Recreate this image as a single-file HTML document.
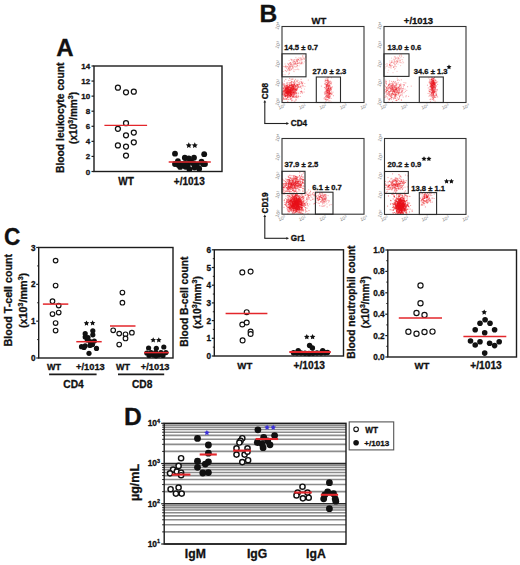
<!DOCTYPE html>
<html><head><meta charset="utf-8"><style>
html,body{margin:0;padding:0;background:#fff;}
svg{display:block;font-family:"Liberation Sans", sans-serif;}
</style></head><body>
<svg width="520" height="565" viewBox="0 0 520 565">
<defs><filter id="bl" x="-5%" y="-5%" width="110%" height="110%"><feGaussianBlur stdDeviation="0.3"/></filter></defs>
<rect width="520" height="565" fill="#fff"/>
<text x="56.30" y="56.40" font-size="24" font-weight="bold" text-anchor="start" fill="#111" stroke="#111" stroke-width="0.3">A</text>
<rect x="94.00" y="66.00" width="128.00" height="105.50" stroke="#1c1c1c" stroke-width="1.4" fill="none"/>
<line x1="91.50" y1="171.50" x2="94.00" y2="171.50" stroke="#1c1c1c" stroke-width="1.2"/>
<text x="90.20" y="174.50" font-size="8" font-weight="bold" text-anchor="end" fill="#111" stroke="#111" stroke-width="0.3">0</text>
<line x1="91.50" y1="156.43" x2="94.00" y2="156.43" stroke="#1c1c1c" stroke-width="1.2"/>
<text x="90.20" y="159.43" font-size="8" font-weight="bold" text-anchor="end" fill="#111" stroke="#111" stroke-width="0.3">2</text>
<line x1="91.50" y1="141.36" x2="94.00" y2="141.36" stroke="#1c1c1c" stroke-width="1.2"/>
<text x="90.20" y="144.36" font-size="8" font-weight="bold" text-anchor="end" fill="#111" stroke="#111" stroke-width="0.3">4</text>
<line x1="91.50" y1="126.29" x2="94.00" y2="126.29" stroke="#1c1c1c" stroke-width="1.2"/>
<text x="90.20" y="129.29" font-size="8" font-weight="bold" text-anchor="end" fill="#111" stroke="#111" stroke-width="0.3">6</text>
<line x1="91.50" y1="111.21" x2="94.00" y2="111.21" stroke="#1c1c1c" stroke-width="1.2"/>
<text x="90.20" y="114.21" font-size="8" font-weight="bold" text-anchor="end" fill="#111" stroke="#111" stroke-width="0.3">8</text>
<line x1="91.50" y1="96.14" x2="94.00" y2="96.14" stroke="#1c1c1c" stroke-width="1.2"/>
<text x="90.20" y="99.14" font-size="8" font-weight="bold" text-anchor="end" fill="#111" stroke="#111" stroke-width="0.3">10</text>
<line x1="91.50" y1="81.07" x2="94.00" y2="81.07" stroke="#1c1c1c" stroke-width="1.2"/>
<text x="90.20" y="84.07" font-size="8" font-weight="bold" text-anchor="end" fill="#111" stroke="#111" stroke-width="0.3">12</text>
<line x1="91.50" y1="66.00" x2="94.00" y2="66.00" stroke="#1c1c1c" stroke-width="1.2"/>
<text x="90.20" y="69.00" font-size="8" font-weight="bold" text-anchor="end" fill="#111" stroke="#111" stroke-width="0.3">14</text>
<text x="63.90" y="117.80" font-size="10.3" font-weight="bold" text-anchor="middle" fill="#111" stroke="#111" stroke-width="0.3" transform="rotate(-90 63.9 117.8)">Blood leukocyte count</text>
<text x="76.60" y="117.90" font-size="10.05" font-weight="bold" text-anchor="middle" fill="#111" stroke="#111" stroke-width="0.3" transform="rotate(-90 76.6 117.9)">(x10<tspan font-size="7.0" dy="-3.8">3</tspan><tspan dy="3.8">/mm</tspan><tspan font-size="7.0" dy="-3.8">3</tspan><tspan dy="3.8">)</tspan></text>
<text x="126.00" y="185.00" font-size="10" font-weight="bold" text-anchor="middle" fill="#111" stroke="#111" stroke-width="0.3">WT</text>
<text x="189.30" y="185.00" font-size="10" font-weight="bold" text-anchor="middle" fill="#111" stroke="#111" stroke-width="0.3">+/1013</text>
<circle cx="117.90" cy="87.70" r="2.5" fill="#fff" stroke="#111" stroke-width="1.25"/>
<circle cx="126.00" cy="92.30" r="2.5" fill="#fff" stroke="#111" stroke-width="1.25"/>
<circle cx="133.80" cy="91.70" r="2.5" fill="#fff" stroke="#111" stroke-width="1.25"/>
<circle cx="126.00" cy="123.20" r="2.5" fill="#fff" stroke="#111" stroke-width="1.25"/>
<circle cx="117.90" cy="128.80" r="2.5" fill="#fff" stroke="#111" stroke-width="1.25"/>
<circle cx="126.00" cy="135.30" r="2.5" fill="#fff" stroke="#111" stroke-width="1.25"/>
<circle cx="133.80" cy="132.50" r="2.5" fill="#fff" stroke="#111" stroke-width="1.25"/>
<circle cx="133.80" cy="142.30" r="2.5" fill="#fff" stroke="#111" stroke-width="1.25"/>
<circle cx="117.90" cy="145.40" r="2.5" fill="#fff" stroke="#111" stroke-width="1.25"/>
<circle cx="126.00" cy="146.50" r="2.5" fill="#fff" stroke="#111" stroke-width="1.25"/>
<circle cx="126.00" cy="155.50" r="2.5" fill="#fff" stroke="#111" stroke-width="1.25"/>
<circle cx="175.00" cy="153.70" r="2.9" fill="#111"/>
<circle cx="182.00" cy="164.00" r="2.9" fill="#111"/>
<circle cx="188.00" cy="164.50" r="2.9" fill="#111"/>
<circle cx="197.00" cy="164.50" r="2.9" fill="#111"/>
<circle cx="203.00" cy="164.00" r="2.9" fill="#111"/>
<circle cx="185.50" cy="166.80" r="2.9" fill="#111"/>
<circle cx="194.50" cy="167.50" r="2.9" fill="#111"/>
<circle cx="178.50" cy="165.00" r="2.9" fill="#111"/>
<circle cx="191.00" cy="161.50" r="2.9" fill="#111"/>
<circle cx="204.20" cy="154.20" r="2.9" fill="#111"/>
<circle cx="184.80" cy="157.70" r="2.9" fill="#111"/>
<circle cx="188.80" cy="158.30" r="2.9" fill="#111"/>
<circle cx="194.00" cy="157.70" r="2.9" fill="#111"/>
<circle cx="177.90" cy="161.20" r="2.9" fill="#111"/>
<circle cx="201.50" cy="161.70" r="2.9" fill="#111"/>
<circle cx="175.00" cy="164.00" r="2.9" fill="#111"/>
<circle cx="205.00" cy="164.00" r="2.9" fill="#111"/>
<circle cx="180.20" cy="166.90" r="2.9" fill="#111"/>
<circle cx="189.40" cy="169.20" r="2.9" fill="#111"/>
<circle cx="199.20" cy="168.70" r="2.9" fill="#111"/>
<circle cx="185.40" cy="162.90" r="2.9" fill="#111"/>
<circle cx="193.50" cy="163.50" r="2.9" fill="#111"/>
<polygon points="188.80,142.31 189.71,144.16 191.75,144.45 190.27,145.89 190.62,147.92 188.80,146.96 186.98,147.92 187.33,145.89 185.85,144.45 187.89,144.16" fill="#111"/>
<polygon points="194.80,142.31 195.71,144.16 197.75,144.45 196.27,145.89 196.62,147.92 194.80,146.96 192.98,147.92 193.33,145.89 191.85,144.45 193.89,144.16" fill="#111"/>
<text x="259.60" y="21.50" font-size="24.6" font-weight="bold" text-anchor="start" fill="#111" stroke="#111" stroke-width="0.3">B</text>
<text x="319.00" y="24.00" font-size="9.5" font-weight="bold" text-anchor="middle" fill="#111" stroke="#111" stroke-width="0.3">WT</text>
<text x="418.50" y="24.00" font-size="9.5" font-weight="bold" text-anchor="middle" fill="#111" stroke="#111" stroke-width="0.3">+/1013</text>
<g fill="#e8141c" fill-opacity="0.4" filter="url(#bl)"><circle cx="290.3" cy="92.6" r="0.6"/><circle cx="286.1" cy="89.1" r="0.6"/><circle cx="285.1" cy="89.3" r="0.6"/><circle cx="293.1" cy="96.2" r="0.6"/><circle cx="285.8" cy="90.7" r="0.6"/><circle cx="292.5" cy="91.3" r="0.6"/><circle cx="287.6" cy="87.8" r="0.6"/><circle cx="291.1" cy="94.1" r="0.6"/><circle cx="282.6" cy="93.9" r="0.6"/><circle cx="284.8" cy="96.3" r="0.6"/><circle cx="289.7" cy="90.4" r="0.6"/><circle cx="289.6" cy="92.1" r="0.6"/><circle cx="283.3" cy="91.5" r="0.6"/><circle cx="292.0" cy="85.4" r="0.6"/><circle cx="291.6" cy="94.8" r="0.6"/><circle cx="286.7" cy="92.8" r="0.6"/><circle cx="290.1" cy="91.4" r="0.6"/><circle cx="284.5" cy="95.4" r="0.6"/><circle cx="291.4" cy="81.9" r="0.6"/><circle cx="293.5" cy="89.4" r="0.6"/><circle cx="291.8" cy="100.6" r="0.6"/><circle cx="289.7" cy="84.9" r="0.6"/><circle cx="291.3" cy="93.4" r="0.6"/><circle cx="290.4" cy="94.5" r="0.6"/><circle cx="290.9" cy="94.1" r="0.6"/><circle cx="293.9" cy="84.8" r="0.6"/><circle cx="289.2" cy="89.2" r="0.6"/><circle cx="287.0" cy="86.8" r="0.6"/><circle cx="286.5" cy="92.5" r="0.6"/><circle cx="296.2" cy="92.9" r="0.6"/><circle cx="287.2" cy="82.4" r="0.6"/><circle cx="287.3" cy="92.5" r="0.6"/><circle cx="296.6" cy="90.2" r="0.6"/><circle cx="287.2" cy="91.1" r="0.6"/><circle cx="292.3" cy="97.7" r="0.6"/><circle cx="286.9" cy="91.7" r="0.6"/><circle cx="290.7" cy="90.0" r="0.6"/><circle cx="285.8" cy="88.1" r="0.6"/><circle cx="288.3" cy="89.9" r="0.6"/><circle cx="296.1" cy="90.4" r="0.6"/><circle cx="291.1" cy="94.0" r="0.6"/><circle cx="290.7" cy="96.3" r="0.6"/><circle cx="290.9" cy="93.6" r="0.6"/><circle cx="284.9" cy="96.6" r="0.6"/><circle cx="285.9" cy="89.2" r="0.6"/><circle cx="295.9" cy="99.1" r="0.6"/><circle cx="284.4" cy="91.7" r="0.6"/><circle cx="291.6" cy="92.7" r="0.6"/><circle cx="288.2" cy="91.3" r="0.6"/><circle cx="293.8" cy="91.3" r="0.6"/><circle cx="284.9" cy="94.3" r="0.6"/><circle cx="287.0" cy="87.6" r="0.6"/><circle cx="288.4" cy="87.6" r="0.6"/><circle cx="294.1" cy="89.3" r="0.6"/><circle cx="288.4" cy="89.1" r="0.6"/><circle cx="284.0" cy="84.7" r="0.6"/><circle cx="285.6" cy="96.2" r="0.6"/><circle cx="282.6" cy="100.9" r="0.6"/><circle cx="284.0" cy="99.4" r="0.6"/><circle cx="287.9" cy="96.8" r="0.6"/><circle cx="286.2" cy="85.6" r="0.6"/><circle cx="298.5" cy="93.0" r="0.6"/><circle cx="288.5" cy="90.7" r="0.6"/><circle cx="286.4" cy="88.5" r="0.6"/><circle cx="292.8" cy="86.3" r="0.6"/><circle cx="287.3" cy="88.8" r="0.6"/><circle cx="283.6" cy="88.8" r="0.6"/><circle cx="294.5" cy="87.2" r="0.6"/><circle cx="293.6" cy="88.7" r="0.6"/><circle cx="285.7" cy="92.4" r="0.6"/><circle cx="287.1" cy="93.2" r="0.6"/><circle cx="287.1" cy="91.5" r="0.6"/><circle cx="294.9" cy="84.1" r="0.6"/><circle cx="285.9" cy="95.9" r="0.6"/><circle cx="291.8" cy="82.1" r="0.6"/><circle cx="287.0" cy="89.8" r="0.6"/><circle cx="283.9" cy="99.4" r="0.6"/><circle cx="289.6" cy="91.8" r="0.6"/><circle cx="287.4" cy="95.4" r="0.6"/><circle cx="286.8" cy="92.6" r="0.6"/><circle cx="293.9" cy="85.7" r="0.6"/><circle cx="290.7" cy="90.5" r="0.6"/><circle cx="286.3" cy="91.0" r="0.6"/><circle cx="291.4" cy="88.5" r="0.6"/><circle cx="288.9" cy="92.0" r="0.6"/><circle cx="296.2" cy="90.4" r="0.6"/><circle cx="289.7" cy="88.3" r="0.6"/><circle cx="286.0" cy="99.0" r="0.6"/><circle cx="293.3" cy="88.1" r="0.6"/><circle cx="293.8" cy="92.7" r="0.6"/><circle cx="295.4" cy="92.3" r="0.6"/><circle cx="291.4" cy="98.3" r="0.6"/><circle cx="286.4" cy="98.3" r="0.6"/><circle cx="293.8" cy="93.2" r="0.6"/><circle cx="301.3" cy="91.2" r="0.6"/><circle cx="290.4" cy="85.4" r="0.6"/><circle cx="291.6" cy="94.6" r="0.6"/><circle cx="290.7" cy="90.9" r="0.6"/><circle cx="288.6" cy="92.4" r="0.6"/><circle cx="286.3" cy="88.5" r="0.6"/><circle cx="283.8" cy="98.2" r="0.6"/><circle cx="290.3" cy="93.1" r="0.6"/><circle cx="283.6" cy="92.1" r="0.6"/><circle cx="283.0" cy="91.3" r="0.6"/><circle cx="288.4" cy="88.1" r="0.6"/><circle cx="291.9" cy="91.7" r="0.6"/><circle cx="294.6" cy="80.4" r="0.6"/><circle cx="293.1" cy="88.5" r="0.6"/><circle cx="285.8" cy="86.3" r="0.6"/><circle cx="289.4" cy="95.6" r="0.6"/><circle cx="289.4" cy="92.0" r="0.6"/><circle cx="291.2" cy="96.5" r="0.6"/><circle cx="283.9" cy="83.6" r="0.6"/><circle cx="295.3" cy="87.7" r="0.6"/><circle cx="294.7" cy="88.7" r="0.6"/><circle cx="289.6" cy="91.2" r="0.6"/><circle cx="291.7" cy="94.3" r="0.6"/><circle cx="292.4" cy="90.6" r="0.6"/><circle cx="286.3" cy="96.5" r="0.6"/><circle cx="289.3" cy="97.5" r="0.6"/><circle cx="283.7" cy="94.8" r="0.6"/><circle cx="286.1" cy="86.7" r="0.6"/><circle cx="300.5" cy="91.6" r="0.6"/><circle cx="289.5" cy="95.7" r="0.6"/><circle cx="284.5" cy="81.0" r="0.6"/><circle cx="290.4" cy="90.5" r="0.6"/><circle cx="287.1" cy="87.4" r="0.6"/><circle cx="287.9" cy="91.7" r="0.6"/><circle cx="295.4" cy="89.2" r="0.6"/><circle cx="293.3" cy="97.0" r="0.6"/><circle cx="286.2" cy="91.8" r="0.6"/><circle cx="295.9" cy="91.9" r="0.6"/><circle cx="292.6" cy="89.9" r="0.6"/><circle cx="289.8" cy="89.9" r="0.6"/><circle cx="288.8" cy="92.3" r="0.6"/><circle cx="297.3" cy="89.0" r="0.6"/><circle cx="287.8" cy="89.6" r="0.6"/><circle cx="290.8" cy="99.2" r="0.6"/><circle cx="291.8" cy="90.2" r="0.6"/><circle cx="285.2" cy="88.5" r="0.6"/><circle cx="291.4" cy="94.8" r="0.6"/><circle cx="287.3" cy="91.9" r="0.6"/><circle cx="288.8" cy="92.6" r="0.6"/><circle cx="288.1" cy="97.2" r="0.6"/><circle cx="287.7" cy="95.9" r="0.6"/><circle cx="295.2" cy="85.8" r="0.6"/><circle cx="287.4" cy="94.0" r="0.6"/><circle cx="287.0" cy="87.9" r="0.6"/><circle cx="296.5" cy="97.4" r="0.6"/><circle cx="287.9" cy="91.5" r="0.6"/><circle cx="285.9" cy="95.8" r="0.6"/><circle cx="292.7" cy="84.4" r="0.6"/><circle cx="298.0" cy="93.8" r="0.6"/><circle cx="292.0" cy="92.7" r="0.6"/><circle cx="297.3" cy="85.0" r="0.6"/><circle cx="283.6" cy="88.4" r="0.6"/><circle cx="293.4" cy="96.7" r="0.6"/><circle cx="291.2" cy="85.2" r="0.6"/><circle cx="284.6" cy="92.2" r="0.6"/><circle cx="290.2" cy="89.9" r="0.6"/><circle cx="291.2" cy="91.9" r="0.6"/><circle cx="288.1" cy="92.2" r="0.6"/><circle cx="290.2" cy="90.6" r="0.6"/><circle cx="296.4" cy="96.7" r="0.6"/><circle cx="292.2" cy="89.9" r="0.6"/><circle cx="283.3" cy="97.9" r="0.6"/><circle cx="294.9" cy="91.5" r="0.6"/><circle cx="284.5" cy="85.8" r="0.6"/><circle cx="286.2" cy="90.2" r="0.6"/><circle cx="297.9" cy="97.7" r="0.6"/><circle cx="288.5" cy="88.0" r="0.6"/><circle cx="284.4" cy="94.8" r="0.6"/><circle cx="285.8" cy="87.9" r="0.6"/><circle cx="287.1" cy="87.0" r="0.6"/><circle cx="296.9" cy="92.0" r="0.6"/><circle cx="292.9" cy="86.6" r="0.6"/><circle cx="291.4" cy="89.5" r="0.6"/><circle cx="287.0" cy="91.4" r="0.6"/><circle cx="292.4" cy="88.4" r="0.6"/><circle cx="292.9" cy="94.5" r="0.6"/><circle cx="291.2" cy="92.4" r="0.6"/><circle cx="290.5" cy="96.3" r="0.6"/><circle cx="287.3" cy="86.5" r="0.6"/><circle cx="287.6" cy="97.2" r="0.6"/><circle cx="286.7" cy="83.3" r="0.6"/><circle cx="296.7" cy="89.6" r="0.6"/><circle cx="294.3" cy="86.1" r="0.6"/><circle cx="285.4" cy="88.3" r="0.6"/><circle cx="299.9" cy="83.3" r="0.6"/><circle cx="294.6" cy="84.4" r="0.6"/><circle cx="286.0" cy="85.0" r="0.6"/><circle cx="290.4" cy="96.2" r="0.6"/><circle cx="286.9" cy="99.1" r="0.6"/><circle cx="288.3" cy="86.7" r="0.6"/><circle cx="286.2" cy="91.3" r="0.6"/><circle cx="287.9" cy="89.7" r="0.6"/><circle cx="285.2" cy="92.9" r="0.6"/><circle cx="291.5" cy="94.8" r="0.6"/><circle cx="283.0" cy="96.1" r="0.6"/><circle cx="284.3" cy="89.9" r="0.6"/><circle cx="291.8" cy="87.1" r="0.6"/><circle cx="293.9" cy="84.2" r="0.6"/><circle cx="290.6" cy="89.5" r="0.6"/><circle cx="287.8" cy="95.9" r="0.6"/><circle cx="290.4" cy="94.1" r="0.6"/><circle cx="286.6" cy="87.7" r="0.6"/><circle cx="289.2" cy="92.0" r="0.6"/><circle cx="291.3" cy="85.4" r="0.6"/><circle cx="285.0" cy="85.4" r="0.6"/><circle cx="289.5" cy="85.7" r="0.6"/><circle cx="290.4" cy="82.7" r="0.6"/><circle cx="283.0" cy="92.1" r="0.6"/><circle cx="285.6" cy="96.2" r="0.6"/><circle cx="284.2" cy="91.3" r="0.6"/><circle cx="290.1" cy="87.0" r="0.6"/><circle cx="288.9" cy="86.7" r="0.6"/><circle cx="296.6" cy="84.8" r="0.6"/><circle cx="290.5" cy="90.7" r="0.6"/><circle cx="290.3" cy="91.2" r="0.6"/><circle cx="295.0" cy="82.1" r="0.6"/><circle cx="285.7" cy="98.2" r="0.6"/><circle cx="290.6" cy="85.6" r="0.6"/><circle cx="282.7" cy="94.4" r="0.6"/><circle cx="289.0" cy="86.1" r="0.6"/><circle cx="291.2" cy="84.5" r="0.6"/><circle cx="284.5" cy="86.9" r="0.6"/><circle cx="288.8" cy="99.4" r="0.6"/><circle cx="292.0" cy="87.6" r="0.6"/><circle cx="287.7" cy="92.6" r="0.6"/><circle cx="288.9" cy="91.4" r="0.6"/><circle cx="284.6" cy="94.6" r="0.6"/><circle cx="292.6" cy="96.3" r="0.6"/><circle cx="297.1" cy="85.4" r="0.6"/><circle cx="286.1" cy="93.6" r="0.6"/><circle cx="285.0" cy="90.6" r="0.6"/><circle cx="286.6" cy="87.9" r="0.6"/><circle cx="291.8" cy="89.3" r="0.6"/><circle cx="290.1" cy="90.1" r="0.6"/><circle cx="284.0" cy="90.3" r="0.6"/><circle cx="287.1" cy="90.2" r="0.6"/><circle cx="290.5" cy="90.8" r="0.6"/><circle cx="283.9" cy="95.8" r="0.6"/><circle cx="283.0" cy="84.9" r="0.6"/><circle cx="290.3" cy="91.8" r="0.6"/><circle cx="287.8" cy="90.4" r="0.6"/><circle cx="285.4" cy="89.1" r="0.6"/><circle cx="287.0" cy="90.3" r="0.6"/><circle cx="286.9" cy="86.9" r="0.6"/><circle cx="290.9" cy="91.3" r="0.6"/><circle cx="287.8" cy="90.3" r="0.6"/><circle cx="287.7" cy="83.9" r="0.6"/><circle cx="292.1" cy="91.0" r="0.6"/><circle cx="291.7" cy="92.0" r="0.6"/><circle cx="286.1" cy="92.5" r="0.6"/><circle cx="293.3" cy="91.2" r="0.6"/><circle cx="286.6" cy="85.4" r="0.6"/><circle cx="294.7" cy="94.1" r="0.6"/><circle cx="294.4" cy="89.3" r="0.6"/><circle cx="285.2" cy="99.5" r="0.6"/><circle cx="282.5" cy="82.8" r="0.6"/><circle cx="287.3" cy="85.0" r="0.6"/><circle cx="282.4" cy="93.1" r="0.6"/><circle cx="294.0" cy="86.4" r="0.6"/><circle cx="295.1" cy="97.0" r="0.6"/><circle cx="296.0" cy="86.4" r="0.6"/><circle cx="285.3" cy="87.7" r="0.6"/><circle cx="287.6" cy="95.1" r="0.6"/><circle cx="291.5" cy="90.7" r="0.6"/><circle cx="291.8" cy="85.7" r="0.6"/><circle cx="291.1" cy="94.3" r="0.6"/><circle cx="294.7" cy="93.6" r="0.6"/><circle cx="290.4" cy="89.2" r="0.6"/><circle cx="288.5" cy="86.8" r="0.6"/><circle cx="284.0" cy="98.5" r="0.6"/><circle cx="290.0" cy="92.8" r="0.6"/><circle cx="284.8" cy="90.2" r="0.6"/><circle cx="294.3" cy="90.2" r="0.6"/><circle cx="286.9" cy="93.2" r="0.6"/><circle cx="285.8" cy="79.3" r="0.6"/><circle cx="290.3" cy="93.8" r="0.6"/><circle cx="296.7" cy="95.6" r="0.6"/><circle cx="295.1" cy="89.2" r="0.6"/><circle cx="292.8" cy="93.4" r="0.6"/><circle cx="287.1" cy="93.0" r="0.6"/><circle cx="298.3" cy="95.9" r="0.6"/><circle cx="288.7" cy="91.8" r="0.6"/><circle cx="293.7" cy="95.7" r="0.6"/><circle cx="293.1" cy="96.9" r="0.6"/><circle cx="284.9" cy="93.7" r="0.6"/><circle cx="290.6" cy="94.9" r="0.6"/><circle cx="290.1" cy="82.9" r="0.6"/><circle cx="286.5" cy="95.4" r="0.6"/><circle cx="282.9" cy="88.0" r="0.6"/><circle cx="295.2" cy="90.2" r="0.6"/><circle cx="290.4" cy="88.3" r="0.6"/><circle cx="293.3" cy="87.6" r="0.6"/><circle cx="291.9" cy="84.9" r="0.6"/><circle cx="286.4" cy="94.8" r="0.6"/><circle cx="288.2" cy="96.0" r="0.6"/><circle cx="288.3" cy="87.4" r="0.6"/><circle cx="288.9" cy="90.0" r="0.6"/><circle cx="291.8" cy="86.5" r="0.6"/><circle cx="290.7" cy="97.2" r="0.6"/><circle cx="304.1" cy="92.0" r="0.6"/><circle cx="290.3" cy="92.1" r="0.6"/><circle cx="295.7" cy="86.5" r="0.6"/><circle cx="285.6" cy="94.8" r="0.6"/><circle cx="289.3" cy="87.2" r="0.6"/><circle cx="290.4" cy="86.8" r="0.6"/><circle cx="289.4" cy="92.7" r="0.6"/><circle cx="291.3" cy="88.4" r="0.6"/><circle cx="289.4" cy="86.8" r="0.6"/><circle cx="285.4" cy="88.9" r="0.6"/><circle cx="294.3" cy="88.0" r="0.6"/><circle cx="285.5" cy="92.4" r="0.6"/><circle cx="290.3" cy="94.7" r="0.6"/><circle cx="294.3" cy="101.8" r="0.6"/><circle cx="293.3" cy="88.2" r="0.6"/><circle cx="297.7" cy="96.8" r="0.6"/><circle cx="287.6" cy="90.9" r="0.6"/><circle cx="295.9" cy="89.7" r="0.6"/><circle cx="291.1" cy="87.7" r="0.6"/><circle cx="302.0" cy="91.9" r="0.6"/><circle cx="293.6" cy="92.3" r="0.6"/><circle cx="282.5" cy="99.8" r="0.6"/><circle cx="289.8" cy="93.6" r="0.6"/><circle cx="291.5" cy="88.2" r="0.6"/><circle cx="283.2" cy="97.9" r="0.6"/><circle cx="285.5" cy="92.5" r="0.6"/><circle cx="286.1" cy="92.1" r="0.6"/><circle cx="293.4" cy="94.8" r="0.6"/><circle cx="298.0" cy="85.7" r="0.6"/><circle cx="283.1" cy="93.3" r="0.6"/><circle cx="284.8" cy="84.0" r="0.6"/><circle cx="287.1" cy="85.0" r="0.6"/><circle cx="290.5" cy="90.2" r="0.6"/><circle cx="288.0" cy="92.2" r="0.6"/><circle cx="285.7" cy="90.9" r="0.6"/><circle cx="302.4" cy="93.1" r="0.6"/><circle cx="296.9" cy="90.1" r="0.6"/><circle cx="290.3" cy="98.7" r="0.6"/><circle cx="289.1" cy="91.4" r="0.6"/><circle cx="288.5" cy="92.7" r="0.6"/><circle cx="287.4" cy="92.5" r="0.6"/><circle cx="283.9" cy="93.4" r="0.6"/><circle cx="299.0" cy="84.4" r="0.6"/><circle cx="289.8" cy="94.1" r="0.6"/><circle cx="289.7" cy="85.4" r="0.6"/><circle cx="290.9" cy="95.4" r="0.6"/><circle cx="291.0" cy="91.1" r="0.6"/><circle cx="294.4" cy="84.4" r="0.6"/><circle cx="288.5" cy="89.4" r="0.6"/><circle cx="290.9" cy="80.0" r="0.6"/><circle cx="285.3" cy="91.6" r="0.6"/><circle cx="293.9" cy="91.7" r="0.6"/><circle cx="291.5" cy="81.7" r="0.6"/><circle cx="292.0" cy="88.2" r="0.6"/><circle cx="288.0" cy="95.4" r="0.6"/><circle cx="284.1" cy="87.2" r="0.6"/><circle cx="287.7" cy="94.8" r="0.6"/><circle cx="294.8" cy="96.3" r="0.6"/><circle cx="284.8" cy="86.6" r="0.6"/><circle cx="284.0" cy="90.4" r="0.6"/><circle cx="285.4" cy="96.7" r="0.6"/><circle cx="292.2" cy="89.0" r="0.6"/><circle cx="291.3" cy="90.8" r="0.6"/><circle cx="292.3" cy="89.8" r="0.6"/><circle cx="295.8" cy="89.3" r="0.6"/><circle cx="292.2" cy="91.8" r="0.6"/><circle cx="282.9" cy="95.3" r="0.6"/><circle cx="288.9" cy="93.0" r="0.6"/><circle cx="287.8" cy="101.4" r="0.6"/><circle cx="286.9" cy="86.8" r="0.6"/><circle cx="287.3" cy="89.2" r="0.6"/><circle cx="288.3" cy="88.9" r="0.6"/><circle cx="290.0" cy="87.2" r="0.6"/><circle cx="291.8" cy="95.1" r="0.6"/><circle cx="297.9" cy="80.2" r="0.6"/><circle cx="285.4" cy="89.9" r="0.6"/><circle cx="289.9" cy="85.0" r="0.6"/><circle cx="287.4" cy="92.8" r="0.6"/><circle cx="282.9" cy="91.0" r="0.6"/><circle cx="282.3" cy="94.3" r="0.6"/><circle cx="289.7" cy="90.4" r="0.6"/><circle cx="294.3" cy="91.1" r="0.6"/><circle cx="286.9" cy="88.5" r="0.6"/><circle cx="290.7" cy="87.5" r="0.6"/><circle cx="282.5" cy="92.1" r="0.6"/><circle cx="296.2" cy="88.0" r="0.6"/><circle cx="293.2" cy="86.3" r="0.6"/><circle cx="292.0" cy="86.5" r="0.6"/><circle cx="295.1" cy="100.9" r="0.6"/><circle cx="291.5" cy="87.4" r="0.6"/><circle cx="290.0" cy="92.9" r="0.6"/><circle cx="293.4" cy="86.1" r="0.6"/><circle cx="289.8" cy="91.8" r="0.6"/><circle cx="295.9" cy="88.7" r="0.6"/><circle cx="290.2" cy="85.1" r="0.6"/><circle cx="298.5" cy="96.5" r="0.6"/><circle cx="293.4" cy="90.1" r="0.6"/><circle cx="294.7" cy="97.5" r="0.6"/><circle cx="285.3" cy="93.9" r="0.6"/><circle cx="293.3" cy="92.8" r="0.6"/><circle cx="288.4" cy="93.9" r="0.6"/><circle cx="288.6" cy="92.8" r="0.6"/><circle cx="286.1" cy="87.8" r="0.6"/><circle cx="291.6" cy="94.7" r="0.6"/><circle cx="284.8" cy="93.5" r="0.6"/><circle cx="289.6" cy="85.7" r="0.6"/><circle cx="287.6" cy="87.1" r="0.6"/><circle cx="300.2" cy="96.5" r="0.6"/><circle cx="297.6" cy="84.7" r="0.6"/><circle cx="293.0" cy="89.7" r="0.6"/><circle cx="293.8" cy="96.8" r="0.6"/><circle cx="286.5" cy="99.2" r="0.6"/><circle cx="292.8" cy="96.7" r="0.6"/><circle cx="288.6" cy="88.5" r="0.6"/><circle cx="292.5" cy="93.3" r="0.6"/><circle cx="290.9" cy="93.2" r="0.6"/><circle cx="295.1" cy="91.3" r="0.6"/><circle cx="290.3" cy="91.3" r="0.6"/><circle cx="292.8" cy="86.8" r="0.6"/><circle cx="286.0" cy="92.9" r="0.6"/><circle cx="291.1" cy="83.0" r="0.6"/><circle cx="293.0" cy="85.6" r="0.6"/><circle cx="288.0" cy="99.3" r="0.6"/><circle cx="285.8" cy="87.1" r="0.6"/><circle cx="290.3" cy="95.9" r="0.6"/><circle cx="293.5" cy="86.4" r="0.6"/><circle cx="293.0" cy="92.9" r="0.6"/><circle cx="287.7" cy="94.7" r="0.6"/><circle cx="288.0" cy="89.7" r="0.6"/><circle cx="287.6" cy="93.2" r="0.6"/><circle cx="288.2" cy="89.4" r="0.6"/><circle cx="290.5" cy="96.8" r="0.6"/><circle cx="292.6" cy="94.1" r="0.6"/><circle cx="296.1" cy="90.0" r="0.6"/><circle cx="297.1" cy="81.8" r="0.6"/><circle cx="292.1" cy="87.9" r="0.6"/><circle cx="301.7" cy="92.1" r="0.6"/><circle cx="294.3" cy="92.4" r="0.6"/><circle cx="292.5" cy="89.0" r="0.6"/><circle cx="293.1" cy="92.5" r="0.6"/><circle cx="291.8" cy="95.4" r="0.6"/><circle cx="287.5" cy="98.0" r="0.6"/><circle cx="286.3" cy="89.0" r="0.6"/><circle cx="288.8" cy="87.1" r="0.6"/><circle cx="290.6" cy="93.4" r="0.6"/><circle cx="293.5" cy="87.9" r="0.6"/><circle cx="294.0" cy="88.4" r="0.6"/><circle cx="290.6" cy="93.8" r="0.6"/><circle cx="293.1" cy="87.1" r="0.6"/><circle cx="288.1" cy="91.6" r="0.6"/><circle cx="287.6" cy="88.0" r="0.6"/><circle cx="292.9" cy="87.0" r="0.6"/><circle cx="289.4" cy="87.1" r="0.6"/><circle cx="292.0" cy="91.8" r="0.6"/><circle cx="292.8" cy="100.0" r="0.6"/><circle cx="295.6" cy="96.8" r="0.6"/><circle cx="291.9" cy="86.3" r="0.6"/><circle cx="289.0" cy="94.2" r="0.6"/><circle cx="289.9" cy="91.5" r="0.6"/><circle cx="283.7" cy="85.8" r="0.6"/><circle cx="282.9" cy="84.2" r="0.6"/><circle cx="289.3" cy="87.8" r="0.6"/><circle cx="285.9" cy="92.8" r="0.6"/><circle cx="287.0" cy="85.5" r="0.6"/><circle cx="293.6" cy="82.9" r="0.6"/><circle cx="288.8" cy="84.6" r="0.6"/><circle cx="290.0" cy="89.5" r="0.6"/><circle cx="290.7" cy="93.7" r="0.6"/><circle cx="297.5" cy="87.0" r="0.6"/><circle cx="287.6" cy="87.6" r="0.6"/><circle cx="291.4" cy="88.9" r="0.6"/><circle cx="292.9" cy="88.9" r="0.6"/><circle cx="291.9" cy="79.2" r="0.6"/><circle cx="290.5" cy="95.6" r="0.6"/><circle cx="286.0" cy="89.7" r="0.6"/><circle cx="284.9" cy="87.3" r="0.6"/><circle cx="296.2" cy="99.9" r="0.6"/><circle cx="291.6" cy="84.1" r="0.6"/><circle cx="284.8" cy="92.6" r="0.6"/><circle cx="291.7" cy="85.5" r="0.6"/><circle cx="288.8" cy="96.7" r="0.6"/><circle cx="292.2" cy="87.6" r="0.6"/><circle cx="291.1" cy="87.0" r="0.6"/><circle cx="296.3" cy="96.8" r="0.6"/><circle cx="291.6" cy="83.9" r="0.6"/><circle cx="296.1" cy="93.1" r="0.6"/><circle cx="283.9" cy="90.3" r="0.6"/><circle cx="285.0" cy="86.1" r="0.6"/><circle cx="289.7" cy="78.4" r="0.6"/><circle cx="284.1" cy="93.8" r="0.6"/><circle cx="289.0" cy="92.8" r="0.6"/><circle cx="290.1" cy="89.9" r="0.6"/><circle cx="288.9" cy="80.4" r="0.6"/><circle cx="287.7" cy="88.9" r="0.6"/><circle cx="290.6" cy="91.9" r="0.6"/><circle cx="284.0" cy="91.9" r="0.6"/><circle cx="293.8" cy="90.4" r="0.6"/><circle cx="291.8" cy="100.9" r="0.6"/><circle cx="295.6" cy="79.3" r="0.6"/></g>
<g fill="#e8141c" fill-opacity="0.3" filter="url(#bl)"><circle cx="301.6" cy="91.3" r="0.6"/><circle cx="299.6" cy="84.3" r="0.6"/><circle cx="294.2" cy="85.3" r="0.6"/><circle cx="294.2" cy="85.3" r="0.6"/><circle cx="298.4" cy="82.9" r="0.6"/><circle cx="292.1" cy="84.3" r="0.6"/><circle cx="294.3" cy="83.9" r="0.6"/><circle cx="297.1" cy="89.1" r="0.6"/><circle cx="298.4" cy="86.2" r="0.6"/><circle cx="297.6" cy="85.1" r="0.6"/><circle cx="294.9" cy="85.6" r="0.6"/><circle cx="297.2" cy="81.2" r="0.6"/><circle cx="301.5" cy="82.2" r="0.6"/><circle cx="292.1" cy="86.9" r="0.6"/><circle cx="293.5" cy="88.3" r="0.6"/><circle cx="295.0" cy="90.9" r="0.6"/><circle cx="288.9" cy="82.7" r="0.6"/><circle cx="289.5" cy="83.2" r="0.6"/><circle cx="297.7" cy="88.7" r="0.6"/><circle cx="296.4" cy="80.9" r="0.6"/><circle cx="295.9" cy="92.6" r="0.6"/><circle cx="297.3" cy="85.1" r="0.6"/><circle cx="304.5" cy="89.0" r="0.6"/><circle cx="301.6" cy="82.6" r="0.6"/><circle cx="298.5" cy="86.5" r="0.6"/><circle cx="291.7" cy="85.2" r="0.6"/><circle cx="294.6" cy="83.5" r="0.6"/><circle cx="295.9" cy="86.4" r="0.6"/><circle cx="295.2" cy="85.9" r="0.6"/><circle cx="299.6" cy="87.3" r="0.6"/><circle cx="292.6" cy="85.4" r="0.6"/><circle cx="287.7" cy="88.4" r="0.6"/><circle cx="298.3" cy="84.6" r="0.6"/><circle cx="291.2" cy="88.0" r="0.6"/><circle cx="297.0" cy="87.1" r="0.6"/><circle cx="293.1" cy="87.1" r="0.6"/><circle cx="286.6" cy="88.4" r="0.6"/><circle cx="295.0" cy="87.5" r="0.6"/><circle cx="293.1" cy="85.1" r="0.6"/><circle cx="295.7" cy="86.2" r="0.6"/><circle cx="292.4" cy="81.6" r="0.6"/><circle cx="293.9" cy="84.3" r="0.6"/><circle cx="294.1" cy="88.1" r="0.6"/><circle cx="300.2" cy="86.4" r="0.6"/><circle cx="295.6" cy="89.7" r="0.6"/><circle cx="302.8" cy="85.4" r="0.6"/><circle cx="301.4" cy="81.7" r="0.6"/><circle cx="296.7" cy="88.5" r="0.6"/><circle cx="290.8" cy="90.4" r="0.6"/><circle cx="293.2" cy="86.6" r="0.6"/><circle cx="287.3" cy="88.8" r="0.6"/><circle cx="297.4" cy="88.2" r="0.6"/><circle cx="299.9" cy="83.0" r="0.6"/><circle cx="293.8" cy="84.5" r="0.6"/><circle cx="297.2" cy="84.2" r="0.6"/><circle cx="301.5" cy="88.6" r="0.6"/><circle cx="293.3" cy="82.4" r="0.6"/><circle cx="290.0" cy="84.9" r="0.6"/><circle cx="293.3" cy="92.6" r="0.6"/><circle cx="294.3" cy="81.6" r="0.6"/><circle cx="300.8" cy="87.2" r="0.6"/><circle cx="293.4" cy="85.4" r="0.6"/><circle cx="295.1" cy="87.7" r="0.6"/><circle cx="300.7" cy="87.1" r="0.6"/><circle cx="303.0" cy="85.4" r="0.6"/><circle cx="302.7" cy="83.7" r="0.6"/><circle cx="289.5" cy="90.1" r="0.6"/><circle cx="296.6" cy="84.2" r="0.6"/><circle cx="299.1" cy="82.5" r="0.6"/><circle cx="294.7" cy="92.2" r="0.6"/><circle cx="299.1" cy="84.6" r="0.6"/><circle cx="301.6" cy="86.0" r="0.6"/><circle cx="293.2" cy="79.0" r="0.6"/><circle cx="292.4" cy="86.8" r="0.6"/><circle cx="292.3" cy="89.3" r="0.6"/><circle cx="300.0" cy="81.4" r="0.6"/><circle cx="294.8" cy="94.2" r="0.6"/><circle cx="292.0" cy="84.3" r="0.6"/><circle cx="297.7" cy="86.4" r="0.6"/><circle cx="294.5" cy="90.0" r="0.6"/><circle cx="292.4" cy="85.1" r="0.6"/><circle cx="298.1" cy="87.4" r="0.6"/><circle cx="294.0" cy="88.6" r="0.6"/><circle cx="300.5" cy="93.2" r="0.6"/><circle cx="295.5" cy="91.4" r="0.6"/><circle cx="295.6" cy="85.8" r="0.6"/><circle cx="300.5" cy="86.1" r="0.6"/><circle cx="301.8" cy="83.2" r="0.6"/><circle cx="292.6" cy="86.4" r="0.6"/><circle cx="299.1" cy="86.0" r="0.6"/><circle cx="302.4" cy="83.0" r="0.6"/><circle cx="303.0" cy="86.7" r="0.6"/><circle cx="294.1" cy="81.9" r="0.6"/><circle cx="288.7" cy="85.8" r="0.6"/><circle cx="301.1" cy="79.4" r="0.6"/><circle cx="302.1" cy="83.9" r="0.6"/><circle cx="304.8" cy="83.5" r="0.6"/><circle cx="295.2" cy="85.8" r="0.6"/><circle cx="296.7" cy="86.2" r="0.6"/><circle cx="293.8" cy="87.4" r="0.6"/><circle cx="295.5" cy="83.0" r="0.6"/><circle cx="298.2" cy="87.5" r="0.6"/><circle cx="297.1" cy="88.1" r="0.6"/><circle cx="291.4" cy="93.3" r="0.6"/><circle cx="294.6" cy="89.3" r="0.6"/><circle cx="292.3" cy="79.1" r="0.6"/><circle cx="293.3" cy="88.7" r="0.6"/><circle cx="302.9" cy="82.2" r="0.6"/><circle cx="294.6" cy="81.8" r="0.6"/><circle cx="305.0" cy="86.3" r="0.6"/><circle cx="295.7" cy="85.4" r="0.6"/><circle cx="290.9" cy="92.8" r="0.6"/><circle cx="308.3" cy="80.0" r="0.6"/><circle cx="302.1" cy="83.7" r="0.6"/><circle cx="294.3" cy="92.1" r="0.6"/><circle cx="290.6" cy="89.0" r="0.6"/><circle cx="298.7" cy="87.4" r="0.6"/></g>
<g fill="#e8141c" fill-opacity="0.45" filter="url(#bl)"><circle cx="290.1" cy="92.9" r="0.6"/><circle cx="287.0" cy="88.9" r="0.6"/><circle cx="289.2" cy="90.3" r="0.6"/><circle cx="285.6" cy="89.0" r="0.6"/><circle cx="287.7" cy="87.6" r="0.6"/><circle cx="285.5" cy="88.1" r="0.6"/><circle cx="289.5" cy="93.0" r="0.6"/><circle cx="294.2" cy="88.4" r="0.6"/><circle cx="287.2" cy="94.2" r="0.6"/><circle cx="288.4" cy="91.2" r="0.6"/><circle cx="293.4" cy="91.2" r="0.6"/><circle cx="286.0" cy="88.8" r="0.6"/><circle cx="289.9" cy="92.7" r="0.6"/><circle cx="285.4" cy="89.6" r="0.6"/><circle cx="290.4" cy="93.4" r="0.6"/><circle cx="287.3" cy="93.5" r="0.6"/><circle cx="290.5" cy="87.7" r="0.6"/><circle cx="288.2" cy="93.0" r="0.6"/><circle cx="287.5" cy="86.9" r="0.6"/><circle cx="288.3" cy="93.8" r="0.6"/><circle cx="293.1" cy="86.7" r="0.6"/><circle cx="295.8" cy="89.3" r="0.6"/><circle cx="291.5" cy="95.0" r="0.6"/><circle cx="291.6" cy="92.4" r="0.6"/><circle cx="286.0" cy="93.5" r="0.6"/><circle cx="287.1" cy="85.9" r="0.6"/><circle cx="296.4" cy="93.7" r="0.6"/><circle cx="293.7" cy="89.8" r="0.6"/><circle cx="292.8" cy="95.8" r="0.6"/><circle cx="293.0" cy="91.9" r="0.6"/><circle cx="285.9" cy="91.6" r="0.6"/><circle cx="283.3" cy="87.9" r="0.6"/><circle cx="289.2" cy="89.6" r="0.6"/><circle cx="288.6" cy="91.7" r="0.6"/><circle cx="294.0" cy="95.1" r="0.6"/><circle cx="288.9" cy="94.9" r="0.6"/><circle cx="287.0" cy="91.2" r="0.6"/><circle cx="291.4" cy="89.0" r="0.6"/><circle cx="288.3" cy="88.8" r="0.6"/><circle cx="289.3" cy="95.9" r="0.6"/><circle cx="287.0" cy="92.5" r="0.6"/><circle cx="286.7" cy="89.2" r="0.6"/><circle cx="285.8" cy="95.5" r="0.6"/><circle cx="295.1" cy="93.2" r="0.6"/><circle cx="287.1" cy="93.7" r="0.6"/><circle cx="288.1" cy="93.9" r="0.6"/><circle cx="289.8" cy="92.7" r="0.6"/><circle cx="290.6" cy="90.6" r="0.6"/><circle cx="287.9" cy="87.9" r="0.6"/><circle cx="287.9" cy="88.6" r="0.6"/><circle cx="288.6" cy="89.7" r="0.6"/><circle cx="289.3" cy="93.1" r="0.6"/><circle cx="285.3" cy="90.0" r="0.6"/><circle cx="286.5" cy="93.8" r="0.6"/><circle cx="293.4" cy="94.0" r="0.6"/><circle cx="288.1" cy="95.5" r="0.6"/><circle cx="285.1" cy="95.6" r="0.6"/><circle cx="287.3" cy="85.3" r="0.6"/><circle cx="295.9" cy="95.8" r="0.6"/><circle cx="286.3" cy="92.4" r="0.6"/><circle cx="288.4" cy="92.2" r="0.6"/><circle cx="285.1" cy="90.4" r="0.6"/><circle cx="290.2" cy="92.5" r="0.6"/><circle cx="292.1" cy="92.2" r="0.6"/><circle cx="295.1" cy="90.3" r="0.6"/><circle cx="289.7" cy="87.4" r="0.6"/><circle cx="285.7" cy="95.2" r="0.6"/><circle cx="286.5" cy="93.3" r="0.6"/><circle cx="288.8" cy="89.5" r="0.6"/><circle cx="288.1" cy="90.8" r="0.6"/><circle cx="287.7" cy="93.8" r="0.6"/><circle cx="290.7" cy="90.6" r="0.6"/><circle cx="286.6" cy="92.7" r="0.6"/><circle cx="288.7" cy="94.5" r="0.6"/><circle cx="295.9" cy="94.0" r="0.6"/><circle cx="288.9" cy="91.6" r="0.6"/><circle cx="286.8" cy="89.8" r="0.6"/><circle cx="286.4" cy="91.1" r="0.6"/><circle cx="287.9" cy="93.8" r="0.6"/><circle cx="288.0" cy="91.5" r="0.6"/><circle cx="285.8" cy="95.9" r="0.6"/><circle cx="290.3" cy="96.3" r="0.6"/><circle cx="291.1" cy="95.6" r="0.6"/><circle cx="288.4" cy="93.7" r="0.6"/><circle cx="296.0" cy="89.1" r="0.6"/><circle cx="292.1" cy="96.1" r="0.6"/><circle cx="290.1" cy="93.8" r="0.6"/><circle cx="292.3" cy="90.4" r="0.6"/><circle cx="290.1" cy="89.9" r="0.6"/><circle cx="287.2" cy="90.5" r="0.6"/><circle cx="288.6" cy="92.4" r="0.6"/><circle cx="290.2" cy="88.5" r="0.6"/><circle cx="294.3" cy="94.8" r="0.6"/><circle cx="290.9" cy="91.1" r="0.6"/><circle cx="288.8" cy="93.3" r="0.6"/><circle cx="290.1" cy="87.9" r="0.6"/><circle cx="291.0" cy="99.2" r="0.6"/><circle cx="284.1" cy="94.4" r="0.6"/><circle cx="290.0" cy="91.7" r="0.6"/><circle cx="292.7" cy="89.1" r="0.6"/><circle cx="289.4" cy="95.6" r="0.6"/><circle cx="288.5" cy="91.0" r="0.6"/><circle cx="289.3" cy="90.9" r="0.6"/><circle cx="293.1" cy="89.8" r="0.6"/><circle cx="291.3" cy="88.9" r="0.6"/><circle cx="290.8" cy="91.7" r="0.6"/><circle cx="286.1" cy="90.9" r="0.6"/><circle cx="293.1" cy="89.2" r="0.6"/><circle cx="286.2" cy="95.6" r="0.6"/><circle cx="289.3" cy="95.8" r="0.6"/><circle cx="289.9" cy="89.8" r="0.6"/><circle cx="288.8" cy="95.0" r="0.6"/><circle cx="291.5" cy="92.0" r="0.6"/><circle cx="289.1" cy="91.7" r="0.6"/><circle cx="287.5" cy="96.8" r="0.6"/><circle cx="289.0" cy="89.2" r="0.6"/><circle cx="287.7" cy="93.8" r="0.6"/><circle cx="290.7" cy="91.7" r="0.6"/><circle cx="287.2" cy="92.1" r="0.6"/><circle cx="284.5" cy="88.8" r="0.6"/><circle cx="291.1" cy="90.8" r="0.6"/><circle cx="290.0" cy="95.0" r="0.6"/><circle cx="290.7" cy="92.1" r="0.6"/><circle cx="294.7" cy="93.6" r="0.6"/><circle cx="288.1" cy="93.8" r="0.6"/><circle cx="290.1" cy="89.9" r="0.6"/><circle cx="289.2" cy="91.6" r="0.6"/><circle cx="283.7" cy="91.6" r="0.6"/><circle cx="288.2" cy="90.9" r="0.6"/><circle cx="284.6" cy="91.1" r="0.6"/><circle cx="288.9" cy="92.3" r="0.6"/><circle cx="286.0" cy="93.6" r="0.6"/><circle cx="285.8" cy="91.4" r="0.6"/><circle cx="292.5" cy="90.3" r="0.6"/><circle cx="287.6" cy="94.6" r="0.6"/><circle cx="288.0" cy="91.3" r="0.6"/><circle cx="289.6" cy="94.6" r="0.6"/><circle cx="283.1" cy="90.0" r="0.6"/><circle cx="286.3" cy="89.3" r="0.6"/><circle cx="286.7" cy="89.9" r="0.6"/><circle cx="289.8" cy="89.8" r="0.6"/><circle cx="289.3" cy="93.0" r="0.6"/><circle cx="287.1" cy="92.3" r="0.6"/><circle cx="293.4" cy="92.8" r="0.6"/><circle cx="287.3" cy="91.8" r="0.6"/><circle cx="286.6" cy="92.7" r="0.6"/><circle cx="291.3" cy="90.0" r="0.6"/><circle cx="288.4" cy="94.7" r="0.6"/><circle cx="287.7" cy="92.5" r="0.6"/><circle cx="286.3" cy="90.0" r="0.6"/><circle cx="287.6" cy="97.2" r="0.6"/><circle cx="287.9" cy="90.7" r="0.6"/><circle cx="287.5" cy="91.6" r="0.6"/><circle cx="290.7" cy="92.5" r="0.6"/><circle cx="294.4" cy="92.5" r="0.6"/><circle cx="292.8" cy="92.7" r="0.6"/><circle cx="290.6" cy="88.5" r="0.6"/><circle cx="288.7" cy="91.8" r="0.6"/><circle cx="288.4" cy="86.8" r="0.6"/><circle cx="291.3" cy="91.1" r="0.6"/><circle cx="287.9" cy="91.4" r="0.6"/><circle cx="288.4" cy="93.0" r="0.6"/><circle cx="285.7" cy="89.8" r="0.6"/><circle cx="289.8" cy="92.3" r="0.6"/><circle cx="288.0" cy="90.6" r="0.6"/><circle cx="286.8" cy="91.9" r="0.6"/><circle cx="292.1" cy="89.5" r="0.6"/><circle cx="293.0" cy="94.0" r="0.6"/><circle cx="287.8" cy="93.9" r="0.6"/></g>
<g fill="#e8141c" fill-opacity="0.25" filter="url(#bl)"><circle cx="283.6" cy="66.3" r="0.6"/><circle cx="286.5" cy="68.4" r="0.6"/><circle cx="291.5" cy="64.6" r="0.6"/><circle cx="291.3" cy="59.6" r="0.6"/><circle cx="294.5" cy="59.6" r="0.6"/><circle cx="289.9" cy="66.1" r="0.6"/><circle cx="285.8" cy="65.9" r="0.6"/><circle cx="288.6" cy="68.2" r="0.6"/><circle cx="298.0" cy="63.5" r="0.6"/><circle cx="287.5" cy="66.5" r="0.6"/><circle cx="289.8" cy="68.9" r="0.6"/><circle cx="285.0" cy="74.7" r="0.6"/><circle cx="290.3" cy="64.6" r="0.6"/><circle cx="297.3" cy="65.4" r="0.6"/><circle cx="297.4" cy="65.5" r="0.6"/><circle cx="296.5" cy="66.6" r="0.6"/><circle cx="300.5" cy="59.6" r="0.6"/><circle cx="301.9" cy="59.5" r="0.6"/><circle cx="293.1" cy="62.2" r="0.6"/><circle cx="293.6" cy="67.2" r="0.6"/><circle cx="288.0" cy="70.8" r="0.6"/><circle cx="296.3" cy="63.8" r="0.6"/><circle cx="296.3" cy="60.5" r="0.6"/><circle cx="290.9" cy="59.1" r="0.6"/><circle cx="296.6" cy="60.6" r="0.6"/><circle cx="295.9" cy="57.3" r="0.6"/><circle cx="297.3" cy="61.4" r="0.6"/><circle cx="296.9" cy="59.5" r="0.6"/><circle cx="294.1" cy="71.6" r="0.6"/><circle cx="288.5" cy="66.1" r="0.6"/><circle cx="291.0" cy="63.4" r="0.6"/><circle cx="302.9" cy="63.7" r="0.6"/><circle cx="287.7" cy="63.4" r="0.6"/><circle cx="301.9" cy="62.5" r="0.6"/><circle cx="300.1" cy="63.9" r="0.6"/><circle cx="289.1" cy="67.4" r="0.6"/><circle cx="284.5" cy="66.6" r="0.6"/><circle cx="298.2" cy="59.4" r="0.6"/><circle cx="291.8" cy="68.6" r="0.6"/><circle cx="304.3" cy="58.8" r="0.6"/><circle cx="288.1" cy="69.8" r="0.6"/><circle cx="300.6" cy="58.3" r="0.6"/><circle cx="291.4" cy="69.5" r="0.6"/><circle cx="293.1" cy="61.6" r="0.6"/><circle cx="290.9" cy="64.3" r="0.6"/><circle cx="295.7" cy="63.6" r="0.6"/><circle cx="301.2" cy="61.7" r="0.6"/><circle cx="286.3" cy="71.2" r="0.6"/><circle cx="299.5" cy="62.1" r="0.6"/><circle cx="298.7" cy="59.5" r="0.6"/><circle cx="290.3" cy="70.0" r="0.6"/><circle cx="285.1" cy="63.9" r="0.6"/><circle cx="298.4" cy="59.1" r="0.6"/><circle cx="290.3" cy="62.7" r="0.6"/><circle cx="285.2" cy="67.0" r="0.6"/><circle cx="292.6" cy="66.6" r="0.6"/><circle cx="282.9" cy="74.7" r="0.6"/><circle cx="286.1" cy="66.6" r="0.6"/><circle cx="297.5" cy="61.8" r="0.6"/><circle cx="288.6" cy="74.2" r="0.6"/><circle cx="289.8" cy="68.2" r="0.6"/><circle cx="297.2" cy="66.8" r="0.6"/><circle cx="293.1" cy="68.3" r="0.6"/><circle cx="291.7" cy="69.7" r="0.6"/><circle cx="289.4" cy="66.6" r="0.6"/><circle cx="304.6" cy="58.1" r="0.6"/><circle cx="297.9" cy="68.9" r="0.6"/><circle cx="294.7" cy="61.4" r="0.6"/><circle cx="296.1" cy="59.2" r="0.6"/><circle cx="301.8" cy="62.9" r="0.6"/><circle cx="290.0" cy="65.3" r="0.6"/><circle cx="295.0" cy="63.9" r="0.6"/><circle cx="289.6" cy="69.4" r="0.6"/><circle cx="282.5" cy="71.2" r="0.6"/><circle cx="291.4" cy="65.4" r="0.6"/><circle cx="293.8" cy="60.7" r="0.6"/><circle cx="296.9" cy="61.9" r="0.6"/><circle cx="288.5" cy="64.0" r="0.6"/><circle cx="288.2" cy="69.7" r="0.6"/><circle cx="289.0" cy="68.2" r="0.6"/><circle cx="301.2" cy="62.7" r="0.6"/><circle cx="301.9" cy="58.1" r="0.6"/><circle cx="289.7" cy="70.7" r="0.6"/><circle cx="297.3" cy="65.7" r="0.6"/><circle cx="295.8" cy="67.0" r="0.6"/><circle cx="299.6" cy="62.9" r="0.6"/><circle cx="297.3" cy="63.5" r="0.6"/><circle cx="295.6" cy="64.1" r="0.6"/><circle cx="298.5" cy="59.7" r="0.6"/><circle cx="303.1" cy="57.8" r="0.6"/><circle cx="299.1" cy="60.6" r="0.6"/><circle cx="295.7" cy="69.7" r="0.6"/><circle cx="290.4" cy="62.9" r="0.6"/><circle cx="289.7" cy="66.5" r="0.6"/><circle cx="305.8" cy="56.9" r="0.6"/><circle cx="297.5" cy="58.9" r="0.6"/><circle cx="296.9" cy="64.6" r="0.6"/><circle cx="302.6" cy="56.3" r="0.6"/><circle cx="297.7" cy="62.9" r="0.6"/><circle cx="288.5" cy="68.3" r="0.6"/><circle cx="289.1" cy="60.5" r="0.6"/><circle cx="298.0" cy="63.4" r="0.6"/><circle cx="289.7" cy="63.3" r="0.6"/><circle cx="302.3" cy="59.5" r="0.6"/><circle cx="301.5" cy="63.7" r="0.6"/><circle cx="292.4" cy="68.2" r="0.6"/><circle cx="292.6" cy="65.3" r="0.6"/><circle cx="293.5" cy="64.8" r="0.6"/><circle cx="300.1" cy="60.6" r="0.6"/><circle cx="292.8" cy="64.5" r="0.6"/><circle cx="294.5" cy="61.3" r="0.6"/><circle cx="291.2" cy="66.3" r="0.6"/><circle cx="290.8" cy="66.4" r="0.6"/><circle cx="293.7" cy="71.0" r="0.6"/><circle cx="301.7" cy="60.5" r="0.6"/><circle cx="297.0" cy="69.4" r="0.6"/><circle cx="295.6" cy="63.1" r="0.6"/><circle cx="296.1" cy="64.0" r="0.6"/><circle cx="301.5" cy="59.2" r="0.6"/><circle cx="303.9" cy="54.8" r="0.6"/><circle cx="296.2" cy="59.8" r="0.6"/><circle cx="303.2" cy="57.0" r="0.6"/><circle cx="295.1" cy="66.7" r="0.6"/><circle cx="299.0" cy="57.5" r="0.6"/><circle cx="290.1" cy="62.8" r="0.6"/><circle cx="294.6" cy="63.8" r="0.6"/><circle cx="291.1" cy="64.3" r="0.6"/><circle cx="290.8" cy="64.3" r="0.6"/><circle cx="299.1" cy="65.8" r="0.6"/><circle cx="283.5" cy="71.5" r="0.6"/><circle cx="292.5" cy="67.1" r="0.6"/><circle cx="288.7" cy="67.7" r="0.6"/><circle cx="289.5" cy="69.9" r="0.6"/><circle cx="294.3" cy="63.8" r="0.6"/><circle cx="295.6" cy="62.6" r="0.6"/><circle cx="286.6" cy="71.6" r="0.6"/><circle cx="295.3" cy="63.1" r="0.6"/><circle cx="301.1" cy="63.4" r="0.6"/><circle cx="287.0" cy="66.9" r="0.6"/><circle cx="304.4" cy="61.8" r="0.6"/><circle cx="288.3" cy="64.7" r="0.6"/><circle cx="289.9" cy="65.8" r="0.6"/><circle cx="285.6" cy="70.5" r="0.6"/><circle cx="285.4" cy="66.7" r="0.6"/><circle cx="297.9" cy="59.6" r="0.6"/><circle cx="294.6" cy="66.1" r="0.6"/><circle cx="297.8" cy="60.8" r="0.6"/><circle cx="293.0" cy="62.6" r="0.6"/><circle cx="304.3" cy="59.4" r="0.6"/><circle cx="288.1" cy="68.6" r="0.6"/><circle cx="298.5" cy="62.9" r="0.6"/><circle cx="305.8" cy="60.6" r="0.6"/><circle cx="291.0" cy="66.3" r="0.6"/><circle cx="287.5" cy="69.8" r="0.6"/><circle cx="298.8" cy="69.7" r="0.6"/><circle cx="291.4" cy="59.7" r="0.6"/><circle cx="290.6" cy="67.2" r="0.6"/><circle cx="286.0" cy="67.3" r="0.6"/><circle cx="292.6" cy="66.6" r="0.6"/><circle cx="291.8" cy="63.2" r="0.6"/><circle cx="297.4" cy="60.4" r="0.6"/><circle cx="289.3" cy="63.4" r="0.6"/><circle cx="290.8" cy="68.8" r="0.6"/><circle cx="285.3" cy="70.4" r="0.6"/><circle cx="297.3" cy="61.0" r="0.6"/><circle cx="293.6" cy="61.2" r="0.6"/><circle cx="302.6" cy="62.0" r="0.6"/><circle cx="292.6" cy="59.9" r="0.6"/><circle cx="289.9" cy="70.5" r="0.6"/><circle cx="303.6" cy="58.7" r="0.6"/><circle cx="299.7" cy="58.6" r="0.6"/><circle cx="293.0" cy="65.2" r="0.6"/><circle cx="294.0" cy="59.7" r="0.6"/><circle cx="301.0" cy="63.8" r="0.6"/><circle cx="285.9" cy="65.9" r="0.6"/><circle cx="294.9" cy="61.8" r="0.6"/><circle cx="282.6" cy="75.1" r="0.6"/><circle cx="294.1" cy="62.9" r="0.6"/><circle cx="305.5" cy="56.9" r="0.6"/><circle cx="290.1" cy="67.5" r="0.6"/><circle cx="287.3" cy="66.8" r="0.6"/><circle cx="295.2" cy="61.9" r="0.6"/><circle cx="294.1" cy="69.7" r="0.6"/><circle cx="299.8" cy="63.0" r="0.6"/><circle cx="297.5" cy="63.6" r="0.6"/><circle cx="301.7" cy="59.0" r="0.6"/><circle cx="302.5" cy="55.6" r="0.6"/><circle cx="290.6" cy="62.5" r="0.6"/><circle cx="292.9" cy="66.9" r="0.6"/><circle cx="300.7" cy="57.7" r="0.6"/><circle cx="293.5" cy="63.7" r="0.6"/><circle cx="288.3" cy="64.7" r="0.6"/><circle cx="291.7" cy="60.6" r="0.6"/><circle cx="294.6" cy="64.1" r="0.6"/><circle cx="289.0" cy="64.8" r="0.6"/><circle cx="289.4" cy="73.6" r="0.6"/><circle cx="289.2" cy="72.8" r="0.6"/><circle cx="296.7" cy="61.5" r="0.6"/></g>
<g fill="#e8141c" fill-opacity="0.35" filter="url(#bl)"><circle cx="325.8" cy="96.8" r="0.6"/><circle cx="331.3" cy="83.9" r="0.6"/><circle cx="327.4" cy="96.8" r="0.6"/><circle cx="326.9" cy="93.5" r="0.6"/><circle cx="327.8" cy="89.1" r="0.6"/><circle cx="331.6" cy="87.8" r="0.6"/><circle cx="328.0" cy="93.9" r="0.6"/><circle cx="331.0" cy="89.6" r="0.6"/><circle cx="330.0" cy="93.4" r="0.6"/><circle cx="327.4" cy="90.5" r="0.6"/><circle cx="328.1" cy="84.0" r="0.6"/><circle cx="330.3" cy="81.0" r="0.6"/><circle cx="330.2" cy="96.2" r="0.6"/><circle cx="327.8" cy="85.0" r="0.6"/><circle cx="327.6" cy="93.1" r="0.6"/><circle cx="329.4" cy="91.9" r="0.6"/><circle cx="329.9" cy="86.4" r="0.6"/><circle cx="328.4" cy="79.8" r="0.6"/><circle cx="329.5" cy="91.0" r="0.6"/><circle cx="327.2" cy="97.6" r="0.6"/><circle cx="328.1" cy="80.5" r="0.6"/><circle cx="327.0" cy="90.5" r="0.6"/><circle cx="327.5" cy="92.3" r="0.6"/><circle cx="329.2" cy="98.4" r="0.6"/><circle cx="326.1" cy="100.2" r="0.6"/><circle cx="326.2" cy="91.8" r="0.6"/><circle cx="330.2" cy="94.6" r="0.6"/><circle cx="326.2" cy="85.4" r="0.6"/><circle cx="327.1" cy="89.7" r="0.6"/><circle cx="330.2" cy="81.6" r="0.6"/><circle cx="328.9" cy="94.0" r="0.6"/><circle cx="329.1" cy="93.0" r="0.6"/><circle cx="330.9" cy="93.2" r="0.6"/><circle cx="329.6" cy="93.7" r="0.6"/><circle cx="331.4" cy="77.7" r="0.6"/><circle cx="330.4" cy="88.3" r="0.6"/><circle cx="327.5" cy="83.7" r="0.6"/><circle cx="324.4" cy="87.5" r="0.6"/><circle cx="326.7" cy="93.2" r="0.6"/><circle cx="325.2" cy="99.3" r="0.6"/><circle cx="328.5" cy="88.4" r="0.6"/><circle cx="326.7" cy="84.9" r="0.6"/><circle cx="325.9" cy="86.5" r="0.6"/><circle cx="328.0" cy="88.8" r="0.6"/><circle cx="325.3" cy="88.3" r="0.6"/><circle cx="326.3" cy="91.0" r="0.6"/><circle cx="331.5" cy="94.1" r="0.6"/><circle cx="327.4" cy="79.4" r="0.6"/><circle cx="325.3" cy="79.0" r="0.6"/><circle cx="329.4" cy="85.0" r="0.6"/><circle cx="328.1" cy="86.0" r="0.6"/><circle cx="328.2" cy="99.1" r="0.6"/><circle cx="326.7" cy="87.8" r="0.6"/><circle cx="326.5" cy="95.7" r="0.6"/><circle cx="326.1" cy="82.6" r="0.6"/><circle cx="325.4" cy="80.8" r="0.6"/><circle cx="326.1" cy="96.2" r="0.6"/><circle cx="328.5" cy="82.8" r="0.6"/><circle cx="327.5" cy="88.5" r="0.6"/><circle cx="324.4" cy="92.5" r="0.6"/><circle cx="328.6" cy="86.2" r="0.6"/><circle cx="328.3" cy="95.7" r="0.6"/><circle cx="328.3" cy="92.7" r="0.6"/><circle cx="329.9" cy="96.6" r="0.6"/><circle cx="325.3" cy="89.2" r="0.6"/><circle cx="326.5" cy="86.2" r="0.6"/><circle cx="329.8" cy="84.8" r="0.6"/><circle cx="327.8" cy="77.6" r="0.6"/><circle cx="327.7" cy="90.6" r="0.6"/><circle cx="326.7" cy="85.3" r="0.6"/><circle cx="331.6" cy="82.1" r="0.6"/><circle cx="326.0" cy="84.7" r="0.6"/><circle cx="328.6" cy="85.3" r="0.6"/><circle cx="327.2" cy="96.9" r="0.6"/><circle cx="326.3" cy="99.4" r="0.6"/><circle cx="330.7" cy="90.5" r="0.6"/><circle cx="329.2" cy="94.9" r="0.6"/><circle cx="331.0" cy="83.2" r="0.6"/><circle cx="330.2" cy="87.6" r="0.6"/><circle cx="326.5" cy="90.7" r="0.6"/><circle cx="327.6" cy="83.6" r="0.6"/><circle cx="325.0" cy="83.9" r="0.6"/><circle cx="329.2" cy="97.7" r="0.6"/><circle cx="327.0" cy="89.5" r="0.6"/><circle cx="328.5" cy="83.0" r="0.6"/><circle cx="326.1" cy="90.6" r="0.6"/><circle cx="327.4" cy="83.1" r="0.6"/><circle cx="328.7" cy="88.3" r="0.6"/><circle cx="329.9" cy="90.0" r="0.6"/><circle cx="327.4" cy="90.8" r="0.6"/><circle cx="327.7" cy="85.7" r="0.6"/><circle cx="327.2" cy="94.9" r="0.6"/><circle cx="329.2" cy="98.4" r="0.6"/><circle cx="324.8" cy="87.4" r="0.6"/><circle cx="327.2" cy="91.1" r="0.6"/><circle cx="327.1" cy="86.7" r="0.6"/><circle cx="329.5" cy="91.2" r="0.6"/><circle cx="325.8" cy="98.7" r="0.6"/><circle cx="329.9" cy="86.3" r="0.6"/><circle cx="329.6" cy="85.2" r="0.6"/><circle cx="330.1" cy="88.6" r="0.6"/><circle cx="326.5" cy="87.6" r="0.6"/><circle cx="326.5" cy="91.2" r="0.6"/><circle cx="328.3" cy="90.2" r="0.6"/><circle cx="328.2" cy="77.7" r="0.6"/><circle cx="328.5" cy="97.4" r="0.6"/><circle cx="328.5" cy="87.5" r="0.6"/><circle cx="327.7" cy="89.1" r="0.6"/><circle cx="327.0" cy="86.2" r="0.6"/><circle cx="326.2" cy="97.7" r="0.6"/><circle cx="328.0" cy="96.2" r="0.6"/><circle cx="327.5" cy="90.5" r="0.6"/><circle cx="327.7" cy="93.0" r="0.6"/><circle cx="329.6" cy="91.6" r="0.6"/><circle cx="326.7" cy="84.9" r="0.6"/><circle cx="331.2" cy="88.2" r="0.6"/><circle cx="327.4" cy="99.5" r="0.6"/><circle cx="330.1" cy="93.5" r="0.6"/><circle cx="328.7" cy="93.6" r="0.6"/><circle cx="327.7" cy="80.8" r="0.6"/><circle cx="325.5" cy="92.6" r="0.6"/><circle cx="328.7" cy="88.4" r="0.6"/><circle cx="325.8" cy="80.6" r="0.6"/><circle cx="327.4" cy="80.5" r="0.6"/><circle cx="329.7" cy="97.5" r="0.6"/><circle cx="333.4" cy="95.7" r="0.6"/><circle cx="326.9" cy="84.3" r="0.6"/><circle cx="321.4" cy="86.1" r="0.6"/><circle cx="327.7" cy="96.3" r="0.6"/><circle cx="329.2" cy="93.8" r="0.6"/><circle cx="328.4" cy="94.3" r="0.6"/><circle cx="330.8" cy="83.1" r="0.6"/><circle cx="327.1" cy="81.0" r="0.6"/><circle cx="331.1" cy="98.4" r="0.6"/><circle cx="329.4" cy="82.2" r="0.6"/><circle cx="328.3" cy="88.5" r="0.6"/><circle cx="328.2" cy="88.8" r="0.6"/><circle cx="329.0" cy="87.4" r="0.6"/><circle cx="329.6" cy="91.6" r="0.6"/><circle cx="327.4" cy="89.3" r="0.6"/><circle cx="327.2" cy="95.3" r="0.6"/><circle cx="327.5" cy="91.9" r="0.6"/><circle cx="327.3" cy="80.3" r="0.6"/><circle cx="329.7" cy="83.1" r="0.6"/><circle cx="329.3" cy="92.7" r="0.6"/><circle cx="324.9" cy="83.9" r="0.6"/><circle cx="327.0" cy="84.7" r="0.6"/><circle cx="325.8" cy="94.8" r="0.6"/><circle cx="327.5" cy="92.5" r="0.6"/><circle cx="327.2" cy="92.0" r="0.6"/><circle cx="326.6" cy="89.8" r="0.6"/><circle cx="329.1" cy="90.3" r="0.6"/><circle cx="327.1" cy="82.9" r="0.6"/><circle cx="328.3" cy="92.2" r="0.6"/><circle cx="327.5" cy="85.0" r="0.6"/><circle cx="327.4" cy="92.2" r="0.6"/><circle cx="328.2" cy="85.4" r="0.6"/><circle cx="330.6" cy="88.3" r="0.6"/><circle cx="326.5" cy="88.6" r="0.6"/><circle cx="328.3" cy="86.4" r="0.6"/><circle cx="327.9" cy="81.2" r="0.6"/><circle cx="327.6" cy="95.0" r="0.6"/><circle cx="331.7" cy="94.6" r="0.6"/><circle cx="328.5" cy="97.7" r="0.6"/><circle cx="329.9" cy="100.8" r="0.6"/><circle cx="330.1" cy="89.2" r="0.6"/><circle cx="328.5" cy="91.2" r="0.6"/><circle cx="328.6" cy="91.3" r="0.6"/><circle cx="328.1" cy="90.0" r="0.6"/><circle cx="324.8" cy="94.5" r="0.6"/><circle cx="329.6" cy="90.6" r="0.6"/><circle cx="331.2" cy="102.2" r="0.6"/><circle cx="325.7" cy="96.7" r="0.6"/><circle cx="328.8" cy="92.7" r="0.6"/><circle cx="329.8" cy="85.3" r="0.6"/><circle cx="326.9" cy="84.6" r="0.6"/><circle cx="326.6" cy="89.4" r="0.6"/><circle cx="325.2" cy="83.2" r="0.6"/><circle cx="329.1" cy="89.5" r="0.6"/><circle cx="328.7" cy="77.7" r="0.6"/><circle cx="326.5" cy="86.4" r="0.6"/><circle cx="328.1" cy="86.2" r="0.6"/><circle cx="329.8" cy="89.6" r="0.6"/><circle cx="328.0" cy="90.1" r="0.6"/><circle cx="329.3" cy="86.9" r="0.6"/><circle cx="330.1" cy="93.0" r="0.6"/><circle cx="328.3" cy="90.3" r="0.6"/><circle cx="329.0" cy="96.6" r="0.6"/><circle cx="329.8" cy="92.4" r="0.6"/><circle cx="329.7" cy="90.8" r="0.6"/><circle cx="330.4" cy="89.8" r="0.6"/><circle cx="324.1" cy="98.7" r="0.6"/><circle cx="328.2" cy="82.4" r="0.6"/><circle cx="327.6" cy="84.3" r="0.6"/><circle cx="332.0" cy="93.2" r="0.6"/><circle cx="325.0" cy="93.6" r="0.6"/><circle cx="328.1" cy="87.7" r="0.6"/><circle cx="328.8" cy="100.9" r="0.6"/><circle cx="324.4" cy="97.6" r="0.6"/><circle cx="328.8" cy="88.8" r="0.6"/><circle cx="330.1" cy="93.4" r="0.6"/><circle cx="326.9" cy="94.6" r="0.6"/><circle cx="327.0" cy="78.4" r="0.6"/><circle cx="331.9" cy="87.7" r="0.6"/><circle cx="326.8" cy="92.2" r="0.6"/><circle cx="325.0" cy="81.2" r="0.6"/><circle cx="327.1" cy="86.6" r="0.6"/><circle cx="328.1" cy="97.3" r="0.6"/><circle cx="327.1" cy="93.2" r="0.6"/><circle cx="329.1" cy="83.0" r="0.6"/><circle cx="328.4" cy="83.9" r="0.6"/><circle cx="330.0" cy="93.0" r="0.6"/><circle cx="328.0" cy="81.3" r="0.6"/><circle cx="328.2" cy="85.0" r="0.6"/><circle cx="329.3" cy="89.2" r="0.6"/><circle cx="326.5" cy="96.0" r="0.6"/><circle cx="329.4" cy="86.1" r="0.6"/><circle cx="330.2" cy="88.1" r="0.6"/><circle cx="327.4" cy="90.8" r="0.6"/><circle cx="326.6" cy="87.1" r="0.6"/><circle cx="327.7" cy="99.9" r="0.6"/><circle cx="330.8" cy="88.3" r="0.6"/><circle cx="331.1" cy="89.7" r="0.6"/><circle cx="328.7" cy="95.7" r="0.6"/><circle cx="328.5" cy="82.2" r="0.6"/><circle cx="330.5" cy="87.3" r="0.6"/><circle cx="329.9" cy="95.3" r="0.6"/><circle cx="329.5" cy="96.4" r="0.6"/><circle cx="331.2" cy="89.7" r="0.6"/><circle cx="329.8" cy="85.2" r="0.6"/><circle cx="327.3" cy="96.9" r="0.6"/><circle cx="328.7" cy="81.3" r="0.6"/><circle cx="328.7" cy="88.8" r="0.6"/><circle cx="326.4" cy="92.8" r="0.6"/><circle cx="327.2" cy="79.8" r="0.6"/><circle cx="325.9" cy="101.5" r="0.6"/><circle cx="325.1" cy="91.4" r="0.6"/><circle cx="329.2" cy="94.2" r="0.6"/><circle cx="325.7" cy="87.9" r="0.6"/><circle cx="328.3" cy="95.2" r="0.6"/><circle cx="326.8" cy="82.4" r="0.6"/><circle cx="329.9" cy="97.2" r="0.6"/><circle cx="328.7" cy="86.0" r="0.6"/><circle cx="328.8" cy="90.7" r="0.6"/><circle cx="329.6" cy="81.9" r="0.6"/><circle cx="328.2" cy="89.0" r="0.6"/><circle cx="325.9" cy="91.4" r="0.6"/><circle cx="328.1" cy="87.3" r="0.6"/><circle cx="328.8" cy="80.8" r="0.6"/><circle cx="327.9" cy="92.8" r="0.6"/><circle cx="328.5" cy="97.0" r="0.6"/><circle cx="325.7" cy="80.2" r="0.6"/><circle cx="328.5" cy="93.0" r="0.6"/><circle cx="332.0" cy="94.0" r="0.6"/><circle cx="326.3" cy="95.2" r="0.6"/><circle cx="326.4" cy="80.3" r="0.6"/><circle cx="333.0" cy="92.1" r="0.6"/><circle cx="329.4" cy="93.7" r="0.6"/><circle cx="331.4" cy="91.8" r="0.6"/><circle cx="330.3" cy="83.3" r="0.6"/><circle cx="325.4" cy="99.3" r="0.6"/><circle cx="330.8" cy="93.3" r="0.6"/><circle cx="328.4" cy="91.1" r="0.6"/><circle cx="326.7" cy="100.0" r="0.6"/><circle cx="329.3" cy="93.3" r="0.6"/><circle cx="328.7" cy="96.8" r="0.6"/><circle cx="329.0" cy="94.8" r="0.6"/><circle cx="325.8" cy="93.3" r="0.6"/><circle cx="332.2" cy="86.6" r="0.6"/><circle cx="327.8" cy="95.8" r="0.6"/><circle cx="329.8" cy="94.1" r="0.6"/><circle cx="324.9" cy="93.3" r="0.6"/><circle cx="325.8" cy="84.6" r="0.6"/><circle cx="329.0" cy="88.1" r="0.6"/><circle cx="329.5" cy="94.7" r="0.6"/><circle cx="326.3" cy="85.8" r="0.6"/></g>
<g fill="#e8141c" fill-opacity="0.22" filter="url(#bl)"><circle cx="389.7" cy="64.7" r="0.6"/><circle cx="389.4" cy="64.5" r="0.6"/><circle cx="392.4" cy="61.1" r="0.6"/><circle cx="386.8" cy="63.7" r="0.6"/><circle cx="397.0" cy="61.8" r="0.6"/><circle cx="401.0" cy="62.6" r="0.6"/><circle cx="394.8" cy="65.6" r="0.6"/><circle cx="393.0" cy="72.7" r="0.6"/><circle cx="399.5" cy="59.0" r="0.6"/><circle cx="390.9" cy="67.3" r="0.6"/><circle cx="386.0" cy="66.4" r="0.6"/><circle cx="398.2" cy="61.0" r="0.6"/><circle cx="394.6" cy="66.7" r="0.6"/><circle cx="391.2" cy="66.7" r="0.6"/><circle cx="391.5" cy="62.3" r="0.6"/><circle cx="395.2" cy="59.2" r="0.6"/><circle cx="401.8" cy="56.1" r="0.6"/><circle cx="401.3" cy="54.6" r="0.6"/><circle cx="395.4" cy="58.3" r="0.6"/><circle cx="389.8" cy="67.2" r="0.6"/><circle cx="395.6" cy="57.9" r="0.6"/><circle cx="398.5" cy="57.6" r="0.6"/><circle cx="396.2" cy="63.6" r="0.6"/><circle cx="394.3" cy="56.9" r="0.6"/><circle cx="402.6" cy="59.7" r="0.6"/><circle cx="391.5" cy="61.7" r="0.6"/><circle cx="385.7" cy="64.5" r="0.6"/><circle cx="396.6" cy="60.6" r="0.6"/><circle cx="389.5" cy="65.0" r="0.6"/><circle cx="400.8" cy="57.7" r="0.6"/><circle cx="394.9" cy="68.0" r="0.6"/><circle cx="397.0" cy="61.8" r="0.6"/><circle cx="389.8" cy="60.9" r="0.6"/><circle cx="389.4" cy="65.2" r="0.6"/><circle cx="394.7" cy="64.5" r="0.6"/><circle cx="397.6" cy="62.0" r="0.6"/><circle cx="394.2" cy="59.9" r="0.6"/><circle cx="385.3" cy="67.9" r="0.6"/><circle cx="390.0" cy="64.1" r="0.6"/><circle cx="391.7" cy="60.7" r="0.6"/><circle cx="390.3" cy="65.9" r="0.6"/><circle cx="394.3" cy="61.1" r="0.6"/><circle cx="396.7" cy="61.0" r="0.6"/><circle cx="390.9" cy="66.0" r="0.6"/><circle cx="401.5" cy="55.9" r="0.6"/><circle cx="402.1" cy="63.0" r="0.6"/><circle cx="399.7" cy="56.7" r="0.6"/><circle cx="403.5" cy="57.5" r="0.6"/><circle cx="393.6" cy="63.2" r="0.6"/><circle cx="397.6" cy="61.4" r="0.6"/><circle cx="396.5" cy="66.7" r="0.6"/><circle cx="390.2" cy="62.5" r="0.6"/><circle cx="399.5" cy="62.5" r="0.6"/><circle cx="397.6" cy="57.2" r="0.6"/><circle cx="400.3" cy="61.1" r="0.6"/><circle cx="400.1" cy="54.9" r="0.6"/><circle cx="395.4" cy="61.7" r="0.6"/><circle cx="387.3" cy="65.8" r="0.6"/><circle cx="398.8" cy="58.6" r="0.6"/><circle cx="393.5" cy="67.2" r="0.6"/><circle cx="400.7" cy="62.6" r="0.6"/><circle cx="391.7" cy="65.1" r="0.6"/><circle cx="398.1" cy="58.4" r="0.6"/><circle cx="393.4" cy="67.2" r="0.6"/><circle cx="399.4" cy="55.7" r="0.6"/><circle cx="390.6" cy="65.6" r="0.6"/><circle cx="397.3" cy="60.9" r="0.6"/><circle cx="392.4" cy="65.4" r="0.6"/><circle cx="391.0" cy="65.6" r="0.6"/><circle cx="397.0" cy="71.4" r="0.6"/><circle cx="396.9" cy="58.6" r="0.6"/><circle cx="390.2" cy="64.8" r="0.6"/><circle cx="387.0" cy="65.9" r="0.6"/><circle cx="393.5" cy="67.3" r="0.6"/><circle cx="391.9" cy="62.3" r="0.6"/><circle cx="387.5" cy="64.0" r="0.6"/><circle cx="394.4" cy="62.7" r="0.6"/><circle cx="398.6" cy="58.2" r="0.6"/><circle cx="399.8" cy="60.6" r="0.6"/><circle cx="391.5" cy="58.1" r="0.6"/><circle cx="391.0" cy="68.5" r="0.6"/><circle cx="401.1" cy="59.5" r="0.6"/><circle cx="397.4" cy="59.8" r="0.6"/><circle cx="392.3" cy="62.4" r="0.6"/><circle cx="399.6" cy="61.0" r="0.6"/><circle cx="393.5" cy="62.9" r="0.6"/><circle cx="397.8" cy="62.2" r="0.6"/><circle cx="394.5" cy="69.6" r="0.6"/><circle cx="396.1" cy="62.3" r="0.6"/><circle cx="402.8" cy="61.3" r="0.6"/><circle cx="395.6" cy="64.6" r="0.6"/><circle cx="389.5" cy="64.5" r="0.6"/><circle cx="387.8" cy="72.5" r="0.6"/><circle cx="388.4" cy="70.1" r="0.6"/><circle cx="389.9" cy="63.0" r="0.6"/><circle cx="394.7" cy="64.2" r="0.6"/><circle cx="400.6" cy="65.6" r="0.6"/><circle cx="398.0" cy="64.1" r="0.6"/><circle cx="393.8" cy="66.5" r="0.6"/><circle cx="394.8" cy="61.4" r="0.6"/><circle cx="394.5" cy="63.1" r="0.6"/><circle cx="396.5" cy="63.4" r="0.6"/><circle cx="391.6" cy="62.6" r="0.6"/><circle cx="395.1" cy="56.7" r="0.6"/><circle cx="395.1" cy="68.6" r="0.6"/><circle cx="395.0" cy="57.0" r="0.6"/><circle cx="403.6" cy="62.7" r="0.6"/><circle cx="398.4" cy="59.8" r="0.6"/><circle cx="394.9" cy="59.8" r="0.6"/><circle cx="396.4" cy="57.9" r="0.6"/><circle cx="395.6" cy="66.2" r="0.6"/><circle cx="389.8" cy="65.3" r="0.6"/><circle cx="393.4" cy="59.2" r="0.6"/><circle cx="400.4" cy="60.5" r="0.6"/><circle cx="388.7" cy="67.2" r="0.6"/><circle cx="390.7" cy="63.6" r="0.6"/><circle cx="394.1" cy="61.0" r="0.6"/></g>
<g fill="#e8141c" fill-opacity="0.34" filter="url(#bl)"><circle cx="396.3" cy="84.8" r="0.6"/><circle cx="398.1" cy="87.6" r="0.6"/><circle cx="396.2" cy="85.8" r="0.6"/><circle cx="388.2" cy="86.9" r="0.6"/><circle cx="398.6" cy="93.0" r="0.6"/><circle cx="406.8" cy="90.3" r="0.6"/><circle cx="394.2" cy="88.9" r="0.6"/><circle cx="395.3" cy="89.3" r="0.6"/><circle cx="402.8" cy="90.6" r="0.6"/><circle cx="387.8" cy="89.8" r="0.6"/><circle cx="400.8" cy="88.1" r="0.6"/><circle cx="395.4" cy="96.3" r="0.6"/><circle cx="391.0" cy="90.4" r="0.6"/><circle cx="386.4" cy="83.3" r="0.6"/><circle cx="394.6" cy="82.9" r="0.6"/><circle cx="388.9" cy="88.8" r="0.6"/><circle cx="396.8" cy="88.2" r="0.6"/><circle cx="389.4" cy="83.2" r="0.6"/><circle cx="389.4" cy="84.3" r="0.6"/><circle cx="395.9" cy="91.2" r="0.6"/><circle cx="398.5" cy="99.4" r="0.6"/><circle cx="397.5" cy="91.6" r="0.6"/><circle cx="393.7" cy="89.3" r="0.6"/><circle cx="400.9" cy="92.6" r="0.6"/><circle cx="389.9" cy="98.6" r="0.6"/><circle cx="398.3" cy="93.2" r="0.6"/><circle cx="392.6" cy="83.8" r="0.6"/><circle cx="392.5" cy="101.6" r="0.6"/><circle cx="391.2" cy="83.7" r="0.6"/><circle cx="394.3" cy="88.0" r="0.6"/><circle cx="386.5" cy="96.1" r="0.6"/><circle cx="392.6" cy="89.6" r="0.6"/><circle cx="396.4" cy="92.3" r="0.6"/><circle cx="386.5" cy="87.4" r="0.6"/><circle cx="390.6" cy="91.5" r="0.6"/><circle cx="388.6" cy="84.9" r="0.6"/><circle cx="396.2" cy="100.6" r="0.6"/><circle cx="396.3" cy="92.3" r="0.6"/><circle cx="392.9" cy="84.4" r="0.6"/><circle cx="396.3" cy="84.4" r="0.6"/><circle cx="386.6" cy="91.0" r="0.6"/><circle cx="394.8" cy="93.9" r="0.6"/><circle cx="396.4" cy="88.7" r="0.6"/><circle cx="398.1" cy="88.3" r="0.6"/><circle cx="394.3" cy="82.0" r="0.6"/><circle cx="387.9" cy="98.2" r="0.6"/><circle cx="386.1" cy="93.0" r="0.6"/><circle cx="391.8" cy="88.7" r="0.6"/><circle cx="394.8" cy="97.8" r="0.6"/><circle cx="404.5" cy="84.3" r="0.6"/><circle cx="395.2" cy="93.7" r="0.6"/><circle cx="399.2" cy="80.3" r="0.6"/><circle cx="393.5" cy="89.5" r="0.6"/><circle cx="396.6" cy="89.7" r="0.6"/><circle cx="395.6" cy="86.9" r="0.6"/><circle cx="392.1" cy="87.5" r="0.6"/><circle cx="390.0" cy="91.7" r="0.6"/><circle cx="389.9" cy="85.8" r="0.6"/><circle cx="400.6" cy="85.6" r="0.6"/><circle cx="389.7" cy="99.1" r="0.6"/><circle cx="391.2" cy="94.8" r="0.6"/><circle cx="394.0" cy="91.6" r="0.6"/><circle cx="392.9" cy="87.5" r="0.6"/><circle cx="398.8" cy="99.2" r="0.6"/><circle cx="392.9" cy="84.7" r="0.6"/><circle cx="396.9" cy="100.5" r="0.6"/><circle cx="396.2" cy="89.4" r="0.6"/><circle cx="397.4" cy="91.9" r="0.6"/><circle cx="400.2" cy="89.1" r="0.6"/><circle cx="394.6" cy="90.9" r="0.6"/><circle cx="402.0" cy="90.3" r="0.6"/><circle cx="387.1" cy="90.5" r="0.6"/><circle cx="393.5" cy="86.9" r="0.6"/><circle cx="389.3" cy="87.4" r="0.6"/><circle cx="393.3" cy="93.1" r="0.6"/><circle cx="398.3" cy="87.8" r="0.6"/><circle cx="403.2" cy="84.5" r="0.6"/><circle cx="411.2" cy="86.1" r="0.6"/><circle cx="394.6" cy="87.0" r="0.6"/><circle cx="399.2" cy="98.3" r="0.6"/><circle cx="394.1" cy="94.3" r="0.6"/><circle cx="393.6" cy="94.4" r="0.6"/><circle cx="391.1" cy="85.3" r="0.6"/><circle cx="399.7" cy="90.9" r="0.6"/><circle cx="398.9" cy="93.2" r="0.6"/><circle cx="398.7" cy="87.4" r="0.6"/><circle cx="401.7" cy="89.9" r="0.6"/><circle cx="392.9" cy="88.3" r="0.6"/><circle cx="393.7" cy="90.5" r="0.6"/><circle cx="390.1" cy="88.4" r="0.6"/><circle cx="404.4" cy="85.5" r="0.6"/><circle cx="387.4" cy="86.5" r="0.6"/><circle cx="391.8" cy="95.6" r="0.6"/><circle cx="396.6" cy="87.5" r="0.6"/><circle cx="393.0" cy="89.0" r="0.6"/><circle cx="391.5" cy="99.2" r="0.6"/><circle cx="401.5" cy="100.2" r="0.6"/><circle cx="389.6" cy="92.0" r="0.6"/><circle cx="397.1" cy="87.0" r="0.6"/><circle cx="384.5" cy="90.2" r="0.6"/><circle cx="394.8" cy="91.7" r="0.6"/><circle cx="395.6" cy="95.1" r="0.6"/><circle cx="399.0" cy="89.2" r="0.6"/><circle cx="393.0" cy="89.3" r="0.6"/><circle cx="398.4" cy="93.0" r="0.6"/><circle cx="394.9" cy="92.3" r="0.6"/><circle cx="388.4" cy="85.3" r="0.6"/><circle cx="390.6" cy="96.6" r="0.6"/><circle cx="399.6" cy="96.2" r="0.6"/><circle cx="395.9" cy="94.1" r="0.6"/><circle cx="402.3" cy="91.2" r="0.6"/><circle cx="390.1" cy="91.4" r="0.6"/><circle cx="391.7" cy="85.9" r="0.6"/><circle cx="398.3" cy="93.6" r="0.6"/><circle cx="396.1" cy="100.4" r="0.6"/><circle cx="391.6" cy="90.4" r="0.6"/><circle cx="390.6" cy="88.1" r="0.6"/><circle cx="395.5" cy="89.4" r="0.6"/><circle cx="402.9" cy="88.6" r="0.6"/><circle cx="395.5" cy="88.1" r="0.6"/><circle cx="386.5" cy="94.0" r="0.6"/><circle cx="391.8" cy="97.0" r="0.6"/><circle cx="397.5" cy="97.8" r="0.6"/><circle cx="399.1" cy="92.1" r="0.6"/><circle cx="395.1" cy="90.8" r="0.6"/><circle cx="398.9" cy="92.7" r="0.6"/><circle cx="391.3" cy="94.6" r="0.6"/><circle cx="405.8" cy="82.9" r="0.6"/><circle cx="390.6" cy="88.2" r="0.6"/><circle cx="389.6" cy="99.6" r="0.6"/><circle cx="394.5" cy="91.6" r="0.6"/><circle cx="408.6" cy="96.3" r="0.6"/><circle cx="391.9" cy="97.5" r="0.6"/><circle cx="397.5" cy="90.5" r="0.6"/><circle cx="395.7" cy="89.1" r="0.6"/><circle cx="402.6" cy="88.8" r="0.6"/><circle cx="398.3" cy="95.0" r="0.6"/><circle cx="398.9" cy="90.0" r="0.6"/><circle cx="399.5" cy="97.2" r="0.6"/><circle cx="395.7" cy="88.7" r="0.6"/><circle cx="388.6" cy="91.4" r="0.6"/><circle cx="388.8" cy="93.9" r="0.6"/><circle cx="389.6" cy="80.9" r="0.6"/><circle cx="395.2" cy="93.3" r="0.6"/><circle cx="391.9" cy="85.9" r="0.6"/><circle cx="397.8" cy="84.0" r="0.6"/><circle cx="385.0" cy="89.2" r="0.6"/><circle cx="395.9" cy="94.8" r="0.6"/><circle cx="399.6" cy="88.2" r="0.6"/><circle cx="386.2" cy="90.9" r="0.6"/><circle cx="388.8" cy="92.2" r="0.6"/><circle cx="385.3" cy="95.9" r="0.6"/><circle cx="396.2" cy="88.1" r="0.6"/><circle cx="393.4" cy="85.2" r="0.6"/><circle cx="385.0" cy="91.7" r="0.6"/><circle cx="401.6" cy="91.8" r="0.6"/><circle cx="394.3" cy="97.0" r="0.6"/><circle cx="395.7" cy="97.9" r="0.6"/><circle cx="394.7" cy="87.2" r="0.6"/><circle cx="395.4" cy="85.0" r="0.6"/><circle cx="385.4" cy="86.8" r="0.6"/><circle cx="394.6" cy="89.6" r="0.6"/><circle cx="392.1" cy="88.9" r="0.6"/><circle cx="399.3" cy="84.7" r="0.6"/><circle cx="393.2" cy="97.9" r="0.6"/><circle cx="401.1" cy="88.1" r="0.6"/><circle cx="396.5" cy="88.9" r="0.6"/><circle cx="397.5" cy="80.3" r="0.6"/><circle cx="395.2" cy="85.9" r="0.6"/><circle cx="399.6" cy="86.5" r="0.6"/><circle cx="396.8" cy="84.9" r="0.6"/><circle cx="388.0" cy="87.7" r="0.6"/><circle cx="402.6" cy="93.0" r="0.6"/><circle cx="392.2" cy="85.3" r="0.6"/><circle cx="391.2" cy="87.9" r="0.6"/><circle cx="401.2" cy="87.9" r="0.6"/><circle cx="394.8" cy="87.4" r="0.6"/><circle cx="389.1" cy="95.2" r="0.6"/><circle cx="392.0" cy="86.8" r="0.6"/><circle cx="395.6" cy="98.4" r="0.6"/><circle cx="386.6" cy="89.2" r="0.6"/><circle cx="390.7" cy="88.1" r="0.6"/><circle cx="392.8" cy="94.0" r="0.6"/><circle cx="397.3" cy="78.0" r="0.6"/><circle cx="393.5" cy="90.7" r="0.6"/><circle cx="392.6" cy="89.9" r="0.6"/><circle cx="394.4" cy="95.8" r="0.6"/><circle cx="391.0" cy="91.2" r="0.6"/><circle cx="393.8" cy="91.0" r="0.6"/><circle cx="395.2" cy="95.3" r="0.6"/><circle cx="393.9" cy="91.3" r="0.6"/><circle cx="390.7" cy="86.3" r="0.6"/><circle cx="386.9" cy="88.2" r="0.6"/><circle cx="392.6" cy="86.9" r="0.6"/><circle cx="389.0" cy="94.4" r="0.6"/><circle cx="391.6" cy="81.4" r="0.6"/><circle cx="401.6" cy="86.0" r="0.6"/><circle cx="395.7" cy="95.4" r="0.6"/><circle cx="392.3" cy="87.7" r="0.6"/><circle cx="401.3" cy="79.8" r="0.6"/><circle cx="395.2" cy="94.4" r="0.6"/><circle cx="388.2" cy="93.0" r="0.6"/><circle cx="401.3" cy="99.8" r="0.6"/><circle cx="389.1" cy="92.7" r="0.6"/><circle cx="396.8" cy="89.0" r="0.6"/><circle cx="388.8" cy="95.6" r="0.6"/><circle cx="395.1" cy="92.1" r="0.6"/><circle cx="401.4" cy="91.8" r="0.6"/><circle cx="396.2" cy="90.7" r="0.6"/><circle cx="387.9" cy="92.9" r="0.6"/><circle cx="393.5" cy="88.2" r="0.6"/><circle cx="391.9" cy="86.7" r="0.6"/><circle cx="406.2" cy="95.6" r="0.6"/><circle cx="392.6" cy="93.3" r="0.6"/><circle cx="395.5" cy="96.6" r="0.6"/><circle cx="395.8" cy="89.6" r="0.6"/><circle cx="392.7" cy="91.7" r="0.6"/><circle cx="390.4" cy="96.2" r="0.6"/><circle cx="391.4" cy="94.8" r="0.6"/><circle cx="396.9" cy="94.9" r="0.6"/><circle cx="396.0" cy="95.0" r="0.6"/><circle cx="390.6" cy="95.7" r="0.6"/><circle cx="392.9" cy="92.0" r="0.6"/><circle cx="396.2" cy="94.4" r="0.6"/><circle cx="384.7" cy="97.5" r="0.6"/><circle cx="389.4" cy="99.8" r="0.6"/><circle cx="387.6" cy="94.5" r="0.6"/><circle cx="386.4" cy="84.2" r="0.6"/><circle cx="393.6" cy="94.3" r="0.6"/><circle cx="395.0" cy="95.1" r="0.6"/><circle cx="391.8" cy="91.5" r="0.6"/><circle cx="392.5" cy="93.0" r="0.6"/><circle cx="403.5" cy="86.8" r="0.6"/><circle cx="392.9" cy="87.3" r="0.6"/><circle cx="393.6" cy="98.9" r="0.6"/><circle cx="385.9" cy="89.6" r="0.6"/><circle cx="392.0" cy="88.9" r="0.6"/><circle cx="397.0" cy="92.6" r="0.6"/><circle cx="386.6" cy="90.8" r="0.6"/><circle cx="399.6" cy="96.4" r="0.6"/><circle cx="385.2" cy="86.2" r="0.6"/><circle cx="401.9" cy="94.4" r="0.6"/><circle cx="386.4" cy="81.8" r="0.6"/><circle cx="399.9" cy="85.6" r="0.6"/><circle cx="398.7" cy="87.2" r="0.6"/><circle cx="390.6" cy="89.6" r="0.6"/><circle cx="404.1" cy="92.7" r="0.6"/><circle cx="401.0" cy="84.0" r="0.6"/><circle cx="387.0" cy="94.3" r="0.6"/><circle cx="392.7" cy="90.4" r="0.6"/><circle cx="390.4" cy="90.5" r="0.6"/><circle cx="392.2" cy="93.2" r="0.6"/><circle cx="388.9" cy="91.5" r="0.6"/><circle cx="396.1" cy="96.6" r="0.6"/><circle cx="395.0" cy="89.0" r="0.6"/><circle cx="397.1" cy="90.8" r="0.6"/><circle cx="399.9" cy="89.7" r="0.6"/><circle cx="405.4" cy="91.4" r="0.6"/><circle cx="392.3" cy="88.8" r="0.6"/><circle cx="399.0" cy="90.3" r="0.6"/><circle cx="389.4" cy="84.4" r="0.6"/><circle cx="385.6" cy="97.0" r="0.6"/><circle cx="399.2" cy="91.9" r="0.6"/><circle cx="390.0" cy="98.5" r="0.6"/><circle cx="391.9" cy="93.7" r="0.6"/><circle cx="393.5" cy="85.9" r="0.6"/><circle cx="385.5" cy="83.1" r="0.6"/><circle cx="384.6" cy="85.2" r="0.6"/><circle cx="395.7" cy="89.6" r="0.6"/><circle cx="398.7" cy="89.5" r="0.6"/><circle cx="391.3" cy="93.7" r="0.6"/><circle cx="393.2" cy="94.2" r="0.6"/><circle cx="392.5" cy="85.4" r="0.6"/><circle cx="393.6" cy="90.7" r="0.6"/><circle cx="394.3" cy="95.2" r="0.6"/><circle cx="400.7" cy="84.2" r="0.6"/><circle cx="386.2" cy="81.7" r="0.6"/><circle cx="391.8" cy="89.0" r="0.6"/><circle cx="394.5" cy="85.7" r="0.6"/><circle cx="389.3" cy="87.3" r="0.6"/><circle cx="393.3" cy="81.8" r="0.6"/><circle cx="396.9" cy="99.8" r="0.6"/><circle cx="394.9" cy="92.4" r="0.6"/><circle cx="389.9" cy="85.8" r="0.6"/><circle cx="394.4" cy="92.3" r="0.6"/><circle cx="389.5" cy="94.8" r="0.6"/><circle cx="402.1" cy="91.7" r="0.6"/><circle cx="388.5" cy="99.6" r="0.6"/><circle cx="398.2" cy="91.9" r="0.6"/><circle cx="386.4" cy="87.9" r="0.6"/><circle cx="394.1" cy="90.7" r="0.6"/><circle cx="389.8" cy="93.5" r="0.6"/><circle cx="397.1" cy="89.7" r="0.6"/><circle cx="392.7" cy="91.9" r="0.6"/><circle cx="391.2" cy="89.4" r="0.6"/><circle cx="392.0" cy="95.5" r="0.6"/><circle cx="393.6" cy="91.2" r="0.6"/><circle cx="387.3" cy="90.5" r="0.6"/><circle cx="391.8" cy="85.7" r="0.6"/><circle cx="386.7" cy="92.5" r="0.6"/><circle cx="399.7" cy="88.0" r="0.6"/><circle cx="400.1" cy="85.9" r="0.6"/><circle cx="388.5" cy="85.3" r="0.6"/><circle cx="394.3" cy="98.3" r="0.6"/><circle cx="396.9" cy="92.8" r="0.6"/><circle cx="396.8" cy="88.5" r="0.6"/><circle cx="392.8" cy="91.6" r="0.6"/><circle cx="397.8" cy="90.6" r="0.6"/><circle cx="396.2" cy="89.8" r="0.6"/><circle cx="389.2" cy="91.5" r="0.6"/><circle cx="391.5" cy="97.4" r="0.6"/><circle cx="404.0" cy="82.5" r="0.6"/><circle cx="388.0" cy="93.5" r="0.6"/><circle cx="399.2" cy="86.3" r="0.6"/><circle cx="396.7" cy="89.2" r="0.6"/><circle cx="392.5" cy="88.0" r="0.6"/><circle cx="392.1" cy="93.5" r="0.6"/><circle cx="397.4" cy="92.7" r="0.6"/><circle cx="390.6" cy="83.9" r="0.6"/><circle cx="395.3" cy="87.7" r="0.6"/><circle cx="388.4" cy="84.9" r="0.6"/><circle cx="389.0" cy="88.9" r="0.6"/><circle cx="389.7" cy="84.3" r="0.6"/><circle cx="394.1" cy="90.9" r="0.6"/><circle cx="386.6" cy="90.9" r="0.6"/><circle cx="391.7" cy="96.8" r="0.6"/><circle cx="384.5" cy="93.2" r="0.6"/><circle cx="396.0" cy="85.4" r="0.6"/><circle cx="392.0" cy="86.5" r="0.6"/><circle cx="405.0" cy="89.1" r="0.6"/><circle cx="395.5" cy="81.6" r="0.6"/><circle cx="391.0" cy="98.2" r="0.6"/><circle cx="391.9" cy="89.9" r="0.6"/><circle cx="392.0" cy="84.1" r="0.6"/><circle cx="397.2" cy="88.5" r="0.6"/><circle cx="394.1" cy="86.3" r="0.6"/><circle cx="394.2" cy="86.0" r="0.6"/><circle cx="400.9" cy="92.8" r="0.6"/><circle cx="399.1" cy="90.2" r="0.6"/><circle cx="396.8" cy="87.0" r="0.6"/><circle cx="393.2" cy="89.0" r="0.6"/><circle cx="385.5" cy="92.0" r="0.6"/><circle cx="400.2" cy="94.8" r="0.6"/><circle cx="388.3" cy="88.3" r="0.6"/><circle cx="398.2" cy="82.7" r="0.6"/><circle cx="403.5" cy="85.0" r="0.6"/><circle cx="391.8" cy="97.2" r="0.6"/><circle cx="398.0" cy="79.6" r="0.6"/><circle cx="400.2" cy="85.0" r="0.6"/><circle cx="399.6" cy="84.8" r="0.6"/><circle cx="387.2" cy="97.0" r="0.6"/><circle cx="403.2" cy="97.0" r="0.6"/><circle cx="403.4" cy="88.8" r="0.6"/><circle cx="391.1" cy="88.9" r="0.6"/><circle cx="390.0" cy="87.7" r="0.6"/><circle cx="385.8" cy="80.2" r="0.6"/><circle cx="394.3" cy="89.9" r="0.6"/><circle cx="407.6" cy="86.7" r="0.6"/><circle cx="392.6" cy="94.3" r="0.6"/><circle cx="386.2" cy="91.3" r="0.6"/><circle cx="388.2" cy="101.9" r="0.6"/><circle cx="393.4" cy="83.8" r="0.6"/><circle cx="395.6" cy="94.8" r="0.6"/><circle cx="396.8" cy="90.8" r="0.6"/><circle cx="387.8" cy="90.1" r="0.6"/><circle cx="396.3" cy="94.2" r="0.6"/><circle cx="386.7" cy="87.9" r="0.6"/><circle cx="396.6" cy="83.3" r="0.6"/><circle cx="399.2" cy="88.6" r="0.6"/><circle cx="402.1" cy="95.6" r="0.6"/><circle cx="398.7" cy="92.0" r="0.6"/><circle cx="387.4" cy="90.0" r="0.6"/><circle cx="400.4" cy="95.4" r="0.6"/><circle cx="405.9" cy="96.7" r="0.6"/><circle cx="395.5" cy="90.5" r="0.6"/><circle cx="398.3" cy="87.8" r="0.6"/><circle cx="390.6" cy="86.1" r="0.6"/><circle cx="395.5" cy="83.1" r="0.6"/><circle cx="392.4" cy="82.9" r="0.6"/><circle cx="396.1" cy="83.0" r="0.6"/><circle cx="393.5" cy="81.3" r="0.6"/><circle cx="394.4" cy="96.8" r="0.6"/><circle cx="389.8" cy="93.0" r="0.6"/><circle cx="385.4" cy="81.8" r="0.6"/><circle cx="396.0" cy="91.5" r="0.6"/><circle cx="389.7" cy="96.0" r="0.6"/><circle cx="387.2" cy="88.3" r="0.6"/><circle cx="391.8" cy="87.5" r="0.6"/><circle cx="399.5" cy="92.8" r="0.6"/><circle cx="395.0" cy="86.9" r="0.6"/><circle cx="398.2" cy="94.4" r="0.6"/><circle cx="389.1" cy="86.9" r="0.6"/><circle cx="389.9" cy="94.4" r="0.6"/></g>
<g fill="#e8141c" fill-opacity="0.35" filter="url(#bl)"><circle cx="433.5" cy="80.7" r="0.6"/><circle cx="436.4" cy="95.5" r="0.6"/><circle cx="434.7" cy="81.9" r="0.6"/><circle cx="432.2" cy="85.7" r="0.6"/><circle cx="432.2" cy="82.3" r="0.6"/><circle cx="433.9" cy="90.4" r="0.6"/><circle cx="433.7" cy="86.0" r="0.6"/><circle cx="435.6" cy="90.1" r="0.6"/><circle cx="427.5" cy="85.2" r="0.6"/><circle cx="432.9" cy="94.8" r="0.6"/><circle cx="432.4" cy="87.5" r="0.6"/><circle cx="431.7" cy="93.0" r="0.6"/><circle cx="432.1" cy="85.4" r="0.6"/><circle cx="431.5" cy="92.3" r="0.6"/><circle cx="431.9" cy="78.9" r="0.6"/><circle cx="434.2" cy="84.8" r="0.6"/><circle cx="433.7" cy="91.2" r="0.6"/><circle cx="435.4" cy="95.3" r="0.6"/><circle cx="431.8" cy="88.0" r="0.6"/><circle cx="430.4" cy="99.1" r="0.6"/><circle cx="433.9" cy="97.4" r="0.6"/><circle cx="436.1" cy="89.6" r="0.6"/><circle cx="433.3" cy="89.3" r="0.6"/><circle cx="434.3" cy="92.2" r="0.6"/><circle cx="429.8" cy="95.5" r="0.6"/><circle cx="431.9" cy="86.2" r="0.6"/><circle cx="436.5" cy="94.5" r="0.6"/><circle cx="432.3" cy="77.9" r="0.6"/><circle cx="433.3" cy="92.2" r="0.6"/><circle cx="432.8" cy="81.5" r="0.6"/><circle cx="431.4" cy="81.5" r="0.6"/><circle cx="433.4" cy="93.9" r="0.6"/><circle cx="435.1" cy="84.6" r="0.6"/><circle cx="433.5" cy="92.3" r="0.6"/><circle cx="432.0" cy="88.1" r="0.6"/><circle cx="437.2" cy="90.2" r="0.6"/><circle cx="434.8" cy="86.4" r="0.6"/><circle cx="433.1" cy="78.7" r="0.6"/><circle cx="432.9" cy="96.2" r="0.6"/><circle cx="437.2" cy="96.2" r="0.6"/><circle cx="434.4" cy="89.3" r="0.6"/><circle cx="431.8" cy="88.0" r="0.6"/><circle cx="434.2" cy="84.3" r="0.6"/><circle cx="434.9" cy="83.1" r="0.6"/><circle cx="429.4" cy="82.9" r="0.6"/><circle cx="429.7" cy="80.8" r="0.6"/><circle cx="435.3" cy="87.8" r="0.6"/><circle cx="433.4" cy="95.9" r="0.6"/><circle cx="435.5" cy="86.0" r="0.6"/><circle cx="435.7" cy="91.3" r="0.6"/><circle cx="433.0" cy="91.7" r="0.6"/><circle cx="430.1" cy="84.3" r="0.6"/><circle cx="432.8" cy="92.7" r="0.6"/><circle cx="432.3" cy="88.2" r="0.6"/><circle cx="434.9" cy="97.5" r="0.6"/><circle cx="434.5" cy="96.6" r="0.6"/><circle cx="432.2" cy="87.2" r="0.6"/><circle cx="433.6" cy="87.2" r="0.6"/><circle cx="432.0" cy="98.9" r="0.6"/><circle cx="432.6" cy="83.2" r="0.6"/><circle cx="434.0" cy="100.0" r="0.6"/><circle cx="433.2" cy="96.4" r="0.6"/><circle cx="432.1" cy="86.1" r="0.6"/><circle cx="431.6" cy="88.1" r="0.6"/><circle cx="436.7" cy="82.1" r="0.6"/><circle cx="436.3" cy="82.9" r="0.6"/><circle cx="432.5" cy="94.0" r="0.6"/><circle cx="434.3" cy="90.7" r="0.6"/><circle cx="429.7" cy="91.2" r="0.6"/><circle cx="432.6" cy="90.1" r="0.6"/><circle cx="430.7" cy="86.1" r="0.6"/><circle cx="430.4" cy="94.9" r="0.6"/><circle cx="432.5" cy="92.4" r="0.6"/><circle cx="431.6" cy="86.0" r="0.6"/><circle cx="435.6" cy="83.2" r="0.6"/><circle cx="429.4" cy="91.4" r="0.6"/><circle cx="430.7" cy="86.4" r="0.6"/><circle cx="434.8" cy="84.1" r="0.6"/><circle cx="434.8" cy="84.9" r="0.6"/><circle cx="436.0" cy="97.0" r="0.6"/><circle cx="432.1" cy="87.7" r="0.6"/><circle cx="431.3" cy="90.2" r="0.6"/><circle cx="435.3" cy="80.3" r="0.6"/><circle cx="434.8" cy="81.1" r="0.6"/><circle cx="431.3" cy="78.3" r="0.6"/><circle cx="437.2" cy="89.4" r="0.6"/><circle cx="433.5" cy="84.9" r="0.6"/><circle cx="432.2" cy="89.1" r="0.6"/><circle cx="434.3" cy="84.1" r="0.6"/><circle cx="433.0" cy="94.8" r="0.6"/><circle cx="433.4" cy="91.2" r="0.6"/><circle cx="432.3" cy="90.9" r="0.6"/><circle cx="433.1" cy="97.7" r="0.6"/><circle cx="434.4" cy="87.5" r="0.6"/><circle cx="428.1" cy="93.3" r="0.6"/><circle cx="434.5" cy="83.5" r="0.6"/><circle cx="429.0" cy="82.1" r="0.6"/><circle cx="434.9" cy="82.6" r="0.6"/><circle cx="432.1" cy="90.3" r="0.6"/><circle cx="435.4" cy="88.9" r="0.6"/><circle cx="432.8" cy="85.7" r="0.6"/><circle cx="436.3" cy="95.4" r="0.6"/><circle cx="432.8" cy="80.6" r="0.6"/><circle cx="431.4" cy="92.5" r="0.6"/><circle cx="431.6" cy="94.4" r="0.6"/><circle cx="433.7" cy="90.8" r="0.6"/><circle cx="434.3" cy="92.0" r="0.6"/><circle cx="431.3" cy="87.0" r="0.6"/><circle cx="437.7" cy="81.8" r="0.6"/><circle cx="432.1" cy="95.4" r="0.6"/><circle cx="432.7" cy="84.1" r="0.6"/><circle cx="430.4" cy="92.2" r="0.6"/><circle cx="435.0" cy="97.4" r="0.6"/><circle cx="433.1" cy="95.3" r="0.6"/><circle cx="430.9" cy="90.0" r="0.6"/><circle cx="431.6" cy="90.0" r="0.6"/><circle cx="434.5" cy="95.4" r="0.6"/><circle cx="431.0" cy="96.6" r="0.6"/><circle cx="432.1" cy="82.8" r="0.6"/><circle cx="432.7" cy="80.2" r="0.6"/><circle cx="433.0" cy="90.7" r="0.6"/><circle cx="432.6" cy="92.2" r="0.6"/><circle cx="432.4" cy="89.0" r="0.6"/><circle cx="430.1" cy="89.3" r="0.6"/><circle cx="431.3" cy="86.3" r="0.6"/><circle cx="432.8" cy="90.1" r="0.6"/><circle cx="429.7" cy="79.6" r="0.6"/><circle cx="432.4" cy="91.8" r="0.6"/><circle cx="433.7" cy="94.4" r="0.6"/><circle cx="435.6" cy="92.0" r="0.6"/><circle cx="433.0" cy="82.8" r="0.6"/><circle cx="431.1" cy="86.2" r="0.6"/><circle cx="433.5" cy="90.3" r="0.6"/><circle cx="433.0" cy="88.1" r="0.6"/><circle cx="434.3" cy="90.2" r="0.6"/><circle cx="433.6" cy="90.9" r="0.6"/><circle cx="431.9" cy="82.8" r="0.6"/><circle cx="434.0" cy="91.5" r="0.6"/><circle cx="432.6" cy="86.5" r="0.6"/><circle cx="437.6" cy="84.4" r="0.6"/><circle cx="432.6" cy="90.6" r="0.6"/><circle cx="430.7" cy="89.7" r="0.6"/><circle cx="436.6" cy="94.6" r="0.6"/><circle cx="434.3" cy="92.6" r="0.6"/><circle cx="433.2" cy="94.8" r="0.6"/><circle cx="432.7" cy="86.5" r="0.6"/><circle cx="433.2" cy="94.4" r="0.6"/><circle cx="433.7" cy="93.0" r="0.6"/><circle cx="429.0" cy="96.2" r="0.6"/><circle cx="437.7" cy="97.0" r="0.6"/><circle cx="432.4" cy="83.9" r="0.6"/><circle cx="433.6" cy="83.1" r="0.6"/><circle cx="434.5" cy="85.8" r="0.6"/><circle cx="434.9" cy="97.2" r="0.6"/><circle cx="428.9" cy="90.8" r="0.6"/><circle cx="431.6" cy="80.5" r="0.6"/><circle cx="431.8" cy="87.7" r="0.6"/><circle cx="435.1" cy="79.9" r="0.6"/><circle cx="435.1" cy="101.1" r="0.6"/><circle cx="434.2" cy="92.3" r="0.6"/><circle cx="433.0" cy="81.9" r="0.6"/><circle cx="434.1" cy="91.3" r="0.6"/><circle cx="434.5" cy="91.6" r="0.6"/><circle cx="436.1" cy="80.9" r="0.6"/><circle cx="430.7" cy="86.7" r="0.6"/><circle cx="431.7" cy="93.2" r="0.6"/><circle cx="432.4" cy="99.4" r="0.6"/><circle cx="436.0" cy="93.6" r="0.6"/><circle cx="432.2" cy="92.7" r="0.6"/><circle cx="434.6" cy="82.6" r="0.6"/><circle cx="433.7" cy="93.2" r="0.6"/><circle cx="433.4" cy="98.4" r="0.6"/><circle cx="435.4" cy="84.0" r="0.6"/><circle cx="433.2" cy="84.0" r="0.6"/><circle cx="434.2" cy="83.8" r="0.6"/><circle cx="434.8" cy="91.3" r="0.6"/><circle cx="434.9" cy="88.1" r="0.6"/><circle cx="430.1" cy="99.6" r="0.6"/><circle cx="432.7" cy="97.3" r="0.6"/><circle cx="433.9" cy="93.0" r="0.6"/><circle cx="436.7" cy="91.0" r="0.6"/><circle cx="435.8" cy="80.1" r="0.6"/><circle cx="434.7" cy="87.5" r="0.6"/><circle cx="432.7" cy="89.1" r="0.6"/><circle cx="433.7" cy="98.9" r="0.6"/><circle cx="429.3" cy="89.3" r="0.6"/><circle cx="431.6" cy="96.0" r="0.6"/><circle cx="432.2" cy="91.7" r="0.6"/><circle cx="432.2" cy="93.0" r="0.6"/><circle cx="435.0" cy="86.6" r="0.6"/><circle cx="433.1" cy="80.5" r="0.6"/><circle cx="433.6" cy="94.1" r="0.6"/><circle cx="431.9" cy="95.7" r="0.6"/><circle cx="428.9" cy="77.9" r="0.6"/><circle cx="430.2" cy="86.1" r="0.6"/><circle cx="433.0" cy="88.5" r="0.6"/><circle cx="432.9" cy="93.3" r="0.6"/><circle cx="432.1" cy="81.4" r="0.6"/><circle cx="430.5" cy="101.7" r="0.6"/><circle cx="428.3" cy="87.9" r="0.6"/><circle cx="435.9" cy="91.9" r="0.6"/><circle cx="431.3" cy="89.0" r="0.6"/><circle cx="434.7" cy="96.2" r="0.6"/><circle cx="431.2" cy="93.6" r="0.6"/><circle cx="433.5" cy="95.6" r="0.6"/><circle cx="435.8" cy="86.9" r="0.6"/><circle cx="430.1" cy="91.4" r="0.6"/><circle cx="436.6" cy="93.1" r="0.6"/><circle cx="430.9" cy="94.4" r="0.6"/><circle cx="431.9" cy="89.3" r="0.6"/><circle cx="433.2" cy="98.1" r="0.6"/><circle cx="431.1" cy="85.8" r="0.6"/><circle cx="429.8" cy="91.9" r="0.6"/><circle cx="432.1" cy="91.5" r="0.6"/><circle cx="430.9" cy="86.8" r="0.6"/><circle cx="435.1" cy="88.0" r="0.6"/><circle cx="434.3" cy="92.2" r="0.6"/><circle cx="432.3" cy="79.6" r="0.6"/><circle cx="435.0" cy="90.0" r="0.6"/><circle cx="431.2" cy="95.3" r="0.6"/><circle cx="434.1" cy="88.8" r="0.6"/><circle cx="433.3" cy="93.6" r="0.6"/><circle cx="432.4" cy="91.4" r="0.6"/><circle cx="432.2" cy="97.2" r="0.6"/><circle cx="432.2" cy="88.1" r="0.6"/><circle cx="431.8" cy="86.1" r="0.6"/><circle cx="435.2" cy="87.4" r="0.6"/><circle cx="431.9" cy="77.2" r="0.6"/><circle cx="429.4" cy="93.8" r="0.6"/><circle cx="434.4" cy="77.5" r="0.6"/><circle cx="434.7" cy="91.8" r="0.6"/><circle cx="431.4" cy="93.4" r="0.6"/><circle cx="429.7" cy="81.8" r="0.6"/><circle cx="430.1" cy="82.3" r="0.6"/><circle cx="434.8" cy="81.0" r="0.6"/><circle cx="430.7" cy="83.3" r="0.6"/><circle cx="433.4" cy="87.0" r="0.6"/><circle cx="434.7" cy="84.7" r="0.6"/><circle cx="430.4" cy="86.0" r="0.6"/><circle cx="433.1" cy="83.4" r="0.6"/><circle cx="433.5" cy="99.9" r="0.6"/><circle cx="431.8" cy="89.2" r="0.6"/><circle cx="435.7" cy="85.1" r="0.6"/><circle cx="431.3" cy="82.4" r="0.6"/><circle cx="433.8" cy="92.0" r="0.6"/><circle cx="432.7" cy="89.2" r="0.6"/><circle cx="435.5" cy="94.1" r="0.6"/><circle cx="430.2" cy="88.8" r="0.6"/><circle cx="433.2" cy="93.2" r="0.6"/><circle cx="432.5" cy="85.0" r="0.6"/></g>
<g fill="#e8141c" fill-opacity="0.45" filter="url(#bl)"><circle cx="432.3" cy="78.9" r="0.6"/><circle cx="432.9" cy="82.3" r="0.6"/><circle cx="433.7" cy="81.0" r="0.6"/><circle cx="432.3" cy="81.2" r="0.6"/><circle cx="431.4" cy="85.9" r="0.6"/><circle cx="432.3" cy="85.1" r="0.6"/><circle cx="431.3" cy="84.2" r="0.6"/><circle cx="430.4" cy="82.6" r="0.6"/><circle cx="432.2" cy="85.5" r="0.6"/><circle cx="433.2" cy="83.4" r="0.6"/><circle cx="434.2" cy="84.4" r="0.6"/><circle cx="433.7" cy="86.0" r="0.6"/><circle cx="432.8" cy="83.1" r="0.6"/><circle cx="433.4" cy="82.7" r="0.6"/><circle cx="433.5" cy="87.0" r="0.6"/><circle cx="434.2" cy="82.8" r="0.6"/><circle cx="431.0" cy="83.7" r="0.6"/><circle cx="432.7" cy="87.0" r="0.6"/><circle cx="432.4" cy="83.3" r="0.6"/><circle cx="434.0" cy="82.5" r="0.6"/><circle cx="432.7" cy="88.7" r="0.6"/><circle cx="435.2" cy="85.6" r="0.6"/><circle cx="433.3" cy="81.2" r="0.6"/><circle cx="433.8" cy="84.0" r="0.6"/><circle cx="433.3" cy="82.4" r="0.6"/><circle cx="432.9" cy="83.4" r="0.6"/><circle cx="433.4" cy="87.9" r="0.6"/><circle cx="433.5" cy="79.2" r="0.6"/><circle cx="431.5" cy="79.4" r="0.6"/><circle cx="431.7" cy="85.4" r="0.6"/><circle cx="433.5" cy="82.2" r="0.6"/><circle cx="433.3" cy="81.8" r="0.6"/><circle cx="430.8" cy="79.9" r="0.6"/><circle cx="431.6" cy="87.8" r="0.6"/><circle cx="430.9" cy="87.3" r="0.6"/><circle cx="434.9" cy="83.4" r="0.6"/><circle cx="432.9" cy="82.1" r="0.6"/><circle cx="432.9" cy="85.7" r="0.6"/><circle cx="432.9" cy="86.6" r="0.6"/><circle cx="434.7" cy="84.8" r="0.6"/><circle cx="433.4" cy="83.7" r="0.6"/><circle cx="433.4" cy="80.7" r="0.6"/><circle cx="433.5" cy="84.4" r="0.6"/><circle cx="431.6" cy="89.9" r="0.6"/><circle cx="431.5" cy="81.4" r="0.6"/><circle cx="433.3" cy="78.4" r="0.6"/><circle cx="431.7" cy="79.6" r="0.6"/><circle cx="431.5" cy="83.5" r="0.6"/><circle cx="433.4" cy="86.9" r="0.6"/><circle cx="434.1" cy="87.2" r="0.6"/><circle cx="433.8" cy="82.5" r="0.6"/><circle cx="434.6" cy="82.5" r="0.6"/><circle cx="432.0" cy="88.1" r="0.6"/><circle cx="434.1" cy="84.5" r="0.6"/><circle cx="434.0" cy="86.3" r="0.6"/><circle cx="430.9" cy="83.6" r="0.6"/><circle cx="431.2" cy="84.2" r="0.6"/><circle cx="431.9" cy="87.6" r="0.6"/><circle cx="433.7" cy="81.6" r="0.6"/><circle cx="432.9" cy="80.5" r="0.6"/><circle cx="433.0" cy="85.4" r="0.6"/><circle cx="433.3" cy="78.4" r="0.6"/><circle cx="432.4" cy="85.3" r="0.6"/><circle cx="433.4" cy="87.1" r="0.6"/><circle cx="431.0" cy="85.3" r="0.6"/><circle cx="431.9" cy="84.4" r="0.6"/><circle cx="433.5" cy="85.8" r="0.6"/><circle cx="432.0" cy="84.4" r="0.6"/><circle cx="431.2" cy="79.9" r="0.6"/><circle cx="433.7" cy="83.7" r="0.6"/><circle cx="430.5" cy="81.5" r="0.6"/><circle cx="432.9" cy="88.2" r="0.6"/><circle cx="434.5" cy="86.1" r="0.6"/><circle cx="430.2" cy="83.6" r="0.6"/><circle cx="433.6" cy="84.9" r="0.6"/><circle cx="433.5" cy="83.2" r="0.6"/><circle cx="435.5" cy="88.0" r="0.6"/><circle cx="432.8" cy="81.1" r="0.6"/><circle cx="436.0" cy="82.3" r="0.6"/><circle cx="434.7" cy="89.2" r="0.6"/><circle cx="431.5" cy="84.6" r="0.6"/><circle cx="432.4" cy="85.3" r="0.6"/><circle cx="433.4" cy="89.3" r="0.6"/><circle cx="433.8" cy="83.8" r="0.6"/><circle cx="434.6" cy="83.1" r="0.6"/><circle cx="432.4" cy="90.1" r="0.6"/><circle cx="431.7" cy="82.5" r="0.6"/><circle cx="433.0" cy="80.9" r="0.6"/><circle cx="429.7" cy="86.8" r="0.6"/><circle cx="431.7" cy="82.3" r="0.6"/><circle cx="432.4" cy="81.1" r="0.6"/><circle cx="431.3" cy="84.3" r="0.6"/><circle cx="436.5" cy="85.9" r="0.6"/><circle cx="434.0" cy="79.6" r="0.6"/><circle cx="432.9" cy="80.5" r="0.6"/><circle cx="434.1" cy="83.2" r="0.6"/><circle cx="433.0" cy="83.6" r="0.6"/><circle cx="432.0" cy="79.6" r="0.6"/><circle cx="433.8" cy="80.0" r="0.6"/><circle cx="431.1" cy="83.0" r="0.6"/><circle cx="431.9" cy="84.6" r="0.6"/><circle cx="434.4" cy="84.5" r="0.6"/><circle cx="433.2" cy="83.9" r="0.6"/><circle cx="434.2" cy="78.7" r="0.6"/><circle cx="433.5" cy="81.2" r="0.6"/><circle cx="431.1" cy="83.8" r="0.6"/><circle cx="432.3" cy="85.5" r="0.6"/><circle cx="434.6" cy="77.3" r="0.6"/><circle cx="432.8" cy="89.3" r="0.6"/><circle cx="434.2" cy="87.9" r="0.6"/></g>
<g fill="#e8141c" fill-opacity="0.42" filter="url(#bl)"><circle cx="292.2" cy="178.2" r="0.6"/><circle cx="287.3" cy="188.4" r="0.6"/><circle cx="297.9" cy="179.5" r="0.6"/><circle cx="291.8" cy="185.3" r="0.6"/><circle cx="282.6" cy="185.2" r="0.6"/><circle cx="304.7" cy="189.8" r="0.6"/><circle cx="294.4" cy="191.1" r="0.6"/><circle cx="289.2" cy="181.5" r="0.6"/><circle cx="295.2" cy="184.1" r="0.6"/><circle cx="284.2" cy="192.5" r="0.6"/><circle cx="290.8" cy="183.8" r="0.6"/><circle cx="298.2" cy="180.0" r="0.6"/><circle cx="294.1" cy="185.2" r="0.6"/><circle cx="298.8" cy="182.8" r="0.6"/><circle cx="302.8" cy="180.3" r="0.6"/><circle cx="289.1" cy="183.0" r="0.6"/><circle cx="299.2" cy="183.3" r="0.6"/><circle cx="288.7" cy="186.5" r="0.6"/><circle cx="296.9" cy="185.8" r="0.6"/><circle cx="289.6" cy="188.6" r="0.6"/><circle cx="303.5" cy="179.3" r="0.6"/><circle cx="295.8" cy="176.7" r="0.6"/><circle cx="282.4" cy="189.3" r="0.6"/><circle cx="293.6" cy="184.6" r="0.6"/><circle cx="289.5" cy="183.6" r="0.6"/><circle cx="299.6" cy="189.3" r="0.6"/><circle cx="290.2" cy="177.8" r="0.6"/><circle cx="301.2" cy="184.2" r="0.6"/><circle cx="297.3" cy="183.5" r="0.6"/><circle cx="294.2" cy="175.9" r="0.6"/><circle cx="289.1" cy="182.1" r="0.6"/><circle cx="293.3" cy="185.3" r="0.6"/><circle cx="290.6" cy="191.7" r="0.6"/><circle cx="286.5" cy="183.8" r="0.6"/><circle cx="293.2" cy="178.7" r="0.6"/><circle cx="297.1" cy="185.4" r="0.6"/><circle cx="293.4" cy="191.7" r="0.6"/><circle cx="293.9" cy="184.8" r="0.6"/><circle cx="285.8" cy="178.9" r="0.6"/><circle cx="289.2" cy="183.6" r="0.6"/><circle cx="291.3" cy="187.6" r="0.6"/><circle cx="283.9" cy="191.9" r="0.6"/><circle cx="289.3" cy="182.8" r="0.6"/><circle cx="287.7" cy="189.1" r="0.6"/><circle cx="291.0" cy="185.4" r="0.6"/><circle cx="282.6" cy="191.6" r="0.6"/><circle cx="296.0" cy="185.4" r="0.6"/><circle cx="300.1" cy="181.2" r="0.6"/><circle cx="292.9" cy="186.9" r="0.6"/><circle cx="295.4" cy="182.3" r="0.6"/><circle cx="292.9" cy="181.9" r="0.6"/><circle cx="298.3" cy="186.4" r="0.6"/><circle cx="295.1" cy="191.1" r="0.6"/><circle cx="284.0" cy="185.4" r="0.6"/><circle cx="302.7" cy="179.6" r="0.6"/><circle cx="285.3" cy="191.8" r="0.6"/><circle cx="295.1" cy="178.4" r="0.6"/><circle cx="296.6" cy="178.7" r="0.6"/><circle cx="285.2" cy="185.4" r="0.6"/><circle cx="289.2" cy="180.4" r="0.6"/><circle cx="290.0" cy="180.6" r="0.6"/><circle cx="293.5" cy="183.7" r="0.6"/><circle cx="297.0" cy="181.0" r="0.6"/><circle cx="284.1" cy="180.9" r="0.6"/><circle cx="293.3" cy="190.2" r="0.6"/><circle cx="297.4" cy="180.1" r="0.6"/><circle cx="297.4" cy="177.9" r="0.6"/><circle cx="298.7" cy="180.8" r="0.6"/><circle cx="298.3" cy="185.1" r="0.6"/><circle cx="291.9" cy="185.6" r="0.6"/><circle cx="286.9" cy="185.3" r="0.6"/><circle cx="297.4" cy="183.1" r="0.6"/><circle cx="288.4" cy="189.6" r="0.6"/><circle cx="282.7" cy="183.4" r="0.6"/><circle cx="294.0" cy="178.7" r="0.6"/><circle cx="303.3" cy="185.7" r="0.6"/><circle cx="289.3" cy="182.6" r="0.6"/><circle cx="284.1" cy="180.5" r="0.6"/><circle cx="296.4" cy="185.6" r="0.6"/><circle cx="295.5" cy="184.4" r="0.6"/><circle cx="290.3" cy="186.2" r="0.6"/><circle cx="284.6" cy="186.2" r="0.6"/><circle cx="303.1" cy="186.7" r="0.6"/><circle cx="290.1" cy="183.3" r="0.6"/><circle cx="303.1" cy="188.7" r="0.6"/><circle cx="284.0" cy="184.6" r="0.6"/><circle cx="295.8" cy="188.3" r="0.6"/><circle cx="289.0" cy="187.7" r="0.6"/><circle cx="295.5" cy="182.7" r="0.6"/><circle cx="292.3" cy="188.5" r="0.6"/><circle cx="296.0" cy="178.6" r="0.6"/><circle cx="293.1" cy="178.4" r="0.6"/><circle cx="287.4" cy="180.1" r="0.6"/><circle cx="284.8" cy="183.3" r="0.6"/><circle cx="288.0" cy="187.5" r="0.6"/><circle cx="297.6" cy="181.7" r="0.6"/><circle cx="287.5" cy="188.8" r="0.6"/><circle cx="298.1" cy="185.3" r="0.6"/><circle cx="298.6" cy="181.5" r="0.6"/><circle cx="285.3" cy="183.9" r="0.6"/><circle cx="295.7" cy="180.0" r="0.6"/><circle cx="287.7" cy="179.6" r="0.6"/><circle cx="287.3" cy="189.0" r="0.6"/><circle cx="294.6" cy="178.7" r="0.6"/><circle cx="286.3" cy="183.4" r="0.6"/><circle cx="295.2" cy="178.5" r="0.6"/><circle cx="290.0" cy="175.8" r="0.6"/><circle cx="286.3" cy="187.5" r="0.6"/><circle cx="297.2" cy="178.0" r="0.6"/><circle cx="289.5" cy="188.2" r="0.6"/><circle cx="290.4" cy="182.4" r="0.6"/><circle cx="296.4" cy="183.8" r="0.6"/><circle cx="300.5" cy="185.2" r="0.6"/><circle cx="289.7" cy="184.3" r="0.6"/><circle cx="291.4" cy="178.7" r="0.6"/><circle cx="288.5" cy="189.2" r="0.6"/><circle cx="285.0" cy="190.2" r="0.6"/><circle cx="294.7" cy="182.9" r="0.6"/><circle cx="296.8" cy="184.9" r="0.6"/><circle cx="299.8" cy="180.5" r="0.6"/><circle cx="291.6" cy="183.3" r="0.6"/><circle cx="287.5" cy="184.1" r="0.6"/><circle cx="289.1" cy="185.1" r="0.6"/><circle cx="296.8" cy="192.5" r="0.6"/><circle cx="283.7" cy="190.7" r="0.6"/><circle cx="295.0" cy="180.5" r="0.6"/><circle cx="291.8" cy="182.2" r="0.6"/><circle cx="294.6" cy="187.7" r="0.6"/><circle cx="285.8" cy="191.4" r="0.6"/><circle cx="292.6" cy="190.3" r="0.6"/><circle cx="296.9" cy="188.1" r="0.6"/><circle cx="297.7" cy="187.2" r="0.6"/><circle cx="292.7" cy="180.6" r="0.6"/><circle cx="297.9" cy="185.6" r="0.6"/><circle cx="303.4" cy="172.9" r="0.6"/><circle cx="293.2" cy="188.3" r="0.6"/><circle cx="285.7" cy="185.0" r="0.6"/><circle cx="289.6" cy="190.8" r="0.6"/><circle cx="301.0" cy="185.1" r="0.6"/><circle cx="295.7" cy="184.3" r="0.6"/><circle cx="287.7" cy="183.3" r="0.6"/><circle cx="297.7" cy="183.3" r="0.6"/><circle cx="303.7" cy="179.8" r="0.6"/><circle cx="295.3" cy="185.0" r="0.6"/><circle cx="292.8" cy="180.6" r="0.6"/><circle cx="301.3" cy="179.0" r="0.6"/><circle cx="297.1" cy="181.7" r="0.6"/><circle cx="287.8" cy="191.3" r="0.6"/><circle cx="295.5" cy="181.9" r="0.6"/><circle cx="297.6" cy="182.4" r="0.6"/><circle cx="292.9" cy="193.0" r="0.6"/><circle cx="291.9" cy="183.7" r="0.6"/><circle cx="286.3" cy="182.7" r="0.6"/><circle cx="297.7" cy="185.1" r="0.6"/><circle cx="292.6" cy="181.2" r="0.6"/><circle cx="295.6" cy="176.3" r="0.6"/><circle cx="291.1" cy="183.5" r="0.6"/><circle cx="288.6" cy="185.9" r="0.6"/><circle cx="288.7" cy="181.9" r="0.6"/><circle cx="304.6" cy="184.0" r="0.6"/><circle cx="300.4" cy="182.3" r="0.6"/><circle cx="299.8" cy="185.5" r="0.6"/><circle cx="302.9" cy="191.2" r="0.6"/><circle cx="292.4" cy="185.3" r="0.6"/><circle cx="285.4" cy="186.2" r="0.6"/><circle cx="296.5" cy="180.8" r="0.6"/><circle cx="301.4" cy="187.2" r="0.6"/><circle cx="292.5" cy="190.1" r="0.6"/><circle cx="304.1" cy="183.1" r="0.6"/><circle cx="289.3" cy="191.2" r="0.6"/><circle cx="292.1" cy="182.8" r="0.6"/><circle cx="293.6" cy="181.7" r="0.6"/><circle cx="300.5" cy="185.3" r="0.6"/><circle cx="301.2" cy="184.4" r="0.6"/><circle cx="288.7" cy="184.6" r="0.6"/><circle cx="298.2" cy="181.1" r="0.6"/><circle cx="291.3" cy="189.3" r="0.6"/><circle cx="297.8" cy="182.7" r="0.6"/><circle cx="292.6" cy="186.0" r="0.6"/><circle cx="299.1" cy="185.6" r="0.6"/><circle cx="292.2" cy="186.1" r="0.6"/><circle cx="299.2" cy="185.6" r="0.6"/><circle cx="288.8" cy="184.3" r="0.6"/><circle cx="295.5" cy="187.3" r="0.6"/><circle cx="296.9" cy="182.6" r="0.6"/><circle cx="295.5" cy="190.8" r="0.6"/><circle cx="290.3" cy="186.1" r="0.6"/><circle cx="302.9" cy="182.9" r="0.6"/><circle cx="291.1" cy="184.2" r="0.6"/><circle cx="300.1" cy="184.2" r="0.6"/><circle cx="292.9" cy="187.9" r="0.6"/><circle cx="296.1" cy="183.7" r="0.6"/><circle cx="295.5" cy="184.5" r="0.6"/><circle cx="291.1" cy="182.8" r="0.6"/><circle cx="292.7" cy="180.3" r="0.6"/><circle cx="287.6" cy="191.0" r="0.6"/><circle cx="292.1" cy="184.3" r="0.6"/><circle cx="292.7" cy="184.3" r="0.6"/><circle cx="293.7" cy="184.2" r="0.6"/><circle cx="289.8" cy="188.9" r="0.6"/><circle cx="290.6" cy="189.1" r="0.6"/><circle cx="299.1" cy="181.9" r="0.6"/><circle cx="290.0" cy="186.5" r="0.6"/><circle cx="287.5" cy="185.9" r="0.6"/><circle cx="290.3" cy="187.1" r="0.6"/><circle cx="297.7" cy="179.3" r="0.6"/><circle cx="302.2" cy="179.2" r="0.6"/><circle cx="302.3" cy="181.3" r="0.6"/><circle cx="289.0" cy="182.1" r="0.6"/><circle cx="288.6" cy="190.9" r="0.6"/><circle cx="294.9" cy="191.0" r="0.6"/><circle cx="289.9" cy="175.2" r="0.6"/><circle cx="298.0" cy="181.3" r="0.6"/><circle cx="293.7" cy="190.4" r="0.6"/><circle cx="293.2" cy="188.9" r="0.6"/><circle cx="292.7" cy="181.1" r="0.6"/><circle cx="295.8" cy="180.9" r="0.6"/><circle cx="301.6" cy="185.8" r="0.6"/><circle cx="294.5" cy="186.3" r="0.6"/><circle cx="296.5" cy="182.1" r="0.6"/><circle cx="298.5" cy="181.7" r="0.6"/><circle cx="296.1" cy="179.4" r="0.6"/><circle cx="294.5" cy="185.4" r="0.6"/><circle cx="288.5" cy="183.6" r="0.6"/><circle cx="291.2" cy="187.6" r="0.6"/><circle cx="289.8" cy="186.8" r="0.6"/><circle cx="302.7" cy="183.0" r="0.6"/><circle cx="284.3" cy="187.0" r="0.6"/><circle cx="299.3" cy="181.3" r="0.6"/><circle cx="300.6" cy="184.7" r="0.6"/><circle cx="295.7" cy="182.4" r="0.6"/><circle cx="290.3" cy="183.8" r="0.6"/><circle cx="294.5" cy="185.9" r="0.6"/><circle cx="295.7" cy="182.2" r="0.6"/><circle cx="294.3" cy="185.4" r="0.6"/><circle cx="283.4" cy="183.6" r="0.6"/><circle cx="288.7" cy="184.5" r="0.6"/><circle cx="291.7" cy="183.5" r="0.6"/><circle cx="289.2" cy="188.0" r="0.6"/><circle cx="293.5" cy="177.3" r="0.6"/><circle cx="292.5" cy="179.7" r="0.6"/><circle cx="303.0" cy="179.6" r="0.6"/><circle cx="291.4" cy="185.0" r="0.6"/><circle cx="292.4" cy="184.1" r="0.6"/><circle cx="302.8" cy="182.5" r="0.6"/><circle cx="299.6" cy="187.1" r="0.6"/><circle cx="289.7" cy="192.1" r="0.6"/><circle cx="298.6" cy="186.7" r="0.6"/><circle cx="289.5" cy="188.5" r="0.6"/><circle cx="295.5" cy="181.3" r="0.6"/><circle cx="292.4" cy="185.2" r="0.6"/><circle cx="300.1" cy="187.0" r="0.6"/><circle cx="298.3" cy="187.8" r="0.6"/><circle cx="300.9" cy="177.0" r="0.6"/><circle cx="289.8" cy="181.2" r="0.6"/><circle cx="295.7" cy="189.5" r="0.6"/><circle cx="296.3" cy="179.0" r="0.6"/><circle cx="293.0" cy="188.5" r="0.6"/><circle cx="290.5" cy="184.5" r="0.6"/><circle cx="293.5" cy="176.5" r="0.6"/><circle cx="298.5" cy="184.2" r="0.6"/><circle cx="295.9" cy="179.4" r="0.6"/><circle cx="288.6" cy="182.9" r="0.6"/><circle cx="295.2" cy="183.9" r="0.6"/><circle cx="296.2" cy="190.8" r="0.6"/><circle cx="300.5" cy="179.2" r="0.6"/><circle cx="291.6" cy="191.7" r="0.6"/><circle cx="293.2" cy="189.9" r="0.6"/><circle cx="302.3" cy="179.5" r="0.6"/><circle cx="292.2" cy="184.8" r="0.6"/><circle cx="287.6" cy="181.6" r="0.6"/><circle cx="292.2" cy="188.0" r="0.6"/><circle cx="290.8" cy="183.9" r="0.6"/><circle cx="289.5" cy="179.5" r="0.6"/><circle cx="299.8" cy="172.7" r="0.6"/><circle cx="290.4" cy="187.2" r="0.6"/><circle cx="286.2" cy="188.6" r="0.6"/><circle cx="300.0" cy="178.8" r="0.6"/><circle cx="293.7" cy="179.4" r="0.6"/><circle cx="296.7" cy="183.6" r="0.6"/><circle cx="296.3" cy="189.0" r="0.6"/><circle cx="297.8" cy="188.5" r="0.6"/><circle cx="296.1" cy="178.4" r="0.6"/><circle cx="295.7" cy="185.5" r="0.6"/><circle cx="286.6" cy="191.4" r="0.6"/><circle cx="294.4" cy="185.4" r="0.6"/><circle cx="288.5" cy="185.7" r="0.6"/><circle cx="295.0" cy="182.3" r="0.6"/><circle cx="291.9" cy="175.7" r="0.6"/><circle cx="300.4" cy="177.6" r="0.6"/><circle cx="289.4" cy="187.4" r="0.6"/><circle cx="288.6" cy="186.6" r="0.6"/><circle cx="298.8" cy="190.8" r="0.6"/><circle cx="288.4" cy="188.2" r="0.6"/><circle cx="288.7" cy="187.8" r="0.6"/><circle cx="295.9" cy="176.8" r="0.6"/><circle cx="285.8" cy="181.3" r="0.6"/><circle cx="284.1" cy="183.5" r="0.6"/><circle cx="286.5" cy="179.9" r="0.6"/><circle cx="294.7" cy="186.0" r="0.6"/><circle cx="285.4" cy="183.9" r="0.6"/><circle cx="293.4" cy="183.1" r="0.6"/><circle cx="290.4" cy="188.2" r="0.6"/><circle cx="299.2" cy="185.3" r="0.6"/><circle cx="294.4" cy="192.0" r="0.6"/><circle cx="303.3" cy="179.8" r="0.6"/><circle cx="294.1" cy="188.8" r="0.6"/><circle cx="289.4" cy="186.8" r="0.6"/><circle cx="293.1" cy="181.2" r="0.6"/><circle cx="290.6" cy="178.3" r="0.6"/><circle cx="288.4" cy="177.2" r="0.6"/><circle cx="301.0" cy="183.3" r="0.6"/><circle cx="300.7" cy="187.4" r="0.6"/><circle cx="300.4" cy="186.0" r="0.6"/><circle cx="288.7" cy="187.1" r="0.6"/><circle cx="289.2" cy="180.3" r="0.6"/><circle cx="287.4" cy="187.4" r="0.6"/><circle cx="298.2" cy="177.1" r="0.6"/><circle cx="290.8" cy="182.8" r="0.6"/><circle cx="294.1" cy="187.9" r="0.6"/><circle cx="290.2" cy="180.3" r="0.6"/><circle cx="293.4" cy="175.5" r="0.6"/><circle cx="295.5" cy="188.3" r="0.6"/><circle cx="296.1" cy="186.5" r="0.6"/><circle cx="297.1" cy="186.0" r="0.6"/><circle cx="293.5" cy="180.6" r="0.6"/><circle cx="292.1" cy="184.1" r="0.6"/><circle cx="302.5" cy="188.3" r="0.6"/><circle cx="295.2" cy="180.4" r="0.6"/><circle cx="289.1" cy="184.4" r="0.6"/><circle cx="301.9" cy="183.1" r="0.6"/><circle cx="292.4" cy="181.1" r="0.6"/><circle cx="298.9" cy="183.7" r="0.6"/><circle cx="293.3" cy="184.5" r="0.6"/><circle cx="303.1" cy="180.8" r="0.6"/><circle cx="304.6" cy="186.2" r="0.6"/><circle cx="294.7" cy="187.3" r="0.6"/><circle cx="291.9" cy="181.0" r="0.6"/><circle cx="291.0" cy="180.9" r="0.6"/><circle cx="296.5" cy="183.3" r="0.6"/><circle cx="297.6" cy="186.3" r="0.6"/><circle cx="283.2" cy="187.4" r="0.6"/><circle cx="288.5" cy="185.8" r="0.6"/><circle cx="299.6" cy="175.3" r="0.6"/><circle cx="294.5" cy="183.4" r="0.6"/><circle cx="283.2" cy="189.4" r="0.6"/><circle cx="293.2" cy="182.0" r="0.6"/><circle cx="289.4" cy="177.7" r="0.6"/><circle cx="287.7" cy="184.0" r="0.6"/><circle cx="291.2" cy="184.3" r="0.6"/><circle cx="288.0" cy="187.7" r="0.6"/><circle cx="289.3" cy="179.5" r="0.6"/><circle cx="288.4" cy="183.8" r="0.6"/><circle cx="298.9" cy="184.6" r="0.6"/><circle cx="291.6" cy="184.6" r="0.6"/><circle cx="296.9" cy="191.5" r="0.6"/><circle cx="290.4" cy="186.8" r="0.6"/><circle cx="296.7" cy="179.2" r="0.6"/><circle cx="294.8" cy="184.3" r="0.6"/><circle cx="291.4" cy="186.9" r="0.6"/><circle cx="300.6" cy="186.8" r="0.6"/><circle cx="292.6" cy="185.0" r="0.6"/><circle cx="295.7" cy="187.1" r="0.6"/><circle cx="295.0" cy="186.3" r="0.6"/><circle cx="295.3" cy="186.6" r="0.6"/><circle cx="300.7" cy="181.2" r="0.6"/><circle cx="294.6" cy="183.5" r="0.6"/><circle cx="291.1" cy="184.6" r="0.6"/><circle cx="287.7" cy="188.6" r="0.6"/><circle cx="299.9" cy="178.3" r="0.6"/><circle cx="301.6" cy="178.9" r="0.6"/><circle cx="295.1" cy="191.2" r="0.6"/><circle cx="288.2" cy="188.9" r="0.6"/><circle cx="295.0" cy="183.0" r="0.6"/><circle cx="288.9" cy="187.0" r="0.6"/><circle cx="291.9" cy="188.8" r="0.6"/><circle cx="299.2" cy="176.8" r="0.6"/><circle cx="290.2" cy="183.6" r="0.6"/><circle cx="285.5" cy="181.5" r="0.6"/><circle cx="293.8" cy="183.1" r="0.6"/><circle cx="283.4" cy="184.5" r="0.6"/><circle cx="295.3" cy="178.5" r="0.6"/><circle cx="289.8" cy="191.6" r="0.6"/><circle cx="299.5" cy="175.7" r="0.6"/><circle cx="286.1" cy="187.6" r="0.6"/><circle cx="286.3" cy="184.9" r="0.6"/><circle cx="291.5" cy="186.9" r="0.6"/><circle cx="287.4" cy="189.8" r="0.6"/><circle cx="290.8" cy="177.6" r="0.6"/><circle cx="297.1" cy="186.0" r="0.6"/><circle cx="291.7" cy="183.1" r="0.6"/><circle cx="297.3" cy="188.0" r="0.6"/><circle cx="294.9" cy="185.8" r="0.6"/><circle cx="292.8" cy="182.6" r="0.6"/><circle cx="288.5" cy="186.4" r="0.6"/><circle cx="291.5" cy="183.5" r="0.6"/><circle cx="299.4" cy="184.4" r="0.6"/><circle cx="296.9" cy="176.6" r="0.6"/><circle cx="296.1" cy="180.9" r="0.6"/><circle cx="287.9" cy="182.0" r="0.6"/><circle cx="301.4" cy="185.3" r="0.6"/><circle cx="288.2" cy="180.7" r="0.6"/><circle cx="293.1" cy="182.2" r="0.6"/><circle cx="301.6" cy="175.8" r="0.6"/><circle cx="282.6" cy="185.9" r="0.6"/><circle cx="293.7" cy="184.5" r="0.6"/><circle cx="300.0" cy="190.8" r="0.6"/><circle cx="291.0" cy="182.4" r="0.6"/><circle cx="283.6" cy="187.7" r="0.6"/><circle cx="298.2" cy="181.7" r="0.6"/><circle cx="300.4" cy="182.3" r="0.6"/><circle cx="302.6" cy="182.9" r="0.6"/><circle cx="286.7" cy="183.2" r="0.6"/><circle cx="282.8" cy="179.7" r="0.6"/><circle cx="295.9" cy="186.9" r="0.6"/><circle cx="304.8" cy="180.8" r="0.6"/><circle cx="291.0" cy="180.1" r="0.6"/><circle cx="299.6" cy="184.0" r="0.6"/><circle cx="290.8" cy="187.6" r="0.6"/><circle cx="294.8" cy="175.9" r="0.6"/><circle cx="297.9" cy="183.4" r="0.6"/><circle cx="290.8" cy="183.0" r="0.6"/><circle cx="302.9" cy="176.7" r="0.6"/><circle cx="290.6" cy="188.5" r="0.6"/><circle cx="285.8" cy="183.1" r="0.6"/><circle cx="300.1" cy="184.1" r="0.6"/><circle cx="294.3" cy="182.0" r="0.6"/><circle cx="291.8" cy="187.0" r="0.6"/><circle cx="290.6" cy="189.8" r="0.6"/><circle cx="289.7" cy="181.4" r="0.6"/><circle cx="300.9" cy="181.4" r="0.6"/><circle cx="296.3" cy="181.5" r="0.6"/><circle cx="286.8" cy="190.3" r="0.6"/><circle cx="282.6" cy="179.2" r="0.6"/><circle cx="295.7" cy="185.2" r="0.6"/><circle cx="292.9" cy="179.1" r="0.6"/><circle cx="297.1" cy="177.0" r="0.6"/><circle cx="290.0" cy="181.7" r="0.6"/><circle cx="292.2" cy="187.9" r="0.6"/><circle cx="290.4" cy="187.2" r="0.6"/><circle cx="295.8" cy="176.3" r="0.6"/><circle cx="286.3" cy="184.3" r="0.6"/><circle cx="290.4" cy="186.1" r="0.6"/><circle cx="283.1" cy="189.8" r="0.6"/><circle cx="297.6" cy="182.2" r="0.6"/><circle cx="285.5" cy="186.2" r="0.6"/><circle cx="291.0" cy="187.0" r="0.6"/><circle cx="293.8" cy="186.9" r="0.6"/><circle cx="292.5" cy="190.2" r="0.6"/><circle cx="294.8" cy="177.4" r="0.6"/><circle cx="296.5" cy="178.2" r="0.6"/><circle cx="293.1" cy="180.3" r="0.6"/><circle cx="291.1" cy="185.4" r="0.6"/><circle cx="292.5" cy="182.7" r="0.6"/><circle cx="288.8" cy="189.1" r="0.6"/><circle cx="299.5" cy="187.5" r="0.6"/><circle cx="302.9" cy="177.6" r="0.6"/><circle cx="300.8" cy="186.8" r="0.6"/><circle cx="293.8" cy="184.9" r="0.6"/><circle cx="302.0" cy="174.3" r="0.6"/><circle cx="290.7" cy="185.9" r="0.6"/><circle cx="298.5" cy="189.4" r="0.6"/><circle cx="283.3" cy="186.9" r="0.6"/><circle cx="297.1" cy="177.6" r="0.6"/><circle cx="295.2" cy="191.3" r="0.6"/><circle cx="301.7" cy="184.0" r="0.6"/><circle cx="295.4" cy="182.2" r="0.6"/><circle cx="291.3" cy="180.6" r="0.6"/><circle cx="294.6" cy="182.4" r="0.6"/><circle cx="291.6" cy="184.1" r="0.6"/><circle cx="298.2" cy="183.7" r="0.6"/><circle cx="286.4" cy="185.4" r="0.6"/><circle cx="295.8" cy="181.5" r="0.6"/><circle cx="301.0" cy="185.2" r="0.6"/><circle cx="288.1" cy="186.8" r="0.6"/><circle cx="294.1" cy="187.6" r="0.6"/><circle cx="288.1" cy="179.5" r="0.6"/><circle cx="297.0" cy="184.1" r="0.6"/><circle cx="296.5" cy="183.1" r="0.6"/><circle cx="294.9" cy="181.5" r="0.6"/><circle cx="297.1" cy="186.5" r="0.6"/><circle cx="294.0" cy="187.2" r="0.6"/><circle cx="282.4" cy="183.7" r="0.6"/><circle cx="303.7" cy="188.6" r="0.6"/><circle cx="294.8" cy="183.2" r="0.6"/><circle cx="286.5" cy="187.4" r="0.6"/><circle cx="296.5" cy="177.1" r="0.6"/><circle cx="297.2" cy="185.0" r="0.6"/><circle cx="294.9" cy="179.0" r="0.6"/><circle cx="295.1" cy="177.4" r="0.6"/><circle cx="302.3" cy="182.2" r="0.6"/><circle cx="288.1" cy="191.0" r="0.6"/><circle cx="299.5" cy="179.7" r="0.6"/><circle cx="296.5" cy="188.1" r="0.6"/><circle cx="293.1" cy="184.0" r="0.6"/><circle cx="287.6" cy="187.0" r="0.6"/><circle cx="286.1" cy="182.0" r="0.6"/><circle cx="289.6" cy="180.0" r="0.6"/><circle cx="301.2" cy="176.4" r="0.6"/><circle cx="288.8" cy="183.9" r="0.6"/><circle cx="294.3" cy="187.1" r="0.6"/><circle cx="297.9" cy="181.6" r="0.6"/><circle cx="291.3" cy="184.7" r="0.6"/><circle cx="299.0" cy="185.4" r="0.6"/><circle cx="288.4" cy="176.8" r="0.6"/><circle cx="295.4" cy="184.9" r="0.6"/><circle cx="289.4" cy="180.9" r="0.6"/><circle cx="291.3" cy="183.7" r="0.6"/><circle cx="288.4" cy="179.3" r="0.6"/><circle cx="292.3" cy="186.7" r="0.6"/><circle cx="290.7" cy="184.9" r="0.6"/><circle cx="291.5" cy="179.5" r="0.6"/><circle cx="283.9" cy="188.3" r="0.6"/><circle cx="289.3" cy="187.1" r="0.6"/><circle cx="291.7" cy="187.1" r="0.6"/><circle cx="290.0" cy="178.7" r="0.6"/><circle cx="292.7" cy="182.9" r="0.6"/><circle cx="296.8" cy="181.2" r="0.6"/><circle cx="292.1" cy="187.9" r="0.6"/><circle cx="301.0" cy="185.1" r="0.6"/><circle cx="300.0" cy="184.1" r="0.6"/><circle cx="298.9" cy="186.2" r="0.6"/><circle cx="295.9" cy="183.6" r="0.6"/><circle cx="296.8" cy="193.1" r="0.6"/><circle cx="293.3" cy="183.1" r="0.6"/><circle cx="291.4" cy="184.4" r="0.6"/><circle cx="293.7" cy="179.3" r="0.6"/><circle cx="282.3" cy="188.2" r="0.6"/><circle cx="284.5" cy="187.5" r="0.6"/><circle cx="295.5" cy="188.2" r="0.6"/><circle cx="303.6" cy="182.8" r="0.6"/><circle cx="289.1" cy="180.3" r="0.6"/><circle cx="289.0" cy="185.4" r="0.6"/><circle cx="294.1" cy="186.5" r="0.6"/><circle cx="291.7" cy="184.9" r="0.6"/><circle cx="288.8" cy="183.4" r="0.6"/><circle cx="283.4" cy="187.2" r="0.6"/><circle cx="302.6" cy="182.2" r="0.6"/><circle cx="294.6" cy="179.6" r="0.6"/><circle cx="301.0" cy="178.8" r="0.6"/><circle cx="298.3" cy="183.2" r="0.6"/><circle cx="289.0" cy="189.5" r="0.6"/><circle cx="293.8" cy="184.7" r="0.6"/><circle cx="296.1" cy="183.2" r="0.6"/><circle cx="291.8" cy="186.4" r="0.6"/><circle cx="291.2" cy="184.9" r="0.6"/><circle cx="288.1" cy="179.3" r="0.6"/><circle cx="289.1" cy="183.1" r="0.6"/><circle cx="294.8" cy="188.6" r="0.6"/><circle cx="283.8" cy="187.1" r="0.6"/><circle cx="288.2" cy="176.1" r="0.6"/><circle cx="282.9" cy="187.5" r="0.6"/><circle cx="293.8" cy="183.4" r="0.6"/></g>
<g fill="#e8141c" fill-opacity="0.45" filter="url(#bl)"><circle cx="294.8" cy="199.0" r="0.6"/><circle cx="304.6" cy="206.0" r="0.6"/><circle cx="294.7" cy="210.0" r="0.6"/><circle cx="297.1" cy="206.8" r="0.6"/><circle cx="296.7" cy="198.0" r="0.6"/><circle cx="300.9" cy="203.9" r="0.6"/><circle cx="290.6" cy="199.9" r="0.6"/><circle cx="300.6" cy="201.1" r="0.6"/><circle cx="296.5" cy="206.9" r="0.6"/><circle cx="295.9" cy="195.4" r="0.6"/><circle cx="299.6" cy="208.2" r="0.6"/><circle cx="301.1" cy="211.7" r="0.6"/><circle cx="298.2" cy="207.4" r="0.6"/><circle cx="303.8" cy="201.3" r="0.6"/><circle cx="305.5" cy="211.9" r="0.6"/><circle cx="300.8" cy="212.9" r="0.6"/><circle cx="299.8" cy="198.5" r="0.6"/><circle cx="301.8" cy="204.7" r="0.6"/><circle cx="298.1" cy="204.1" r="0.6"/><circle cx="303.0" cy="205.8" r="0.6"/><circle cx="292.8" cy="206.4" r="0.6"/><circle cx="299.3" cy="199.4" r="0.6"/><circle cx="293.7" cy="201.7" r="0.6"/><circle cx="293.1" cy="205.6" r="0.6"/><circle cx="301.9" cy="213.0" r="0.6"/><circle cx="302.4" cy="208.4" r="0.6"/><circle cx="302.3" cy="210.1" r="0.6"/><circle cx="294.4" cy="207.3" r="0.6"/><circle cx="297.5" cy="202.7" r="0.6"/><circle cx="293.5" cy="201.0" r="0.6"/><circle cx="294.1" cy="197.1" r="0.6"/><circle cx="298.6" cy="203.2" r="0.6"/><circle cx="296.7" cy="205.2" r="0.6"/><circle cx="299.3" cy="200.1" r="0.6"/><circle cx="294.7" cy="195.1" r="0.6"/><circle cx="284.0" cy="194.2" r="0.6"/><circle cx="299.0" cy="211.1" r="0.6"/><circle cx="294.5" cy="212.3" r="0.6"/><circle cx="305.6" cy="207.7" r="0.6"/><circle cx="308.1" cy="205.8" r="0.6"/><circle cx="292.6" cy="206.6" r="0.6"/><circle cx="293.2" cy="196.8" r="0.6"/><circle cx="293.3" cy="203.6" r="0.6"/><circle cx="292.8" cy="204.6" r="0.6"/><circle cx="294.7" cy="201.5" r="0.6"/><circle cx="289.4" cy="196.6" r="0.6"/><circle cx="292.5" cy="205.4" r="0.6"/><circle cx="306.9" cy="208.2" r="0.6"/><circle cx="305.4" cy="205.3" r="0.6"/><circle cx="295.0" cy="196.6" r="0.6"/><circle cx="295.3" cy="212.3" r="0.6"/><circle cx="298.3" cy="209.4" r="0.6"/><circle cx="293.6" cy="196.5" r="0.6"/><circle cx="293.5" cy="201.7" r="0.6"/><circle cx="303.0" cy="213.5" r="0.6"/><circle cx="292.3" cy="202.0" r="0.6"/><circle cx="295.2" cy="201.8" r="0.6"/><circle cx="290.0" cy="204.6" r="0.6"/><circle cx="298.1" cy="205.5" r="0.6"/><circle cx="290.1" cy="203.5" r="0.6"/><circle cx="287.9" cy="209.2" r="0.6"/><circle cx="290.9" cy="202.6" r="0.6"/><circle cx="293.6" cy="200.7" r="0.6"/><circle cx="290.1" cy="194.8" r="0.6"/><circle cx="304.9" cy="204.2" r="0.6"/><circle cx="295.9" cy="206.6" r="0.6"/><circle cx="296.8" cy="209.9" r="0.6"/><circle cx="298.8" cy="205.1" r="0.6"/><circle cx="295.0" cy="205.2" r="0.6"/><circle cx="295.3" cy="201.5" r="0.6"/><circle cx="299.4" cy="198.9" r="0.6"/><circle cx="294.8" cy="201.1" r="0.6"/><circle cx="287.7" cy="202.0" r="0.6"/><circle cx="286.6" cy="199.5" r="0.6"/><circle cx="294.6" cy="203.8" r="0.6"/><circle cx="296.4" cy="202.9" r="0.6"/><circle cx="307.0" cy="205.0" r="0.6"/><circle cx="289.8" cy="201.0" r="0.6"/><circle cx="292.8" cy="203.0" r="0.6"/><circle cx="292.8" cy="199.4" r="0.6"/><circle cx="304.4" cy="203.2" r="0.6"/><circle cx="294.4" cy="202.5" r="0.6"/><circle cx="295.7" cy="211.1" r="0.6"/><circle cx="299.1" cy="209.4" r="0.6"/><circle cx="302.4" cy="213.6" r="0.6"/><circle cx="295.5" cy="194.6" r="0.6"/><circle cx="298.8" cy="200.2" r="0.6"/><circle cx="287.0" cy="201.2" r="0.6"/><circle cx="302.0" cy="209.6" r="0.6"/><circle cx="299.3" cy="197.8" r="0.6"/><circle cx="308.2" cy="196.4" r="0.6"/><circle cx="295.1" cy="196.1" r="0.6"/><circle cx="303.0" cy="205.5" r="0.6"/><circle cx="300.7" cy="203.8" r="0.6"/><circle cx="295.9" cy="204.6" r="0.6"/><circle cx="287.3" cy="209.8" r="0.6"/><circle cx="300.6" cy="201.2" r="0.6"/><circle cx="296.3" cy="205.3" r="0.6"/><circle cx="304.2" cy="205.3" r="0.6"/><circle cx="296.2" cy="201.0" r="0.6"/><circle cx="288.5" cy="201.2" r="0.6"/><circle cx="296.5" cy="202.3" r="0.6"/><circle cx="297.0" cy="207.6" r="0.6"/><circle cx="298.5" cy="205.0" r="0.6"/><circle cx="299.6" cy="204.4" r="0.6"/><circle cx="296.3" cy="206.2" r="0.6"/><circle cx="288.2" cy="211.1" r="0.6"/><circle cx="290.2" cy="208.7" r="0.6"/><circle cx="296.8" cy="209.6" r="0.6"/><circle cx="296.0" cy="198.7" r="0.6"/><circle cx="301.7" cy="204.2" r="0.6"/><circle cx="296.9" cy="204.1" r="0.6"/><circle cx="301.6" cy="207.6" r="0.6"/><circle cx="296.7" cy="195.5" r="0.6"/><circle cx="294.3" cy="204.5" r="0.6"/><circle cx="305.4" cy="205.0" r="0.6"/><circle cx="296.4" cy="210.1" r="0.6"/><circle cx="295.7" cy="203.7" r="0.6"/><circle cx="296.4" cy="195.8" r="0.6"/><circle cx="301.3" cy="205.6" r="0.6"/><circle cx="294.4" cy="197.9" r="0.6"/><circle cx="298.0" cy="211.1" r="0.6"/><circle cx="292.6" cy="198.4" r="0.6"/><circle cx="297.7" cy="195.2" r="0.6"/><circle cx="285.0" cy="202.4" r="0.6"/><circle cx="292.7" cy="202.6" r="0.6"/><circle cx="293.7" cy="205.8" r="0.6"/><circle cx="294.9" cy="200.7" r="0.6"/><circle cx="294.3" cy="207.3" r="0.6"/><circle cx="301.5" cy="208.1" r="0.6"/><circle cx="291.2" cy="202.6" r="0.6"/><circle cx="296.6" cy="195.2" r="0.6"/><circle cx="303.5" cy="204.8" r="0.6"/><circle cx="293.3" cy="204.9" r="0.6"/><circle cx="294.2" cy="199.9" r="0.6"/><circle cx="298.6" cy="201.2" r="0.6"/><circle cx="289.0" cy="201.1" r="0.6"/><circle cx="295.3" cy="198.1" r="0.6"/><circle cx="302.1" cy="197.5" r="0.6"/><circle cx="305.5" cy="207.8" r="0.6"/><circle cx="291.7" cy="204.9" r="0.6"/><circle cx="302.1" cy="202.3" r="0.6"/><circle cx="290.5" cy="204.9" r="0.6"/><circle cx="305.6" cy="195.1" r="0.6"/><circle cx="299.1" cy="203.6" r="0.6"/><circle cx="295.6" cy="201.8" r="0.6"/><circle cx="295.2" cy="209.4" r="0.6"/><circle cx="298.9" cy="198.3" r="0.6"/><circle cx="303.5" cy="196.3" r="0.6"/><circle cx="299.8" cy="204.5" r="0.6"/><circle cx="302.5" cy="205.2" r="0.6"/><circle cx="301.6" cy="203.2" r="0.6"/><circle cx="301.4" cy="205.2" r="0.6"/><circle cx="306.8" cy="199.2" r="0.6"/><circle cx="302.6" cy="205.8" r="0.6"/><circle cx="297.0" cy="200.8" r="0.6"/><circle cx="297.9" cy="195.9" r="0.6"/><circle cx="289.9" cy="208.2" r="0.6"/><circle cx="289.3" cy="212.1" r="0.6"/><circle cx="295.1" cy="205.3" r="0.6"/><circle cx="297.0" cy="206.0" r="0.6"/><circle cx="294.8" cy="202.0" r="0.6"/><circle cx="296.3" cy="209.5" r="0.6"/><circle cx="302.6" cy="210.1" r="0.6"/><circle cx="298.1" cy="202.6" r="0.6"/><circle cx="288.3" cy="208.0" r="0.6"/><circle cx="300.4" cy="201.4" r="0.6"/><circle cx="301.0" cy="210.3" r="0.6"/><circle cx="297.4" cy="209.4" r="0.6"/><circle cx="297.1" cy="194.6" r="0.6"/><circle cx="293.9" cy="201.9" r="0.6"/><circle cx="298.7" cy="199.1" r="0.6"/><circle cx="293.8" cy="199.0" r="0.6"/><circle cx="296.3" cy="204.3" r="0.6"/><circle cx="301.6" cy="207.7" r="0.6"/><circle cx="297.3" cy="205.1" r="0.6"/><circle cx="297.0" cy="204.4" r="0.6"/><circle cx="295.7" cy="205.6" r="0.6"/><circle cx="301.5" cy="197.6" r="0.6"/><circle cx="298.5" cy="208.3" r="0.6"/><circle cx="293.3" cy="194.0" r="0.6"/><circle cx="294.1" cy="197.7" r="0.6"/><circle cx="299.3" cy="199.1" r="0.6"/><circle cx="305.4" cy="203.8" r="0.6"/><circle cx="292.2" cy="201.6" r="0.6"/><circle cx="291.2" cy="206.4" r="0.6"/><circle cx="303.7" cy="202.1" r="0.6"/><circle cx="300.6" cy="198.5" r="0.6"/><circle cx="290.0" cy="211.0" r="0.6"/><circle cx="288.8" cy="199.3" r="0.6"/><circle cx="301.0" cy="201.2" r="0.6"/><circle cx="295.9" cy="207.7" r="0.6"/><circle cx="297.1" cy="205.0" r="0.6"/><circle cx="295.3" cy="209.9" r="0.6"/><circle cx="293.3" cy="213.1" r="0.6"/><circle cx="294.4" cy="199.8" r="0.6"/><circle cx="299.8" cy="206.0" r="0.6"/><circle cx="286.6" cy="205.9" r="0.6"/><circle cx="289.3" cy="200.1" r="0.6"/><circle cx="299.9" cy="199.0" r="0.6"/><circle cx="298.0" cy="201.7" r="0.6"/><circle cx="306.0" cy="202.5" r="0.6"/><circle cx="290.0" cy="198.5" r="0.6"/><circle cx="291.9" cy="204.9" r="0.6"/><circle cx="296.8" cy="209.0" r="0.6"/><circle cx="297.3" cy="204.4" r="0.6"/><circle cx="297.9" cy="203.0" r="0.6"/><circle cx="298.2" cy="207.8" r="0.6"/><circle cx="300.0" cy="200.6" r="0.6"/><circle cx="287.2" cy="200.3" r="0.6"/><circle cx="294.2" cy="206.4" r="0.6"/><circle cx="293.0" cy="198.1" r="0.6"/><circle cx="305.7" cy="210.3" r="0.6"/><circle cx="295.7" cy="210.9" r="0.6"/><circle cx="302.3" cy="197.3" r="0.6"/><circle cx="309.2" cy="197.7" r="0.6"/><circle cx="294.5" cy="198.1" r="0.6"/><circle cx="296.1" cy="196.8" r="0.6"/><circle cx="296.8" cy="209.5" r="0.6"/><circle cx="297.2" cy="202.3" r="0.6"/><circle cx="303.6" cy="198.4" r="0.6"/><circle cx="301.0" cy="201.7" r="0.6"/><circle cx="297.4" cy="203.8" r="0.6"/><circle cx="296.9" cy="203.4" r="0.6"/><circle cx="292.1" cy="201.1" r="0.6"/><circle cx="298.4" cy="203.0" r="0.6"/><circle cx="290.1" cy="200.5" r="0.6"/><circle cx="292.8" cy="203.7" r="0.6"/><circle cx="297.2" cy="204.1" r="0.6"/><circle cx="293.0" cy="204.1" r="0.6"/><circle cx="295.2" cy="195.0" r="0.6"/><circle cx="290.9" cy="197.7" r="0.6"/><circle cx="298.8" cy="197.0" r="0.6"/><circle cx="297.3" cy="201.0" r="0.6"/><circle cx="289.3" cy="195.9" r="0.6"/><circle cx="298.6" cy="205.5" r="0.6"/><circle cx="300.9" cy="213.0" r="0.6"/><circle cx="297.6" cy="205.0" r="0.6"/><circle cx="295.6" cy="204.2" r="0.6"/><circle cx="294.0" cy="199.0" r="0.6"/><circle cx="297.6" cy="205.8" r="0.6"/><circle cx="296.4" cy="198.4" r="0.6"/><circle cx="294.9" cy="201.2" r="0.6"/><circle cx="290.7" cy="203.8" r="0.6"/><circle cx="293.8" cy="200.8" r="0.6"/><circle cx="299.0" cy="197.6" r="0.6"/><circle cx="297.9" cy="200.1" r="0.6"/><circle cx="298.2" cy="203.7" r="0.6"/><circle cx="296.8" cy="198.2" r="0.6"/><circle cx="291.7" cy="199.3" r="0.6"/><circle cx="297.2" cy="207.4" r="0.6"/><circle cx="301.1" cy="200.4" r="0.6"/><circle cx="295.7" cy="194.9" r="0.6"/><circle cx="284.5" cy="199.9" r="0.6"/><circle cx="291.9" cy="195.6" r="0.6"/><circle cx="287.4" cy="207.0" r="0.6"/><circle cx="291.2" cy="194.9" r="0.6"/><circle cx="307.6" cy="203.3" r="0.6"/><circle cx="294.7" cy="207.1" r="0.6"/><circle cx="292.9" cy="212.1" r="0.6"/><circle cx="287.7" cy="197.2" r="0.6"/><circle cx="294.9" cy="199.4" r="0.6"/><circle cx="302.2" cy="194.3" r="0.6"/><circle cx="292.4" cy="205.0" r="0.6"/><circle cx="299.1" cy="208.4" r="0.6"/><circle cx="293.6" cy="204.5" r="0.6"/><circle cx="299.9" cy="201.3" r="0.6"/><circle cx="294.2" cy="201.0" r="0.6"/><circle cx="292.1" cy="197.7" r="0.6"/><circle cx="292.3" cy="195.4" r="0.6"/><circle cx="297.0" cy="194.8" r="0.6"/><circle cx="306.8" cy="211.4" r="0.6"/><circle cx="301.2" cy="201.7" r="0.6"/><circle cx="293.4" cy="210.0" r="0.6"/><circle cx="296.9" cy="206.2" r="0.6"/><circle cx="292.7" cy="209.2" r="0.6"/><circle cx="291.8" cy="204.2" r="0.6"/><circle cx="286.9" cy="200.6" r="0.6"/><circle cx="298.0" cy="200.7" r="0.6"/><circle cx="293.9" cy="207.6" r="0.6"/><circle cx="295.9" cy="209.8" r="0.6"/><circle cx="284.0" cy="207.3" r="0.6"/><circle cx="297.5" cy="194.9" r="0.6"/><circle cx="289.7" cy="208.4" r="0.6"/><circle cx="290.1" cy="200.4" r="0.6"/><circle cx="298.5" cy="201.2" r="0.6"/><circle cx="297.7" cy="198.5" r="0.6"/><circle cx="297.7" cy="208.8" r="0.6"/><circle cx="299.0" cy="203.3" r="0.6"/><circle cx="291.9" cy="211.0" r="0.6"/><circle cx="287.9" cy="213.9" r="0.6"/><circle cx="293.3" cy="211.8" r="0.6"/><circle cx="294.9" cy="196.3" r="0.6"/><circle cx="296.3" cy="204.9" r="0.6"/><circle cx="298.9" cy="208.6" r="0.6"/><circle cx="291.5" cy="206.2" r="0.6"/><circle cx="299.2" cy="201.5" r="0.6"/><circle cx="290.6" cy="198.6" r="0.6"/><circle cx="299.8" cy="207.1" r="0.6"/><circle cx="291.0" cy="196.6" r="0.6"/><circle cx="301.1" cy="194.5" r="0.6"/><circle cx="296.1" cy="198.9" r="0.6"/><circle cx="287.1" cy="204.6" r="0.6"/><circle cx="295.4" cy="210.9" r="0.6"/><circle cx="306.9" cy="201.3" r="0.6"/><circle cx="301.3" cy="208.3" r="0.6"/><circle cx="292.7" cy="198.9" r="0.6"/><circle cx="303.5" cy="200.6" r="0.6"/><circle cx="295.4" cy="201.7" r="0.6"/><circle cx="294.8" cy="200.1" r="0.6"/><circle cx="300.0" cy="209.5" r="0.6"/><circle cx="293.2" cy="196.1" r="0.6"/><circle cx="295.3" cy="195.4" r="0.6"/><circle cx="293.1" cy="210.0" r="0.6"/><circle cx="307.4" cy="204.2" r="0.6"/><circle cx="290.8" cy="207.8" r="0.6"/><circle cx="284.2" cy="200.6" r="0.6"/><circle cx="303.6" cy="206.5" r="0.6"/><circle cx="288.1" cy="195.1" r="0.6"/><circle cx="299.9" cy="202.6" r="0.6"/><circle cx="292.9" cy="205.7" r="0.6"/><circle cx="299.4" cy="199.5" r="0.6"/><circle cx="290.1" cy="196.7" r="0.6"/><circle cx="296.6" cy="198.9" r="0.6"/><circle cx="298.7" cy="201.6" r="0.6"/><circle cx="300.9" cy="200.7" r="0.6"/><circle cx="290.6" cy="207.5" r="0.6"/><circle cx="310.3" cy="195.3" r="0.6"/><circle cx="290.7" cy="205.5" r="0.6"/><circle cx="297.8" cy="199.5" r="0.6"/><circle cx="295.3" cy="194.8" r="0.6"/><circle cx="294.6" cy="208.1" r="0.6"/><circle cx="303.7" cy="201.6" r="0.6"/><circle cx="294.6" cy="205.7" r="0.6"/><circle cx="301.4" cy="205.3" r="0.6"/><circle cx="292.1" cy="205.4" r="0.6"/><circle cx="300.2" cy="199.1" r="0.6"/><circle cx="289.3" cy="206.5" r="0.6"/><circle cx="298.0" cy="208.2" r="0.6"/><circle cx="295.8" cy="199.8" r="0.6"/><circle cx="293.1" cy="198.0" r="0.6"/><circle cx="290.8" cy="200.7" r="0.6"/><circle cx="293.8" cy="209.3" r="0.6"/><circle cx="289.6" cy="203.5" r="0.6"/><circle cx="293.5" cy="211.3" r="0.6"/><circle cx="296.8" cy="201.2" r="0.6"/><circle cx="299.8" cy="203.3" r="0.6"/><circle cx="294.1" cy="211.5" r="0.6"/><circle cx="300.0" cy="212.0" r="0.6"/><circle cx="301.8" cy="206.8" r="0.6"/><circle cx="295.9" cy="197.5" r="0.6"/><circle cx="299.3" cy="203.3" r="0.6"/><circle cx="299.1" cy="202.9" r="0.6"/><circle cx="291.9" cy="198.3" r="0.6"/><circle cx="299.8" cy="209.8" r="0.6"/><circle cx="294.5" cy="205.8" r="0.6"/><circle cx="302.2" cy="198.3" r="0.6"/><circle cx="293.6" cy="197.6" r="0.6"/><circle cx="301.7" cy="204.2" r="0.6"/><circle cx="292.7" cy="194.8" r="0.6"/><circle cx="295.3" cy="208.6" r="0.6"/><circle cx="294.1" cy="201.2" r="0.6"/><circle cx="298.4" cy="196.6" r="0.6"/><circle cx="296.3" cy="206.4" r="0.6"/><circle cx="291.5" cy="199.3" r="0.6"/><circle cx="297.0" cy="202.7" r="0.6"/><circle cx="294.7" cy="204.5" r="0.6"/><circle cx="296.5" cy="198.4" r="0.6"/><circle cx="292.7" cy="206.0" r="0.6"/><circle cx="302.0" cy="209.9" r="0.6"/><circle cx="292.1" cy="209.4" r="0.6"/><circle cx="299.5" cy="202.8" r="0.6"/><circle cx="298.6" cy="207.5" r="0.6"/><circle cx="304.2" cy="197.0" r="0.6"/><circle cx="298.7" cy="202.3" r="0.6"/><circle cx="295.3" cy="209.4" r="0.6"/><circle cx="299.4" cy="197.7" r="0.6"/><circle cx="294.5" cy="204.7" r="0.6"/><circle cx="289.2" cy="208.5" r="0.6"/><circle cx="295.5" cy="204.2" r="0.6"/><circle cx="298.3" cy="212.7" r="0.6"/><circle cx="295.8" cy="201.5" r="0.6"/><circle cx="304.2" cy="200.0" r="0.6"/><circle cx="292.6" cy="196.3" r="0.6"/><circle cx="301.3" cy="204.3" r="0.6"/><circle cx="298.2" cy="204.0" r="0.6"/><circle cx="294.8" cy="199.3" r="0.6"/><circle cx="292.2" cy="205.9" r="0.6"/><circle cx="297.2" cy="211.8" r="0.6"/><circle cx="291.9" cy="201.1" r="0.6"/><circle cx="291.4" cy="211.0" r="0.6"/><circle cx="290.1" cy="207.9" r="0.6"/><circle cx="302.9" cy="202.0" r="0.6"/><circle cx="293.2" cy="194.9" r="0.6"/><circle cx="296.7" cy="203.3" r="0.6"/><circle cx="292.5" cy="208.6" r="0.6"/><circle cx="297.4" cy="200.5" r="0.6"/><circle cx="292.7" cy="195.9" r="0.6"/><circle cx="292.5" cy="205.9" r="0.6"/><circle cx="293.5" cy="207.8" r="0.6"/><circle cx="297.9" cy="202.0" r="0.6"/><circle cx="286.8" cy="201.5" r="0.6"/><circle cx="301.7" cy="201.6" r="0.6"/><circle cx="298.7" cy="200.6" r="0.6"/><circle cx="286.9" cy="206.4" r="0.6"/><circle cx="297.2" cy="200.2" r="0.6"/><circle cx="294.2" cy="205.1" r="0.6"/><circle cx="293.1" cy="205.4" r="0.6"/><circle cx="294.9" cy="200.3" r="0.6"/><circle cx="291.9" cy="205.8" r="0.6"/><circle cx="293.7" cy="206.4" r="0.6"/><circle cx="301.3" cy="203.7" r="0.6"/><circle cx="287.9" cy="200.2" r="0.6"/><circle cx="300.3" cy="201.6" r="0.6"/><circle cx="291.9" cy="203.3" r="0.6"/><circle cx="298.5" cy="204.5" r="0.6"/><circle cx="298.7" cy="198.8" r="0.6"/><circle cx="294.4" cy="202.2" r="0.6"/><circle cx="294.1" cy="196.5" r="0.6"/><circle cx="303.4" cy="210.9" r="0.6"/><circle cx="304.5" cy="206.9" r="0.6"/><circle cx="293.9" cy="208.6" r="0.6"/><circle cx="295.2" cy="206.7" r="0.6"/><circle cx="291.2" cy="200.7" r="0.6"/><circle cx="299.0" cy="212.5" r="0.6"/><circle cx="308.9" cy="195.5" r="0.6"/><circle cx="295.3" cy="198.5" r="0.6"/><circle cx="295.0" cy="200.7" r="0.6"/><circle cx="296.0" cy="208.5" r="0.6"/><circle cx="300.7" cy="204.4" r="0.6"/><circle cx="296.0" cy="204.0" r="0.6"/><circle cx="296.8" cy="206.4" r="0.6"/><circle cx="296.2" cy="206.0" r="0.6"/><circle cx="289.8" cy="208.1" r="0.6"/><circle cx="304.6" cy="203.6" r="0.6"/><circle cx="289.6" cy="211.1" r="0.6"/><circle cx="295.1" cy="206.7" r="0.6"/><circle cx="298.4" cy="209.7" r="0.6"/><circle cx="299.0" cy="203.8" r="0.6"/><circle cx="285.7" cy="198.5" r="0.6"/><circle cx="297.1" cy="206.9" r="0.6"/><circle cx="290.6" cy="200.7" r="0.6"/><circle cx="286.2" cy="203.1" r="0.6"/><circle cx="297.0" cy="200.8" r="0.6"/><circle cx="284.6" cy="204.5" r="0.6"/><circle cx="289.7" cy="207.4" r="0.6"/><circle cx="295.6" cy="204.9" r="0.6"/><circle cx="298.9" cy="200.4" r="0.6"/><circle cx="300.6" cy="209.6" r="0.6"/><circle cx="298.5" cy="210.2" r="0.6"/><circle cx="293.3" cy="208.5" r="0.6"/><circle cx="296.8" cy="198.2" r="0.6"/><circle cx="295.3" cy="200.7" r="0.6"/><circle cx="293.3" cy="204.1" r="0.6"/><circle cx="301.0" cy="201.3" r="0.6"/><circle cx="295.9" cy="195.7" r="0.6"/><circle cx="297.0" cy="209.4" r="0.6"/><circle cx="300.1" cy="205.6" r="0.6"/><circle cx="292.9" cy="198.6" r="0.6"/><circle cx="294.9" cy="196.5" r="0.6"/><circle cx="290.3" cy="208.9" r="0.6"/><circle cx="292.2" cy="213.2" r="0.6"/><circle cx="289.1" cy="206.3" r="0.6"/><circle cx="290.2" cy="204.9" r="0.6"/><circle cx="290.8" cy="204.1" r="0.6"/><circle cx="295.0" cy="201.2" r="0.6"/><circle cx="299.2" cy="211.1" r="0.6"/><circle cx="293.4" cy="208.3" r="0.6"/><circle cx="296.3" cy="203.3" r="0.6"/><circle cx="291.8" cy="194.3" r="0.6"/><circle cx="294.3" cy="202.4" r="0.6"/><circle cx="314.9" cy="203.6" r="0.6"/><circle cx="305.4" cy="209.5" r="0.6"/><circle cx="294.0" cy="206.1" r="0.6"/><circle cx="304.3" cy="203.6" r="0.6"/><circle cx="297.2" cy="206.0" r="0.6"/><circle cx="288.1" cy="199.8" r="0.6"/><circle cx="297.8" cy="206.2" r="0.6"/><circle cx="291.3" cy="202.1" r="0.6"/><circle cx="295.3" cy="202.7" r="0.6"/><circle cx="299.4" cy="203.7" r="0.6"/><circle cx="296.1" cy="196.0" r="0.6"/><circle cx="290.9" cy="205.6" r="0.6"/><circle cx="288.2" cy="205.5" r="0.6"/><circle cx="292.3" cy="199.5" r="0.6"/><circle cx="298.8" cy="199.6" r="0.6"/><circle cx="291.4" cy="200.3" r="0.6"/><circle cx="285.4" cy="204.2" r="0.6"/><circle cx="295.1" cy="208.5" r="0.6"/><circle cx="302.0" cy="197.1" r="0.6"/><circle cx="295.0" cy="196.3" r="0.6"/><circle cx="290.2" cy="201.3" r="0.6"/><circle cx="300.5" cy="207.4" r="0.6"/><circle cx="293.2" cy="206.3" r="0.6"/><circle cx="294.1" cy="204.1" r="0.6"/><circle cx="296.9" cy="206.6" r="0.6"/><circle cx="292.8" cy="203.0" r="0.6"/><circle cx="297.0" cy="203.8" r="0.6"/><circle cx="292.7" cy="212.8" r="0.6"/><circle cx="293.9" cy="207.5" r="0.6"/><circle cx="297.4" cy="209.7" r="0.6"/><circle cx="294.2" cy="197.0" r="0.6"/><circle cx="297.8" cy="196.7" r="0.6"/><circle cx="294.2" cy="210.6" r="0.6"/><circle cx="288.8" cy="203.0" r="0.6"/><circle cx="295.0" cy="210.4" r="0.6"/><circle cx="292.1" cy="199.4" r="0.6"/><circle cx="301.1" cy="206.2" r="0.6"/><circle cx="287.6" cy="207.5" r="0.6"/><circle cx="298.7" cy="199.9" r="0.6"/><circle cx="297.0" cy="204.7" r="0.6"/><circle cx="293.2" cy="200.5" r="0.6"/><circle cx="292.4" cy="202.2" r="0.6"/><circle cx="289.2" cy="203.7" r="0.6"/><circle cx="288.5" cy="204.4" r="0.6"/><circle cx="294.9" cy="197.9" r="0.6"/><circle cx="300.9" cy="213.1" r="0.6"/><circle cx="301.7" cy="195.6" r="0.6"/><circle cx="302.2" cy="203.9" r="0.6"/><circle cx="295.3" cy="200.2" r="0.6"/><circle cx="296.4" cy="210.6" r="0.6"/><circle cx="298.3" cy="200.9" r="0.6"/><circle cx="292.3" cy="201.4" r="0.6"/><circle cx="299.6" cy="212.9" r="0.6"/><circle cx="290.6" cy="203.8" r="0.6"/><circle cx="293.6" cy="199.6" r="0.6"/><circle cx="298.0" cy="206.1" r="0.6"/><circle cx="288.3" cy="198.5" r="0.6"/><circle cx="301.9" cy="204.5" r="0.6"/><circle cx="298.2" cy="200.5" r="0.6"/><circle cx="294.1" cy="205.9" r="0.6"/><circle cx="292.9" cy="197.7" r="0.6"/><circle cx="296.2" cy="208.1" r="0.6"/><circle cx="291.2" cy="209.3" r="0.6"/><circle cx="298.9" cy="198.5" r="0.6"/><circle cx="295.8" cy="203.1" r="0.6"/><circle cx="299.2" cy="206.5" r="0.6"/><circle cx="288.8" cy="196.8" r="0.6"/><circle cx="300.9" cy="203.5" r="0.6"/><circle cx="298.0" cy="204.9" r="0.6"/><circle cx="302.8" cy="196.4" r="0.6"/><circle cx="300.8" cy="198.6" r="0.6"/><circle cx="300.0" cy="210.0" r="0.6"/><circle cx="289.2" cy="206.0" r="0.6"/><circle cx="294.3" cy="201.9" r="0.6"/><circle cx="295.5" cy="197.8" r="0.6"/><circle cx="291.4" cy="207.2" r="0.6"/><circle cx="299.7" cy="200.0" r="0.6"/><circle cx="301.4" cy="204.7" r="0.6"/><circle cx="290.5" cy="200.7" r="0.6"/><circle cx="296.6" cy="198.2" r="0.6"/><circle cx="303.8" cy="203.4" r="0.6"/><circle cx="297.3" cy="197.8" r="0.6"/><circle cx="291.0" cy="199.6" r="0.6"/><circle cx="297.1" cy="201.8" r="0.6"/><circle cx="294.5" cy="205.1" r="0.6"/><circle cx="297.6" cy="211.0" r="0.6"/><circle cx="294.4" cy="198.1" r="0.6"/><circle cx="296.4" cy="211.0" r="0.6"/><circle cx="293.1" cy="203.8" r="0.6"/><circle cx="294.2" cy="205.6" r="0.6"/><circle cx="296.7" cy="199.0" r="0.6"/><circle cx="295.1" cy="208.3" r="0.6"/><circle cx="301.6" cy="207.7" r="0.6"/><circle cx="299.9" cy="201.2" r="0.6"/><circle cx="294.5" cy="208.3" r="0.6"/><circle cx="290.0" cy="203.5" r="0.6"/><circle cx="286.6" cy="202.2" r="0.6"/><circle cx="291.8" cy="197.4" r="0.6"/><circle cx="298.3" cy="199.3" r="0.6"/><circle cx="293.9" cy="202.2" r="0.6"/><circle cx="292.9" cy="211.0" r="0.6"/><circle cx="293.5" cy="204.6" r="0.6"/><circle cx="289.2" cy="201.4" r="0.6"/><circle cx="294.1" cy="201.9" r="0.6"/><circle cx="293.0" cy="204.3" r="0.6"/><circle cx="303.4" cy="202.0" r="0.6"/><circle cx="295.0" cy="201.4" r="0.6"/><circle cx="309.0" cy="210.6" r="0.6"/><circle cx="298.9" cy="206.8" r="0.6"/><circle cx="292.3" cy="202.9" r="0.6"/><circle cx="296.9" cy="203.9" r="0.6"/><circle cx="291.3" cy="199.7" r="0.6"/><circle cx="298.5" cy="204.7" r="0.6"/><circle cx="285.6" cy="204.7" r="0.6"/><circle cx="301.8" cy="199.5" r="0.6"/><circle cx="296.3" cy="195.7" r="0.6"/><circle cx="299.4" cy="197.2" r="0.6"/><circle cx="289.6" cy="202.2" r="0.6"/><circle cx="307.1" cy="199.2" r="0.6"/><circle cx="289.9" cy="206.3" r="0.6"/><circle cx="297.7" cy="211.8" r="0.6"/><circle cx="288.9" cy="195.6" r="0.6"/><circle cx="294.5" cy="205.4" r="0.6"/><circle cx="298.1" cy="208.8" r="0.6"/><circle cx="288.2" cy="199.7" r="0.6"/><circle cx="295.6" cy="207.8" r="0.6"/><circle cx="298.0" cy="201.0" r="0.6"/><circle cx="291.2" cy="208.4" r="0.6"/><circle cx="295.7" cy="211.8" r="0.6"/><circle cx="289.7" cy="201.1" r="0.6"/><circle cx="292.3" cy="201.2" r="0.6"/><circle cx="291.3" cy="200.9" r="0.6"/><circle cx="295.4" cy="201.1" r="0.6"/><circle cx="299.0" cy="202.6" r="0.6"/><circle cx="296.5" cy="211.0" r="0.6"/><circle cx="297.4" cy="204.0" r="0.6"/><circle cx="295.8" cy="203.7" r="0.6"/><circle cx="298.3" cy="199.0" r="0.6"/><circle cx="302.1" cy="211.0" r="0.6"/><circle cx="301.2" cy="200.3" r="0.6"/><circle cx="287.9" cy="201.8" r="0.6"/><circle cx="297.0" cy="207.6" r="0.6"/><circle cx="294.8" cy="201.9" r="0.6"/><circle cx="303.0" cy="199.2" r="0.6"/><circle cx="301.5" cy="207.6" r="0.6"/><circle cx="289.5" cy="205.4" r="0.6"/><circle cx="292.7" cy="198.7" r="0.6"/><circle cx="286.1" cy="196.0" r="0.6"/><circle cx="297.7" cy="201.2" r="0.6"/><circle cx="296.7" cy="197.7" r="0.6"/><circle cx="294.2" cy="202.1" r="0.6"/><circle cx="287.6" cy="195.4" r="0.6"/><circle cx="298.1" cy="203.9" r="0.6"/><circle cx="291.2" cy="203.2" r="0.6"/><circle cx="299.9" cy="212.5" r="0.6"/><circle cx="291.8" cy="206.9" r="0.6"/><circle cx="306.2" cy="202.8" r="0.6"/><circle cx="302.9" cy="202.7" r="0.6"/><circle cx="287.0" cy="208.2" r="0.6"/><circle cx="301.5" cy="209.2" r="0.6"/><circle cx="301.7" cy="202.7" r="0.6"/><circle cx="292.0" cy="201.3" r="0.6"/><circle cx="295.9" cy="205.5" r="0.6"/><circle cx="293.5" cy="203.8" r="0.6"/><circle cx="300.3" cy="204.7" r="0.6"/><circle cx="308.0" cy="213.5" r="0.6"/><circle cx="290.0" cy="200.9" r="0.6"/><circle cx="288.9" cy="197.9" r="0.6"/><circle cx="298.1" cy="198.0" r="0.6"/><circle cx="290.6" cy="202.4" r="0.6"/><circle cx="299.6" cy="201.2" r="0.6"/><circle cx="294.5" cy="208.3" r="0.6"/><circle cx="298.4" cy="205.5" r="0.6"/><circle cx="300.0" cy="197.7" r="0.6"/><circle cx="296.6" cy="200.0" r="0.6"/><circle cx="301.2" cy="207.1" r="0.6"/><circle cx="291.3" cy="210.7" r="0.6"/><circle cx="290.7" cy="209.9" r="0.6"/><circle cx="296.4" cy="198.7" r="0.6"/><circle cx="290.2" cy="202.3" r="0.6"/><circle cx="295.4" cy="199.7" r="0.6"/><circle cx="298.0" cy="195.8" r="0.6"/><circle cx="295.8" cy="203.4" r="0.6"/><circle cx="286.8" cy="205.8" r="0.6"/><circle cx="292.7" cy="202.4" r="0.6"/><circle cx="300.0" cy="200.4" r="0.6"/><circle cx="303.7" cy="210.2" r="0.6"/><circle cx="301.8" cy="209.8" r="0.6"/><circle cx="297.3" cy="200.3" r="0.6"/><circle cx="299.5" cy="208.1" r="0.6"/><circle cx="296.9" cy="202.0" r="0.6"/><circle cx="288.4" cy="207.5" r="0.6"/><circle cx="297.0" cy="196.4" r="0.6"/><circle cx="296.7" cy="207.1" r="0.6"/><circle cx="295.7" cy="207.5" r="0.6"/><circle cx="298.9" cy="195.3" r="0.6"/><circle cx="294.6" cy="206.0" r="0.6"/><circle cx="301.0" cy="210.3" r="0.6"/><circle cx="286.4" cy="203.8" r="0.6"/><circle cx="299.9" cy="209.4" r="0.6"/><circle cx="303.7" cy="197.8" r="0.6"/><circle cx="293.5" cy="198.0" r="0.6"/><circle cx="299.3" cy="196.1" r="0.6"/><circle cx="302.1" cy="207.7" r="0.6"/><circle cx="292.8" cy="207.5" r="0.6"/><circle cx="288.8" cy="202.7" r="0.6"/><circle cx="295.7" cy="208.0" r="0.6"/><circle cx="297.3" cy="204.7" r="0.6"/><circle cx="293.7" cy="203.6" r="0.6"/><circle cx="295.5" cy="207.2" r="0.6"/><circle cx="295.4" cy="208.8" r="0.6"/><circle cx="288.0" cy="210.3" r="0.6"/><circle cx="295.5" cy="209.3" r="0.6"/><circle cx="296.6" cy="207.8" r="0.6"/><circle cx="302.9" cy="199.8" r="0.6"/><circle cx="296.1" cy="202.4" r="0.6"/><circle cx="296.1" cy="194.8" r="0.6"/><circle cx="294.9" cy="202.1" r="0.6"/><circle cx="291.9" cy="202.7" r="0.6"/><circle cx="288.9" cy="211.3" r="0.6"/><circle cx="298.9" cy="213.0" r="0.6"/><circle cx="291.0" cy="197.6" r="0.6"/><circle cx="296.5" cy="194.5" r="0.6"/><circle cx="296.6" cy="199.6" r="0.6"/><circle cx="294.3" cy="204.8" r="0.6"/><circle cx="296.9" cy="213.0" r="0.6"/><circle cx="298.3" cy="196.3" r="0.6"/><circle cx="300.0" cy="195.9" r="0.6"/><circle cx="295.7" cy="196.8" r="0.6"/><circle cx="292.3" cy="210.5" r="0.6"/><circle cx="292.8" cy="200.2" r="0.6"/><circle cx="292.9" cy="201.9" r="0.6"/><circle cx="302.4" cy="196.6" r="0.6"/><circle cx="290.0" cy="206.9" r="0.6"/><circle cx="287.8" cy="202.1" r="0.6"/><circle cx="301.4" cy="202.8" r="0.6"/><circle cx="293.1" cy="199.8" r="0.6"/><circle cx="291.0" cy="200.6" r="0.6"/><circle cx="297.0" cy="209.7" r="0.6"/><circle cx="300.3" cy="199.9" r="0.6"/><circle cx="292.5" cy="207.2" r="0.6"/><circle cx="286.6" cy="201.8" r="0.6"/><circle cx="293.6" cy="197.6" r="0.6"/><circle cx="291.0" cy="205.5" r="0.6"/><circle cx="287.2" cy="199.2" r="0.6"/><circle cx="292.6" cy="204.0" r="0.6"/><circle cx="289.5" cy="209.5" r="0.6"/><circle cx="294.1" cy="202.0" r="0.6"/><circle cx="293.6" cy="199.9" r="0.6"/><circle cx="291.4" cy="209.6" r="0.6"/><circle cx="296.6" cy="202.6" r="0.6"/><circle cx="300.2" cy="199.1" r="0.6"/><circle cx="298.8" cy="203.0" r="0.6"/><circle cx="291.6" cy="207.5" r="0.6"/><circle cx="288.6" cy="207.2" r="0.6"/><circle cx="291.5" cy="205.7" r="0.6"/><circle cx="302.7" cy="205.5" r="0.6"/><circle cx="292.7" cy="203.3" r="0.6"/><circle cx="293.3" cy="197.2" r="0.6"/><circle cx="290.2" cy="203.8" r="0.6"/><circle cx="295.5" cy="205.8" r="0.6"/><circle cx="295.7" cy="197.9" r="0.6"/><circle cx="300.1" cy="196.3" r="0.6"/><circle cx="299.5" cy="211.1" r="0.6"/><circle cx="285.7" cy="205.3" r="0.6"/><circle cx="297.2" cy="204.1" r="0.6"/><circle cx="291.6" cy="201.8" r="0.6"/><circle cx="288.7" cy="204.4" r="0.6"/><circle cx="297.9" cy="199.4" r="0.6"/><circle cx="290.8" cy="201.0" r="0.6"/><circle cx="295.5" cy="203.4" r="0.6"/><circle cx="295.0" cy="203.5" r="0.6"/><circle cx="299.2" cy="210.2" r="0.6"/><circle cx="288.3" cy="200.2" r="0.6"/><circle cx="297.4" cy="207.9" r="0.6"/><circle cx="299.2" cy="209.4" r="0.6"/><circle cx="295.4" cy="205.2" r="0.6"/><circle cx="297.3" cy="200.6" r="0.6"/><circle cx="301.6" cy="205.7" r="0.6"/><circle cx="300.1" cy="200.6" r="0.6"/><circle cx="300.0" cy="197.1" r="0.6"/><circle cx="290.9" cy="207.3" r="0.6"/><circle cx="293.3" cy="204.1" r="0.6"/><circle cx="288.2" cy="211.7" r="0.6"/><circle cx="298.4" cy="202.6" r="0.6"/><circle cx="297.6" cy="204.5" r="0.6"/><circle cx="302.5" cy="203.5" r="0.6"/><circle cx="288.2" cy="202.3" r="0.6"/><circle cx="302.0" cy="205.4" r="0.6"/><circle cx="293.7" cy="206.3" r="0.6"/></g>
<g fill="#e8141c" fill-opacity="0.6" filter="url(#bl)"><circle cx="296.0" cy="205.7" r="0.6"/><circle cx="291.0" cy="200.7" r="0.6"/><circle cx="297.7" cy="202.9" r="0.6"/><circle cx="296.7" cy="210.2" r="0.6"/><circle cx="294.8" cy="204.5" r="0.6"/><circle cx="294.1" cy="201.6" r="0.6"/><circle cx="295.5" cy="198.8" r="0.6"/><circle cx="289.5" cy="208.2" r="0.6"/><circle cx="295.4" cy="207.4" r="0.6"/><circle cx="296.1" cy="204.2" r="0.6"/><circle cx="297.7" cy="206.0" r="0.6"/><circle cx="292.2" cy="207.7" r="0.6"/><circle cx="292.9" cy="204.3" r="0.6"/><circle cx="303.2" cy="203.9" r="0.6"/><circle cx="300.6" cy="202.5" r="0.6"/><circle cx="297.5" cy="203.8" r="0.6"/><circle cx="296.9" cy="200.8" r="0.6"/><circle cx="293.0" cy="204.8" r="0.6"/><circle cx="291.1" cy="200.9" r="0.6"/><circle cx="297.6" cy="201.6" r="0.6"/><circle cx="293.1" cy="200.0" r="0.6"/><circle cx="296.1" cy="202.5" r="0.6"/><circle cx="296.1" cy="203.0" r="0.6"/><circle cx="301.1" cy="202.2" r="0.6"/><circle cx="290.0" cy="204.1" r="0.6"/><circle cx="295.7" cy="204.2" r="0.6"/><circle cx="291.0" cy="207.4" r="0.6"/><circle cx="295.6" cy="203.5" r="0.6"/><circle cx="291.1" cy="205.2" r="0.6"/><circle cx="295.5" cy="208.1" r="0.6"/><circle cx="294.5" cy="199.6" r="0.6"/><circle cx="296.1" cy="200.6" r="0.6"/><circle cx="296.9" cy="200.1" r="0.6"/><circle cx="295.3" cy="202.9" r="0.6"/><circle cx="295.6" cy="202.0" r="0.6"/><circle cx="293.3" cy="203.5" r="0.6"/><circle cx="294.0" cy="204.2" r="0.6"/><circle cx="294.9" cy="196.2" r="0.6"/><circle cx="295.5" cy="208.3" r="0.6"/><circle cx="296.6" cy="205.6" r="0.6"/><circle cx="297.0" cy="202.1" r="0.6"/><circle cx="291.8" cy="206.3" r="0.6"/><circle cx="298.8" cy="205.5" r="0.6"/><circle cx="296.9" cy="205.0" r="0.6"/><circle cx="295.6" cy="204.6" r="0.6"/><circle cx="295.7" cy="204.7" r="0.6"/><circle cx="293.0" cy="201.6" r="0.6"/><circle cx="297.4" cy="202.6" r="0.6"/><circle cx="288.7" cy="204.1" r="0.6"/><circle cx="289.1" cy="209.9" r="0.6"/><circle cx="297.8" cy="205.9" r="0.6"/><circle cx="293.8" cy="200.0" r="0.6"/><circle cx="295.1" cy="203.7" r="0.6"/><circle cx="293.5" cy="204.2" r="0.6"/><circle cx="297.7" cy="205.6" r="0.6"/><circle cx="292.7" cy="196.6" r="0.6"/><circle cx="295.7" cy="201.5" r="0.6"/><circle cx="297.0" cy="209.0" r="0.6"/><circle cx="300.5" cy="204.6" r="0.6"/><circle cx="298.9" cy="209.1" r="0.6"/><circle cx="295.9" cy="204.6" r="0.6"/><circle cx="298.2" cy="203.6" r="0.6"/><circle cx="294.3" cy="201.3" r="0.6"/><circle cx="295.8" cy="201.7" r="0.6"/><circle cx="298.0" cy="202.6" r="0.6"/><circle cx="299.9" cy="207.7" r="0.6"/><circle cx="292.2" cy="207.2" r="0.6"/><circle cx="294.6" cy="208.2" r="0.6"/><circle cx="297.2" cy="203.6" r="0.6"/><circle cx="297.7" cy="201.9" r="0.6"/><circle cx="296.7" cy="205.0" r="0.6"/><circle cx="295.3" cy="205.0" r="0.6"/><circle cx="292.9" cy="205.6" r="0.6"/><circle cx="292.3" cy="205.8" r="0.6"/><circle cx="297.1" cy="206.1" r="0.6"/><circle cx="294.2" cy="213.6" r="0.6"/><circle cx="295.1" cy="204.3" r="0.6"/><circle cx="293.6" cy="208.4" r="0.6"/><circle cx="294.5" cy="207.0" r="0.6"/><circle cx="293.1" cy="204.8" r="0.6"/><circle cx="294.8" cy="206.8" r="0.6"/><circle cx="295.0" cy="201.0" r="0.6"/><circle cx="297.1" cy="199.9" r="0.6"/><circle cx="293.1" cy="206.3" r="0.6"/><circle cx="290.5" cy="206.3" r="0.6"/><circle cx="294.7" cy="200.9" r="0.6"/><circle cx="296.5" cy="205.9" r="0.6"/><circle cx="294.2" cy="203.3" r="0.6"/><circle cx="298.1" cy="206.3" r="0.6"/><circle cx="295.7" cy="201.4" r="0.6"/><circle cx="293.2" cy="201.9" r="0.6"/><circle cx="297.8" cy="205.7" r="0.6"/><circle cx="296.7" cy="208.3" r="0.6"/><circle cx="295.0" cy="202.6" r="0.6"/><circle cx="294.8" cy="210.0" r="0.6"/><circle cx="290.1" cy="204.8" r="0.6"/><circle cx="297.2" cy="204.1" r="0.6"/><circle cx="302.5" cy="207.6" r="0.6"/><circle cx="298.1" cy="201.0" r="0.6"/><circle cx="297.3" cy="202.7" r="0.6"/><circle cx="296.0" cy="204.5" r="0.6"/><circle cx="294.6" cy="205.9" r="0.6"/><circle cx="300.5" cy="207.2" r="0.6"/><circle cx="296.5" cy="197.7" r="0.6"/><circle cx="299.0" cy="207.4" r="0.6"/><circle cx="295.4" cy="202.4" r="0.6"/><circle cx="297.8" cy="201.3" r="0.6"/><circle cx="298.2" cy="200.5" r="0.6"/><circle cx="293.4" cy="204.0" r="0.6"/><circle cx="291.8" cy="204.0" r="0.6"/><circle cx="297.5" cy="199.7" r="0.6"/><circle cx="298.6" cy="202.2" r="0.6"/><circle cx="297.5" cy="204.6" r="0.6"/><circle cx="294.7" cy="202.3" r="0.6"/><circle cx="291.2" cy="201.7" r="0.6"/><circle cx="293.8" cy="209.2" r="0.6"/><circle cx="298.8" cy="199.6" r="0.6"/><circle cx="298.2" cy="204.7" r="0.6"/><circle cx="294.9" cy="205.4" r="0.6"/><circle cx="298.2" cy="202.2" r="0.6"/><circle cx="295.2" cy="204.5" r="0.6"/><circle cx="293.2" cy="204.6" r="0.6"/><circle cx="295.8" cy="201.8" r="0.6"/><circle cx="293.6" cy="205.0" r="0.6"/><circle cx="298.4" cy="205.0" r="0.6"/><circle cx="293.6" cy="206.4" r="0.6"/><circle cx="296.5" cy="205.9" r="0.6"/><circle cx="299.3" cy="201.1" r="0.6"/><circle cx="295.6" cy="202.1" r="0.6"/><circle cx="293.5" cy="210.4" r="0.6"/><circle cx="298.6" cy="198.4" r="0.6"/><circle cx="297.2" cy="202.2" r="0.6"/><circle cx="299.2" cy="204.3" r="0.6"/><circle cx="295.5" cy="204.4" r="0.6"/><circle cx="297.1" cy="204.1" r="0.6"/><circle cx="295.4" cy="203.6" r="0.6"/><circle cx="297.4" cy="200.4" r="0.6"/><circle cx="296.0" cy="203.6" r="0.6"/><circle cx="294.6" cy="206.3" r="0.6"/><circle cx="292.4" cy="202.8" r="0.6"/><circle cx="293.6" cy="205.7" r="0.6"/><circle cx="294.7" cy="204.2" r="0.6"/><circle cx="297.1" cy="198.9" r="0.6"/><circle cx="297.3" cy="201.6" r="0.6"/><circle cx="295.3" cy="203.6" r="0.6"/><circle cx="298.3" cy="206.3" r="0.6"/><circle cx="300.9" cy="204.6" r="0.6"/><circle cx="294.7" cy="202.4" r="0.6"/><circle cx="297.8" cy="209.1" r="0.6"/><circle cx="297.0" cy="202.2" r="0.6"/><circle cx="296.8" cy="204.8" r="0.6"/><circle cx="296.1" cy="201.6" r="0.6"/><circle cx="288.9" cy="202.3" r="0.6"/><circle cx="298.9" cy="204.7" r="0.6"/><circle cx="289.8" cy="204.0" r="0.6"/><circle cx="290.8" cy="210.3" r="0.6"/><circle cx="296.5" cy="200.2" r="0.6"/><circle cx="298.2" cy="201.5" r="0.6"/><circle cx="297.6" cy="204.1" r="0.6"/><circle cx="292.7" cy="206.1" r="0.6"/><circle cx="292.2" cy="208.3" r="0.6"/><circle cx="296.2" cy="200.7" r="0.6"/><circle cx="290.9" cy="209.1" r="0.6"/><circle cx="300.1" cy="200.0" r="0.6"/><circle cx="300.6" cy="204.5" r="0.6"/><circle cx="295.4" cy="203.7" r="0.6"/><circle cx="295.2" cy="208.5" r="0.6"/><circle cx="296.4" cy="198.1" r="0.6"/><circle cx="301.9" cy="206.8" r="0.6"/><circle cx="292.9" cy="202.9" r="0.6"/><circle cx="293.5" cy="204.1" r="0.6"/><circle cx="297.1" cy="204.8" r="0.6"/><circle cx="294.3" cy="201.5" r="0.6"/><circle cx="298.4" cy="203.7" r="0.6"/><circle cx="302.3" cy="201.4" r="0.6"/><circle cx="298.2" cy="204.2" r="0.6"/><circle cx="293.9" cy="208.3" r="0.6"/><circle cx="296.3" cy="201.2" r="0.6"/><circle cx="295.1" cy="207.2" r="0.6"/><circle cx="292.6" cy="208.4" r="0.6"/><circle cx="297.9" cy="203.1" r="0.6"/><circle cx="299.8" cy="209.6" r="0.6"/><circle cx="297.7" cy="204.5" r="0.6"/><circle cx="301.2" cy="208.8" r="0.6"/><circle cx="293.4" cy="203.3" r="0.6"/><circle cx="295.4" cy="202.7" r="0.6"/><circle cx="291.8" cy="206.9" r="0.6"/><circle cx="296.2" cy="204.3" r="0.6"/><circle cx="300.0" cy="202.2" r="0.6"/><circle cx="295.8" cy="204.9" r="0.6"/><circle cx="294.8" cy="203.6" r="0.6"/><circle cx="298.2" cy="204.0" r="0.6"/><circle cx="299.7" cy="201.6" r="0.6"/><circle cx="296.6" cy="199.4" r="0.6"/><circle cx="295.7" cy="201.8" r="0.6"/><circle cx="299.8" cy="206.4" r="0.6"/><circle cx="297.4" cy="209.9" r="0.6"/><circle cx="300.1" cy="206.3" r="0.6"/><circle cx="294.1" cy="199.4" r="0.6"/><circle cx="295.9" cy="202.9" r="0.6"/><circle cx="294.2" cy="203.1" r="0.6"/><circle cx="291.3" cy="208.8" r="0.6"/><circle cx="292.8" cy="201.8" r="0.6"/><circle cx="297.6" cy="198.8" r="0.6"/><circle cx="298.6" cy="207.0" r="0.6"/><circle cx="295.1" cy="200.5" r="0.6"/><circle cx="294.7" cy="198.1" r="0.6"/><circle cx="299.9" cy="204.2" r="0.6"/><circle cx="293.9" cy="201.1" r="0.6"/><circle cx="297.6" cy="208.8" r="0.6"/><circle cx="292.4" cy="202.2" r="0.6"/><circle cx="291.0" cy="206.2" r="0.6"/><circle cx="296.4" cy="211.3" r="0.6"/><circle cx="295.7" cy="202.6" r="0.6"/><circle cx="294.0" cy="206.7" r="0.6"/><circle cx="291.4" cy="206.4" r="0.6"/><circle cx="296.7" cy="202.4" r="0.6"/><circle cx="293.4" cy="207.4" r="0.6"/><circle cx="301.3" cy="202.6" r="0.6"/><circle cx="297.5" cy="209.6" r="0.6"/><circle cx="294.2" cy="203.2" r="0.6"/><circle cx="292.5" cy="203.5" r="0.6"/><circle cx="295.8" cy="202.7" r="0.6"/><circle cx="293.9" cy="198.9" r="0.6"/><circle cx="292.2" cy="200.8" r="0.6"/><circle cx="297.8" cy="202.4" r="0.6"/><circle cx="293.6" cy="206.1" r="0.6"/><circle cx="297.6" cy="201.6" r="0.6"/><circle cx="294.2" cy="206.1" r="0.6"/><circle cx="297.0" cy="201.3" r="0.6"/><circle cx="296.7" cy="203.9" r="0.6"/><circle cx="299.2" cy="201.2" r="0.6"/><circle cx="298.5" cy="205.4" r="0.6"/><circle cx="293.1" cy="207.4" r="0.6"/><circle cx="298.6" cy="199.7" r="0.6"/><circle cx="301.7" cy="200.3" r="0.6"/><circle cx="293.4" cy="203.0" r="0.6"/><circle cx="298.2" cy="205.9" r="0.6"/><circle cx="295.7" cy="208.4" r="0.6"/><circle cx="297.2" cy="208.5" r="0.6"/><circle cx="304.1" cy="204.6" r="0.6"/><circle cx="288.6" cy="202.5" r="0.6"/><circle cx="292.9" cy="204.3" r="0.6"/><circle cx="296.3" cy="200.0" r="0.6"/><circle cx="292.7" cy="203.1" r="0.6"/><circle cx="295.4" cy="195.5" r="0.6"/><circle cx="298.8" cy="204.1" r="0.6"/><circle cx="296.0" cy="205.0" r="0.6"/><circle cx="293.0" cy="203.8" r="0.6"/><circle cx="299.0" cy="207.5" r="0.6"/><circle cx="297.3" cy="203.1" r="0.6"/><circle cx="293.6" cy="208.3" r="0.6"/><circle cx="297.5" cy="202.6" r="0.6"/><circle cx="289.7" cy="201.1" r="0.6"/><circle cx="290.4" cy="208.1" r="0.6"/><circle cx="296.5" cy="201.5" r="0.6"/><circle cx="295.2" cy="212.6" r="0.6"/><circle cx="299.5" cy="199.6" r="0.6"/><circle cx="295.6" cy="199.9" r="0.6"/><circle cx="291.0" cy="204.6" r="0.6"/><circle cx="303.1" cy="209.2" r="0.6"/><circle cx="296.1" cy="202.7" r="0.6"/><circle cx="296.6" cy="207.4" r="0.6"/><circle cx="291.7" cy="197.8" r="0.6"/><circle cx="301.5" cy="204.9" r="0.6"/><circle cx="300.7" cy="204.8" r="0.6"/><circle cx="300.4" cy="202.0" r="0.6"/><circle cx="297.5" cy="209.2" r="0.6"/><circle cx="299.0" cy="202.5" r="0.6"/><circle cx="298.6" cy="201.8" r="0.6"/><circle cx="291.8" cy="205.8" r="0.6"/><circle cx="300.1" cy="206.9" r="0.6"/><circle cx="292.3" cy="206.9" r="0.6"/><circle cx="298.0" cy="202.5" r="0.6"/><circle cx="288.6" cy="207.4" r="0.6"/><circle cx="298.6" cy="205.7" r="0.6"/><circle cx="290.9" cy="199.0" r="0.6"/><circle cx="299.0" cy="206.7" r="0.6"/><circle cx="297.5" cy="203.2" r="0.6"/><circle cx="297.2" cy="202.2" r="0.6"/><circle cx="295.1" cy="201.1" r="0.6"/><circle cx="296.8" cy="202.6" r="0.6"/><circle cx="298.8" cy="206.4" r="0.6"/><circle cx="293.6" cy="210.2" r="0.6"/><circle cx="292.7" cy="205.5" r="0.6"/><circle cx="299.2" cy="208.3" r="0.6"/><circle cx="289.4" cy="207.4" r="0.6"/><circle cx="299.6" cy="208.9" r="0.6"/><circle cx="289.3" cy="201.7" r="0.6"/><circle cx="295.7" cy="202.5" r="0.6"/><circle cx="300.0" cy="201.7" r="0.6"/><circle cx="299.7" cy="205.9" r="0.6"/><circle cx="291.6" cy="200.6" r="0.6"/><circle cx="294.6" cy="204.3" r="0.6"/><circle cx="299.0" cy="203.4" r="0.6"/><circle cx="298.7" cy="198.7" r="0.6"/><circle cx="286.9" cy="202.9" r="0.6"/><circle cx="297.4" cy="202.8" r="0.6"/><circle cx="293.0" cy="205.4" r="0.6"/><circle cx="301.8" cy="203.6" r="0.6"/><circle cx="293.8" cy="201.1" r="0.6"/><circle cx="301.9" cy="203.9" r="0.6"/><circle cx="297.8" cy="208.1" r="0.6"/><circle cx="299.2" cy="200.9" r="0.6"/><circle cx="298.9" cy="206.9" r="0.6"/><circle cx="297.5" cy="207.4" r="0.6"/><circle cx="294.3" cy="203.7" r="0.6"/><circle cx="294.4" cy="206.6" r="0.6"/><circle cx="294.0" cy="205.3" r="0.6"/><circle cx="292.7" cy="203.6" r="0.6"/><circle cx="294.9" cy="203.6" r="0.6"/><circle cx="296.4" cy="203.4" r="0.6"/><circle cx="295.3" cy="197.0" r="0.6"/><circle cx="299.3" cy="201.9" r="0.6"/><circle cx="295.3" cy="201.2" r="0.6"/><circle cx="299.0" cy="200.9" r="0.6"/><circle cx="297.5" cy="208.0" r="0.6"/><circle cx="300.9" cy="208.0" r="0.6"/><circle cx="297.9" cy="199.9" r="0.6"/><circle cx="299.9" cy="208.0" r="0.6"/><circle cx="298.5" cy="206.7" r="0.6"/><circle cx="296.2" cy="202.3" r="0.6"/><circle cx="299.3" cy="208.3" r="0.6"/><circle cx="292.9" cy="207.1" r="0.6"/><circle cx="296.8" cy="207.0" r="0.6"/><circle cx="296.8" cy="207.8" r="0.6"/><circle cx="299.1" cy="207.0" r="0.6"/><circle cx="291.9" cy="206.8" r="0.6"/><circle cx="296.2" cy="200.2" r="0.6"/><circle cx="298.2" cy="199.4" r="0.6"/><circle cx="298.7" cy="209.8" r="0.6"/><circle cx="294.5" cy="207.2" r="0.6"/><circle cx="297.4" cy="206.3" r="0.6"/><circle cx="292.0" cy="206.1" r="0.6"/><circle cx="296.5" cy="206.6" r="0.6"/><circle cx="296.1" cy="207.8" r="0.6"/><circle cx="296.9" cy="206.4" r="0.6"/><circle cx="300.1" cy="204.7" r="0.6"/><circle cx="299.0" cy="204.9" r="0.6"/><circle cx="297.6" cy="202.3" r="0.6"/><circle cx="298.4" cy="208.2" r="0.6"/><circle cx="295.8" cy="206.8" r="0.6"/><circle cx="297.4" cy="200.4" r="0.6"/><circle cx="297.1" cy="208.5" r="0.6"/><circle cx="294.7" cy="198.1" r="0.6"/><circle cx="296.7" cy="201.9" r="0.6"/><circle cx="301.7" cy="204.0" r="0.6"/><circle cx="296.1" cy="202.0" r="0.6"/><circle cx="296.8" cy="202.2" r="0.6"/><circle cx="293.4" cy="203.9" r="0.6"/><circle cx="293.7" cy="208.5" r="0.6"/><circle cx="292.7" cy="203.9" r="0.6"/><circle cx="294.1" cy="199.5" r="0.6"/><circle cx="301.0" cy="197.1" r="0.6"/><circle cx="300.4" cy="199.4" r="0.6"/><circle cx="296.4" cy="211.7" r="0.6"/><circle cx="289.8" cy="199.5" r="0.6"/><circle cx="300.0" cy="204.7" r="0.6"/><circle cx="294.5" cy="204.0" r="0.6"/><circle cx="293.3" cy="204.5" r="0.6"/><circle cx="300.5" cy="202.8" r="0.6"/><circle cx="296.5" cy="208.1" r="0.6"/><circle cx="302.0" cy="202.2" r="0.6"/><circle cx="297.0" cy="202.2" r="0.6"/><circle cx="294.2" cy="202.8" r="0.6"/><circle cx="294.2" cy="198.4" r="0.6"/><circle cx="290.3" cy="201.7" r="0.6"/><circle cx="296.5" cy="208.2" r="0.6"/><circle cx="294.5" cy="203.6" r="0.6"/><circle cx="298.0" cy="206.6" r="0.6"/><circle cx="295.8" cy="203.9" r="0.6"/><circle cx="301.6" cy="203.0" r="0.6"/><circle cx="294.7" cy="198.7" r="0.6"/><circle cx="297.4" cy="203.2" r="0.6"/><circle cx="301.7" cy="203.0" r="0.6"/><circle cx="298.5" cy="207.2" r="0.6"/><circle cx="300.9" cy="199.8" r="0.6"/><circle cx="300.7" cy="204.2" r="0.6"/><circle cx="295.8" cy="203.1" r="0.6"/><circle cx="294.9" cy="203.0" r="0.6"/></g>
<g fill="#e8141c" fill-opacity="0.3" filter="url(#bl)"><circle cx="296.5" cy="197.1" r="0.6"/><circle cx="310.6" cy="191.4" r="0.6"/><circle cx="309.8" cy="204.1" r="0.6"/><circle cx="312.4" cy="193.6" r="0.6"/><circle cx="309.3" cy="193.0" r="0.6"/><circle cx="308.8" cy="198.0" r="0.6"/><circle cx="313.6" cy="192.3" r="0.6"/><circle cx="309.4" cy="195.5" r="0.6"/><circle cx="307.8" cy="195.0" r="0.6"/><circle cx="306.0" cy="192.3" r="0.6"/><circle cx="310.5" cy="191.1" r="0.6"/><circle cx="312.6" cy="194.4" r="0.6"/><circle cx="304.8" cy="192.7" r="0.6"/><circle cx="307.4" cy="194.5" r="0.6"/><circle cx="310.9" cy="194.3" r="0.6"/><circle cx="305.1" cy="200.7" r="0.6"/><circle cx="315.5" cy="195.6" r="0.6"/><circle cx="315.7" cy="196.4" r="0.6"/><circle cx="308.7" cy="195.5" r="0.6"/><circle cx="316.3" cy="193.6" r="0.6"/><circle cx="313.7" cy="203.9" r="0.6"/><circle cx="312.7" cy="199.3" r="0.6"/><circle cx="317.5" cy="197.6" r="0.6"/><circle cx="313.1" cy="192.7" r="0.6"/><circle cx="310.8" cy="200.5" r="0.6"/><circle cx="307.3" cy="195.1" r="0.6"/><circle cx="305.6" cy="195.2" r="0.6"/><circle cx="307.9" cy="197.2" r="0.6"/><circle cx="309.4" cy="192.8" r="0.6"/><circle cx="308.5" cy="194.7" r="0.6"/><circle cx="307.2" cy="198.7" r="0.6"/><circle cx="314.1" cy="195.7" r="0.6"/><circle cx="303.3" cy="197.1" r="0.6"/><circle cx="302.7" cy="195.8" r="0.6"/><circle cx="310.4" cy="192.8" r="0.6"/><circle cx="305.3" cy="192.4" r="0.6"/><circle cx="309.0" cy="198.8" r="0.6"/><circle cx="312.6" cy="199.2" r="0.6"/><circle cx="303.0" cy="190.9" r="0.6"/><circle cx="308.5" cy="195.7" r="0.6"/><circle cx="315.9" cy="190.5" r="0.6"/><circle cx="311.8" cy="195.0" r="0.6"/><circle cx="314.1" cy="195.8" r="0.6"/><circle cx="307.1" cy="191.8" r="0.6"/><circle cx="296.1" cy="198.9" r="0.6"/><circle cx="301.7" cy="193.6" r="0.6"/><circle cx="313.7" cy="194.3" r="0.6"/><circle cx="314.2" cy="195.2" r="0.6"/><circle cx="307.2" cy="200.3" r="0.6"/><circle cx="308.6" cy="189.9" r="0.6"/><circle cx="308.3" cy="197.2" r="0.6"/><circle cx="303.7" cy="198.1" r="0.6"/><circle cx="314.6" cy="203.3" r="0.6"/><circle cx="306.5" cy="197.6" r="0.6"/><circle cx="300.5" cy="193.5" r="0.6"/><circle cx="310.8" cy="196.7" r="0.6"/><circle cx="309.8" cy="194.8" r="0.6"/><circle cx="306.6" cy="193.4" r="0.6"/><circle cx="311.9" cy="197.3" r="0.6"/><circle cx="313.8" cy="198.9" r="0.6"/><circle cx="317.0" cy="188.2" r="0.6"/><circle cx="307.1" cy="194.5" r="0.6"/><circle cx="306.4" cy="199.1" r="0.6"/><circle cx="314.5" cy="194.7" r="0.6"/><circle cx="310.9" cy="200.0" r="0.6"/><circle cx="308.2" cy="193.9" r="0.6"/><circle cx="315.4" cy="196.9" r="0.6"/><circle cx="314.5" cy="193.0" r="0.6"/><circle cx="304.7" cy="195.1" r="0.6"/><circle cx="294.9" cy="196.7" r="0.6"/><circle cx="315.7" cy="195.4" r="0.6"/><circle cx="308.9" cy="199.3" r="0.6"/></g>
<g fill="#e8141c" fill-opacity="0.35" filter="url(#bl)"><circle cx="321.9" cy="201.9" r="0.6"/><circle cx="329.4" cy="200.9" r="0.6"/><circle cx="325.2" cy="200.0" r="0.6"/><circle cx="322.9" cy="199.2" r="0.6"/><circle cx="322.3" cy="202.3" r="0.6"/><circle cx="316.7" cy="197.1" r="0.6"/><circle cx="324.3" cy="194.9" r="0.6"/><circle cx="321.7" cy="195.4" r="0.6"/><circle cx="323.6" cy="201.4" r="0.6"/><circle cx="327.0" cy="200.0" r="0.6"/><circle cx="319.7" cy="199.1" r="0.6"/><circle cx="324.0" cy="203.5" r="0.6"/><circle cx="316.0" cy="200.8" r="0.6"/><circle cx="323.6" cy="200.0" r="0.6"/><circle cx="325.1" cy="199.6" r="0.6"/><circle cx="319.9" cy="199.4" r="0.6"/><circle cx="326.1" cy="197.7" r="0.6"/><circle cx="322.2" cy="193.5" r="0.6"/><circle cx="326.0" cy="196.2" r="0.6"/><circle cx="319.6" cy="196.4" r="0.6"/><circle cx="319.2" cy="197.1" r="0.6"/><circle cx="326.4" cy="201.1" r="0.6"/><circle cx="326.9" cy="203.8" r="0.6"/><circle cx="319.1" cy="199.9" r="0.6"/><circle cx="327.1" cy="206.9" r="0.6"/><circle cx="317.4" cy="192.7" r="0.6"/><circle cx="323.7" cy="196.8" r="0.6"/><circle cx="318.8" cy="199.6" r="0.6"/><circle cx="322.0" cy="198.6" r="0.6"/><circle cx="324.2" cy="201.7" r="0.6"/><circle cx="322.7" cy="197.2" r="0.6"/><circle cx="320.6" cy="201.9" r="0.6"/><circle cx="324.3" cy="205.9" r="0.6"/><circle cx="324.8" cy="202.1" r="0.6"/><circle cx="322.6" cy="200.8" r="0.6"/><circle cx="318.3" cy="196.8" r="0.6"/><circle cx="319.5" cy="193.6" r="0.6"/><circle cx="317.7" cy="198.6" r="0.6"/><circle cx="320.8" cy="195.5" r="0.6"/><circle cx="318.9" cy="197.6" r="0.6"/><circle cx="318.3" cy="199.5" r="0.6"/><circle cx="317.0" cy="198.4" r="0.6"/><circle cx="321.4" cy="201.6" r="0.6"/><circle cx="318.4" cy="195.6" r="0.6"/><circle cx="321.3" cy="206.1" r="0.6"/><circle cx="317.1" cy="199.2" r="0.6"/><circle cx="319.9" cy="199.2" r="0.6"/><circle cx="324.2" cy="198.6" r="0.6"/><circle cx="322.9" cy="199.1" r="0.6"/><circle cx="320.1" cy="197.2" r="0.6"/><circle cx="316.5" cy="196.7" r="0.6"/><circle cx="319.5" cy="197.1" r="0.6"/><circle cx="324.5" cy="199.5" r="0.6"/><circle cx="323.6" cy="202.3" r="0.6"/><circle cx="321.9" cy="197.7" r="0.6"/><circle cx="317.7" cy="200.1" r="0.6"/><circle cx="325.9" cy="202.0" r="0.6"/><circle cx="321.7" cy="200.5" r="0.6"/><circle cx="325.1" cy="205.0" r="0.6"/><circle cx="326.1" cy="198.6" r="0.6"/><circle cx="322.3" cy="198.7" r="0.6"/><circle cx="322.8" cy="196.1" r="0.6"/><circle cx="324.6" cy="195.4" r="0.6"/><circle cx="319.3" cy="199.4" r="0.6"/><circle cx="320.1" cy="197.1" r="0.6"/><circle cx="322.0" cy="197.5" r="0.6"/><circle cx="323.6" cy="198.8" r="0.6"/><circle cx="319.7" cy="205.7" r="0.6"/><circle cx="320.5" cy="201.7" r="0.6"/><circle cx="328.1" cy="195.6" r="0.6"/><circle cx="322.3" cy="194.9" r="0.6"/><circle cx="325.5" cy="196.7" r="0.6"/><circle cx="318.3" cy="203.0" r="0.6"/><circle cx="325.1" cy="194.6" r="0.6"/><circle cx="326.0" cy="198.8" r="0.6"/><circle cx="331.1" cy="204.6" r="0.6"/><circle cx="320.2" cy="197.0" r="0.6"/><circle cx="319.1" cy="198.5" r="0.6"/><circle cx="322.2" cy="200.8" r="0.6"/><circle cx="319.3" cy="203.4" r="0.6"/><circle cx="325.9" cy="197.4" r="0.6"/><circle cx="321.5" cy="197.4" r="0.6"/><circle cx="325.0" cy="195.5" r="0.6"/><circle cx="322.8" cy="203.1" r="0.6"/><circle cx="323.6" cy="195.2" r="0.6"/><circle cx="316.7" cy="202.4" r="0.6"/><circle cx="322.9" cy="200.3" r="0.6"/><circle cx="321.1" cy="195.0" r="0.6"/><circle cx="324.9" cy="194.4" r="0.6"/><circle cx="318.2" cy="200.5" r="0.6"/><circle cx="322.8" cy="206.4" r="0.6"/><circle cx="328.2" cy="200.4" r="0.6"/><circle cx="319.1" cy="196.7" r="0.6"/><circle cx="321.4" cy="192.7" r="0.6"/><circle cx="318.9" cy="194.8" r="0.6"/><circle cx="325.6" cy="199.6" r="0.6"/><circle cx="320.9" cy="196.9" r="0.6"/><circle cx="323.0" cy="195.3" r="0.6"/><circle cx="324.2" cy="201.7" r="0.6"/><circle cx="323.2" cy="199.8" r="0.6"/><circle cx="323.2" cy="205.8" r="0.6"/><circle cx="322.7" cy="192.9" r="0.6"/><circle cx="318.5" cy="200.7" r="0.6"/><circle cx="325.6" cy="200.9" r="0.6"/><circle cx="324.8" cy="198.7" r="0.6"/><circle cx="317.0" cy="195.3" r="0.6"/><circle cx="315.9" cy="196.5" r="0.6"/><circle cx="317.4" cy="198.4" r="0.6"/><circle cx="324.4" cy="200.9" r="0.6"/><circle cx="317.3" cy="198.5" r="0.6"/><circle cx="324.4" cy="196.9" r="0.6"/><circle cx="324.9" cy="198.7" r="0.6"/><circle cx="325.6" cy="198.7" r="0.6"/><circle cx="321.4" cy="199.9" r="0.6"/><circle cx="324.6" cy="198.9" r="0.6"/><circle cx="320.5" cy="194.9" r="0.6"/><circle cx="320.7" cy="195.8" r="0.6"/><circle cx="322.7" cy="198.6" r="0.6"/><circle cx="321.7" cy="197.9" r="0.6"/><circle cx="322.5" cy="204.0" r="0.6"/><circle cx="326.0" cy="195.7" r="0.6"/><circle cx="323.4" cy="196.7" r="0.6"/><circle cx="321.6" cy="197.0" r="0.6"/><circle cx="319.8" cy="192.7" r="0.6"/><circle cx="325.9" cy="194.4" r="0.6"/><circle cx="323.7" cy="196.4" r="0.6"/><circle cx="322.9" cy="194.8" r="0.6"/><circle cx="321.2" cy="197.5" r="0.6"/><circle cx="324.1" cy="197.8" r="0.6"/><circle cx="322.6" cy="199.3" r="0.6"/><circle cx="320.5" cy="193.8" r="0.6"/><circle cx="320.4" cy="196.3" r="0.6"/><circle cx="329.4" cy="205.0" r="0.6"/><circle cx="320.3" cy="196.3" r="0.6"/><circle cx="323.0" cy="200.1" r="0.6"/><circle cx="319.6" cy="194.0" r="0.6"/><circle cx="328.5" cy="202.0" r="0.6"/><circle cx="319.1" cy="198.7" r="0.6"/></g>
<g fill="#e8141c" fill-opacity="0.4" filter="url(#bl)"><circle cx="398.6" cy="183.1" r="0.6"/><circle cx="387.9" cy="187.9" r="0.6"/><circle cx="399.1" cy="184.1" r="0.6"/><circle cx="394.0" cy="187.5" r="0.6"/><circle cx="394.7" cy="181.3" r="0.6"/><circle cx="395.4" cy="180.6" r="0.6"/><circle cx="401.4" cy="185.1" r="0.6"/><circle cx="391.1" cy="187.0" r="0.6"/><circle cx="400.6" cy="176.2" r="0.6"/><circle cx="396.7" cy="190.5" r="0.6"/><circle cx="387.8" cy="186.5" r="0.6"/><circle cx="388.6" cy="186.7" r="0.6"/><circle cx="393.4" cy="186.1" r="0.6"/><circle cx="398.3" cy="185.8" r="0.6"/><circle cx="402.6" cy="185.6" r="0.6"/><circle cx="399.0" cy="180.7" r="0.6"/><circle cx="400.7" cy="187.2" r="0.6"/><circle cx="395.7" cy="192.0" r="0.6"/><circle cx="394.0" cy="185.2" r="0.6"/><circle cx="405.5" cy="175.0" r="0.6"/><circle cx="396.4" cy="178.7" r="0.6"/><circle cx="392.5" cy="185.5" r="0.6"/><circle cx="394.3" cy="186.0" r="0.6"/><circle cx="391.9" cy="185.7" r="0.6"/><circle cx="389.5" cy="185.3" r="0.6"/><circle cx="389.4" cy="189.1" r="0.6"/><circle cx="389.9" cy="189.1" r="0.6"/><circle cx="393.6" cy="184.5" r="0.6"/><circle cx="402.3" cy="183.6" r="0.6"/><circle cx="386.5" cy="189.3" r="0.6"/><circle cx="392.7" cy="180.8" r="0.6"/><circle cx="396.2" cy="183.8" r="0.6"/><circle cx="406.1" cy="180.7" r="0.6"/><circle cx="407.4" cy="186.8" r="0.6"/><circle cx="392.1" cy="183.1" r="0.6"/><circle cx="402.8" cy="182.6" r="0.6"/><circle cx="396.6" cy="183.9" r="0.6"/><circle cx="389.3" cy="185.4" r="0.6"/><circle cx="389.6" cy="181.2" r="0.6"/><circle cx="396.1" cy="191.3" r="0.6"/><circle cx="404.5" cy="182.5" r="0.6"/><circle cx="397.2" cy="186.5" r="0.6"/><circle cx="403.5" cy="184.1" r="0.6"/><circle cx="393.1" cy="184.3" r="0.6"/><circle cx="404.3" cy="192.1" r="0.6"/><circle cx="390.9" cy="178.9" r="0.6"/><circle cx="400.2" cy="183.5" r="0.6"/><circle cx="397.9" cy="188.9" r="0.6"/><circle cx="395.2" cy="180.4" r="0.6"/><circle cx="385.6" cy="187.6" r="0.6"/><circle cx="390.2" cy="187.6" r="0.6"/><circle cx="389.0" cy="185.6" r="0.6"/><circle cx="387.9" cy="185.8" r="0.6"/><circle cx="394.2" cy="187.6" r="0.6"/><circle cx="403.0" cy="182.4" r="0.6"/><circle cx="393.2" cy="192.8" r="0.6"/><circle cx="398.5" cy="186.5" r="0.6"/><circle cx="400.6" cy="189.0" r="0.6"/><circle cx="402.0" cy="185.8" r="0.6"/><circle cx="399.3" cy="181.0" r="0.6"/><circle cx="392.7" cy="185.5" r="0.6"/><circle cx="396.5" cy="184.9" r="0.6"/><circle cx="397.7" cy="184.6" r="0.6"/><circle cx="392.3" cy="180.1" r="0.6"/><circle cx="401.0" cy="185.7" r="0.6"/><circle cx="391.8" cy="187.9" r="0.6"/><circle cx="398.2" cy="184.6" r="0.6"/><circle cx="385.2" cy="183.5" r="0.6"/><circle cx="394.3" cy="191.2" r="0.6"/><circle cx="391.2" cy="185.0" r="0.6"/><circle cx="389.7" cy="184.9" r="0.6"/><circle cx="396.0" cy="177.5" r="0.6"/><circle cx="395.7" cy="182.9" r="0.6"/><circle cx="402.1" cy="186.8" r="0.6"/><circle cx="401.3" cy="181.1" r="0.6"/><circle cx="395.2" cy="188.6" r="0.6"/><circle cx="393.5" cy="181.3" r="0.6"/><circle cx="391.2" cy="181.4" r="0.6"/><circle cx="397.4" cy="178.3" r="0.6"/><circle cx="399.9" cy="178.0" r="0.6"/><circle cx="394.9" cy="179.9" r="0.6"/><circle cx="395.3" cy="188.9" r="0.6"/><circle cx="403.2" cy="187.8" r="0.6"/><circle cx="395.7" cy="185.4" r="0.6"/><circle cx="397.8" cy="186.7" r="0.6"/><circle cx="394.9" cy="189.2" r="0.6"/><circle cx="398.8" cy="188.4" r="0.6"/><circle cx="399.2" cy="186.6" r="0.6"/><circle cx="391.8" cy="184.6" r="0.6"/><circle cx="388.9" cy="185.8" r="0.6"/><circle cx="395.9" cy="188.0" r="0.6"/><circle cx="396.5" cy="189.4" r="0.6"/><circle cx="399.3" cy="174.9" r="0.6"/><circle cx="396.0" cy="190.3" r="0.6"/><circle cx="390.7" cy="184.7" r="0.6"/><circle cx="395.5" cy="178.3" r="0.6"/><circle cx="396.5" cy="182.5" r="0.6"/><circle cx="392.7" cy="188.4" r="0.6"/><circle cx="398.9" cy="184.0" r="0.6"/><circle cx="392.4" cy="186.8" r="0.6"/><circle cx="404.3" cy="183.4" r="0.6"/><circle cx="400.6" cy="182.9" r="0.6"/><circle cx="407.9" cy="175.8" r="0.6"/><circle cx="399.6" cy="185.9" r="0.6"/><circle cx="396.4" cy="180.8" r="0.6"/><circle cx="389.8" cy="185.8" r="0.6"/><circle cx="395.4" cy="180.7" r="0.6"/><circle cx="390.8" cy="188.3" r="0.6"/><circle cx="401.0" cy="181.6" r="0.6"/><circle cx="391.6" cy="183.5" r="0.6"/><circle cx="396.5" cy="188.4" r="0.6"/><circle cx="388.3" cy="186.7" r="0.6"/><circle cx="393.5" cy="184.3" r="0.6"/><circle cx="389.1" cy="185.3" r="0.6"/><circle cx="390.5" cy="187.6" r="0.6"/><circle cx="394.9" cy="180.1" r="0.6"/><circle cx="386.4" cy="185.7" r="0.6"/><circle cx="399.9" cy="185.7" r="0.6"/><circle cx="392.6" cy="173.8" r="0.6"/><circle cx="392.7" cy="183.1" r="0.6"/><circle cx="393.1" cy="181.3" r="0.6"/><circle cx="393.0" cy="183.3" r="0.6"/><circle cx="394.9" cy="185.0" r="0.6"/><circle cx="395.5" cy="185.7" r="0.6"/><circle cx="393.8" cy="185.4" r="0.6"/><circle cx="402.2" cy="186.3" r="0.6"/><circle cx="398.8" cy="189.0" r="0.6"/><circle cx="396.3" cy="181.3" r="0.6"/><circle cx="386.0" cy="185.1" r="0.6"/><circle cx="396.0" cy="186.4" r="0.6"/><circle cx="401.2" cy="181.4" r="0.6"/><circle cx="392.4" cy="188.7" r="0.6"/><circle cx="401.8" cy="181.6" r="0.6"/><circle cx="399.0" cy="189.1" r="0.6"/><circle cx="397.6" cy="184.3" r="0.6"/><circle cx="386.1" cy="192.4" r="0.6"/><circle cx="399.5" cy="184.4" r="0.6"/><circle cx="392.3" cy="181.4" r="0.6"/><circle cx="395.3" cy="184.7" r="0.6"/><circle cx="400.7" cy="179.2" r="0.6"/><circle cx="403.7" cy="183.0" r="0.6"/><circle cx="401.4" cy="179.9" r="0.6"/><circle cx="398.9" cy="188.6" r="0.6"/><circle cx="395.2" cy="179.8" r="0.6"/><circle cx="394.7" cy="187.2" r="0.6"/><circle cx="387.2" cy="182.0" r="0.6"/><circle cx="396.3" cy="181.4" r="0.6"/><circle cx="398.5" cy="180.0" r="0.6"/><circle cx="385.5" cy="184.9" r="0.6"/><circle cx="403.1" cy="179.9" r="0.6"/><circle cx="396.1" cy="185.8" r="0.6"/><circle cx="391.9" cy="190.0" r="0.6"/><circle cx="397.3" cy="186.2" r="0.6"/><circle cx="385.4" cy="181.4" r="0.6"/><circle cx="395.4" cy="187.7" r="0.6"/><circle cx="403.6" cy="181.9" r="0.6"/><circle cx="394.9" cy="186.8" r="0.6"/><circle cx="403.4" cy="180.0" r="0.6"/><circle cx="399.1" cy="183.2" r="0.6"/><circle cx="394.9" cy="188.2" r="0.6"/><circle cx="390.8" cy="182.4" r="0.6"/><circle cx="399.5" cy="183.9" r="0.6"/><circle cx="394.4" cy="184.9" r="0.6"/><circle cx="398.3" cy="183.0" r="0.6"/><circle cx="400.4" cy="185.2" r="0.6"/><circle cx="405.0" cy="187.1" r="0.6"/><circle cx="400.4" cy="183.0" r="0.6"/><circle cx="396.1" cy="182.8" r="0.6"/><circle cx="400.2" cy="188.7" r="0.6"/><circle cx="388.0" cy="184.1" r="0.6"/><circle cx="393.0" cy="182.1" r="0.6"/><circle cx="388.8" cy="185.0" r="0.6"/><circle cx="403.5" cy="185.5" r="0.6"/><circle cx="396.2" cy="185.0" r="0.6"/><circle cx="387.8" cy="189.7" r="0.6"/><circle cx="397.3" cy="180.7" r="0.6"/><circle cx="396.9" cy="184.0" r="0.6"/><circle cx="392.4" cy="182.3" r="0.6"/><circle cx="391.6" cy="182.7" r="0.6"/><circle cx="398.8" cy="185.5" r="0.6"/><circle cx="397.6" cy="183.9" r="0.6"/><circle cx="395.7" cy="192.4" r="0.6"/><circle cx="387.2" cy="191.6" r="0.6"/><circle cx="398.0" cy="184.7" r="0.6"/><circle cx="393.1" cy="184.9" r="0.6"/><circle cx="388.5" cy="181.9" r="0.6"/><circle cx="393.9" cy="179.5" r="0.6"/><circle cx="401.5" cy="187.5" r="0.6"/><circle cx="397.7" cy="185.3" r="0.6"/><circle cx="397.0" cy="186.2" r="0.6"/><circle cx="400.8" cy="186.8" r="0.6"/><circle cx="405.6" cy="182.5" r="0.6"/><circle cx="399.1" cy="178.2" r="0.6"/><circle cx="394.2" cy="181.0" r="0.6"/><circle cx="405.5" cy="190.9" r="0.6"/><circle cx="397.7" cy="179.8" r="0.6"/><circle cx="395.5" cy="185.2" r="0.6"/><circle cx="398.1" cy="188.3" r="0.6"/><circle cx="398.7" cy="174.6" r="0.6"/><circle cx="402.9" cy="181.3" r="0.6"/><circle cx="394.4" cy="190.5" r="0.6"/><circle cx="393.4" cy="180.7" r="0.6"/><circle cx="389.1" cy="187.0" r="0.6"/><circle cx="402.2" cy="188.7" r="0.6"/><circle cx="394.7" cy="183.6" r="0.6"/><circle cx="404.3" cy="181.1" r="0.6"/><circle cx="404.0" cy="183.7" r="0.6"/><circle cx="397.1" cy="183.8" r="0.6"/><circle cx="397.2" cy="183.0" r="0.6"/><circle cx="392.3" cy="185.5" r="0.6"/><circle cx="392.9" cy="186.9" r="0.6"/><circle cx="396.3" cy="183.9" r="0.6"/><circle cx="394.8" cy="184.5" r="0.6"/><circle cx="405.3" cy="182.4" r="0.6"/><circle cx="392.6" cy="184.8" r="0.6"/><circle cx="399.4" cy="183.3" r="0.6"/><circle cx="395.0" cy="184.3" r="0.6"/><circle cx="397.3" cy="186.0" r="0.6"/><circle cx="396.9" cy="178.8" r="0.6"/><circle cx="388.0" cy="177.6" r="0.6"/><circle cx="401.3" cy="187.6" r="0.6"/><circle cx="403.1" cy="183.6" r="0.6"/><circle cx="402.1" cy="183.2" r="0.6"/><circle cx="394.0" cy="179.9" r="0.6"/><circle cx="391.4" cy="184.1" r="0.6"/><circle cx="402.4" cy="189.3" r="0.6"/><circle cx="393.9" cy="186.9" r="0.6"/><circle cx="396.8" cy="181.9" r="0.6"/><circle cx="386.2" cy="184.9" r="0.6"/><circle cx="388.1" cy="185.9" r="0.6"/><circle cx="395.1" cy="184.5" r="0.6"/><circle cx="395.6" cy="186.8" r="0.6"/><circle cx="391.9" cy="189.3" r="0.6"/><circle cx="387.2" cy="187.5" r="0.6"/><circle cx="397.4" cy="181.7" r="0.6"/><circle cx="388.2" cy="189.4" r="0.6"/><circle cx="393.2" cy="188.5" r="0.6"/><circle cx="400.1" cy="183.8" r="0.6"/><circle cx="396.9" cy="188.3" r="0.6"/><circle cx="397.2" cy="181.3" r="0.6"/><circle cx="397.4" cy="186.6" r="0.6"/><circle cx="397.3" cy="185.3" r="0.6"/><circle cx="395.1" cy="184.8" r="0.6"/><circle cx="389.8" cy="181.5" r="0.6"/><circle cx="401.4" cy="181.2" r="0.6"/><circle cx="395.9" cy="179.6" r="0.6"/><circle cx="396.1" cy="181.9" r="0.6"/><circle cx="391.8" cy="189.5" r="0.6"/><circle cx="400.1" cy="176.2" r="0.6"/><circle cx="398.2" cy="187.5" r="0.6"/><circle cx="390.2" cy="189.0" r="0.6"/><circle cx="392.3" cy="182.3" r="0.6"/><circle cx="393.8" cy="183.9" r="0.6"/><circle cx="392.9" cy="183.1" r="0.6"/><circle cx="400.5" cy="183.5" r="0.6"/><circle cx="402.8" cy="182.2" r="0.6"/><circle cx="398.0" cy="184.8" r="0.6"/><circle cx="396.7" cy="184.0" r="0.6"/><circle cx="397.0" cy="190.7" r="0.6"/><circle cx="391.9" cy="184.1" r="0.6"/><circle cx="394.7" cy="187.3" r="0.6"/><circle cx="399.0" cy="187.5" r="0.6"/><circle cx="389.2" cy="187.7" r="0.6"/><circle cx="394.8" cy="184.2" r="0.6"/><circle cx="395.1" cy="178.1" r="0.6"/><circle cx="397.6" cy="185.0" r="0.6"/><circle cx="388.4" cy="186.6" r="0.6"/><circle cx="403.8" cy="181.5" r="0.6"/><circle cx="398.9" cy="183.4" r="0.6"/><circle cx="390.9" cy="183.0" r="0.6"/><circle cx="395.1" cy="189.9" r="0.6"/><circle cx="399.7" cy="181.4" r="0.6"/><circle cx="401.2" cy="183.1" r="0.6"/><circle cx="392.8" cy="187.4" r="0.6"/><circle cx="389.8" cy="181.0" r="0.6"/><circle cx="401.2" cy="177.0" r="0.6"/><circle cx="397.5" cy="179.1" r="0.6"/><circle cx="395.7" cy="184.3" r="0.6"/><circle cx="391.8" cy="178.3" r="0.6"/><circle cx="395.4" cy="185.0" r="0.6"/><circle cx="391.2" cy="186.0" r="0.6"/><circle cx="400.6" cy="181.1" r="0.6"/><circle cx="396.4" cy="180.7" r="0.6"/></g>
<g fill="#e8141c" fill-opacity="0.5" filter="url(#bl)"><circle cx="402.1" cy="208.2" r="0.6"/><circle cx="410.1" cy="209.0" r="0.6"/><circle cx="402.7" cy="212.3" r="0.6"/><circle cx="397.2" cy="211.0" r="0.6"/><circle cx="398.1" cy="201.7" r="0.6"/><circle cx="404.6" cy="205.8" r="0.6"/><circle cx="404.7" cy="196.6" r="0.6"/><circle cx="401.2" cy="201.9" r="0.6"/><circle cx="398.5" cy="194.7" r="0.6"/><circle cx="404.0" cy="205.7" r="0.6"/><circle cx="396.1" cy="197.9" r="0.6"/><circle cx="397.8" cy="212.7" r="0.6"/><circle cx="399.9" cy="203.1" r="0.6"/><circle cx="402.3" cy="204.8" r="0.6"/><circle cx="401.6" cy="208.8" r="0.6"/><circle cx="402.1" cy="209.5" r="0.6"/><circle cx="396.0" cy="205.6" r="0.6"/><circle cx="399.2" cy="205.6" r="0.6"/><circle cx="400.0" cy="201.5" r="0.6"/><circle cx="399.6" cy="210.1" r="0.6"/><circle cx="397.8" cy="198.4" r="0.6"/><circle cx="403.1" cy="210.0" r="0.6"/><circle cx="399.5" cy="205.7" r="0.6"/><circle cx="397.3" cy="204.1" r="0.6"/><circle cx="405.0" cy="208.9" r="0.6"/><circle cx="400.9" cy="203.4" r="0.6"/><circle cx="394.6" cy="207.2" r="0.6"/><circle cx="402.7" cy="210.5" r="0.6"/><circle cx="408.1" cy="206.4" r="0.6"/><circle cx="403.5" cy="198.7" r="0.6"/><circle cx="405.4" cy="209.3" r="0.6"/><circle cx="405.9" cy="208.2" r="0.6"/><circle cx="402.9" cy="212.8" r="0.6"/><circle cx="398.3" cy="208.7" r="0.6"/><circle cx="404.1" cy="200.5" r="0.6"/><circle cx="396.4" cy="207.7" r="0.6"/><circle cx="401.3" cy="208.2" r="0.6"/><circle cx="402.5" cy="200.7" r="0.6"/><circle cx="402.3" cy="211.0" r="0.6"/><circle cx="399.1" cy="203.6" r="0.6"/><circle cx="396.8" cy="209.8" r="0.6"/><circle cx="407.1" cy="197.1" r="0.6"/><circle cx="403.8" cy="209.6" r="0.6"/><circle cx="398.3" cy="203.3" r="0.6"/><circle cx="396.3" cy="201.2" r="0.6"/><circle cx="401.5" cy="208.5" r="0.6"/><circle cx="401.4" cy="209.6" r="0.6"/><circle cx="400.8" cy="198.8" r="0.6"/><circle cx="406.5" cy="210.9" r="0.6"/><circle cx="402.4" cy="205.6" r="0.6"/><circle cx="395.0" cy="209.4" r="0.6"/><circle cx="399.2" cy="200.1" r="0.6"/><circle cx="406.4" cy="207.2" r="0.6"/><circle cx="395.6" cy="202.0" r="0.6"/><circle cx="393.3" cy="207.1" r="0.6"/><circle cx="398.4" cy="195.9" r="0.6"/><circle cx="399.2" cy="196.6" r="0.6"/><circle cx="399.4" cy="214.0" r="0.6"/><circle cx="402.9" cy="209.2" r="0.6"/><circle cx="403.0" cy="206.8" r="0.6"/><circle cx="403.7" cy="198.6" r="0.6"/><circle cx="399.7" cy="209.8" r="0.6"/><circle cx="397.7" cy="203.1" r="0.6"/><circle cx="405.8" cy="213.0" r="0.6"/><circle cx="398.0" cy="201.0" r="0.6"/><circle cx="402.9" cy="206.4" r="0.6"/><circle cx="398.4" cy="208.6" r="0.6"/><circle cx="402.7" cy="205.4" r="0.6"/><circle cx="412.2" cy="211.5" r="0.6"/><circle cx="404.2" cy="210.4" r="0.6"/><circle cx="412.1" cy="210.1" r="0.6"/><circle cx="398.2" cy="207.2" r="0.6"/><circle cx="400.7" cy="202.1" r="0.6"/><circle cx="401.8" cy="206.5" r="0.6"/><circle cx="400.2" cy="202.6" r="0.6"/><circle cx="403.0" cy="196.4" r="0.6"/><circle cx="403.7" cy="205.0" r="0.6"/><circle cx="406.1" cy="195.4" r="0.6"/><circle cx="397.8" cy="208.9" r="0.6"/><circle cx="398.2" cy="203.2" r="0.6"/><circle cx="392.2" cy="203.6" r="0.6"/><circle cx="401.8" cy="208.8" r="0.6"/><circle cx="399.7" cy="206.5" r="0.6"/><circle cx="402.0" cy="201.5" r="0.6"/><circle cx="398.1" cy="212.1" r="0.6"/><circle cx="401.6" cy="213.1" r="0.6"/><circle cx="398.6" cy="208.2" r="0.6"/><circle cx="401.8" cy="203.9" r="0.6"/><circle cx="401.5" cy="201.0" r="0.6"/><circle cx="400.2" cy="203.1" r="0.6"/><circle cx="403.5" cy="204.5" r="0.6"/><circle cx="395.4" cy="203.7" r="0.6"/><circle cx="399.9" cy="200.4" r="0.6"/><circle cx="405.8" cy="207.0" r="0.6"/><circle cx="403.5" cy="200.9" r="0.6"/><circle cx="399.7" cy="210.8" r="0.6"/><circle cx="395.6" cy="207.7" r="0.6"/><circle cx="400.8" cy="202.5" r="0.6"/><circle cx="400.5" cy="199.4" r="0.6"/><circle cx="401.0" cy="198.6" r="0.6"/><circle cx="396.6" cy="213.2" r="0.6"/><circle cx="397.1" cy="194.1" r="0.6"/><circle cx="403.9" cy="200.8" r="0.6"/><circle cx="387.6" cy="206.1" r="0.6"/><circle cx="404.3" cy="206.8" r="0.6"/><circle cx="407.0" cy="204.0" r="0.6"/><circle cx="402.4" cy="199.6" r="0.6"/><circle cx="402.0" cy="213.4" r="0.6"/><circle cx="402.6" cy="205.9" r="0.6"/><circle cx="393.2" cy="203.9" r="0.6"/><circle cx="396.3" cy="209.8" r="0.6"/><circle cx="398.1" cy="207.4" r="0.6"/><circle cx="396.4" cy="206.4" r="0.6"/><circle cx="410.6" cy="205.5" r="0.6"/><circle cx="397.7" cy="208.8" r="0.6"/><circle cx="404.8" cy="209.6" r="0.6"/><circle cx="393.5" cy="207.1" r="0.6"/><circle cx="400.8" cy="202.7" r="0.6"/><circle cx="403.4" cy="207.7" r="0.6"/><circle cx="399.0" cy="195.8" r="0.6"/><circle cx="406.7" cy="213.1" r="0.6"/><circle cx="405.7" cy="207.8" r="0.6"/><circle cx="397.8" cy="210.6" r="0.6"/><circle cx="408.0" cy="209.1" r="0.6"/><circle cx="406.3" cy="200.5" r="0.6"/><circle cx="405.0" cy="210.0" r="0.6"/><circle cx="394.4" cy="196.9" r="0.6"/><circle cx="398.1" cy="205.9" r="0.6"/><circle cx="402.3" cy="203.9" r="0.6"/><circle cx="400.4" cy="204.7" r="0.6"/><circle cx="401.3" cy="208.4" r="0.6"/><circle cx="402.6" cy="204.8" r="0.6"/><circle cx="401.5" cy="202.7" r="0.6"/><circle cx="403.5" cy="202.3" r="0.6"/><circle cx="406.9" cy="204.6" r="0.6"/><circle cx="401.4" cy="201.1" r="0.6"/><circle cx="399.5" cy="206.3" r="0.6"/><circle cx="400.5" cy="201.9" r="0.6"/><circle cx="396.4" cy="205.9" r="0.6"/><circle cx="401.6" cy="208.2" r="0.6"/><circle cx="405.3" cy="203.2" r="0.6"/><circle cx="393.2" cy="205.2" r="0.6"/><circle cx="393.2" cy="198.9" r="0.6"/><circle cx="404.9" cy="208.0" r="0.6"/><circle cx="398.0" cy="202.0" r="0.6"/><circle cx="399.6" cy="195.8" r="0.6"/><circle cx="402.4" cy="203.2" r="0.6"/><circle cx="407.2" cy="198.9" r="0.6"/><circle cx="404.2" cy="201.2" r="0.6"/><circle cx="404.1" cy="199.6" r="0.6"/><circle cx="403.3" cy="202.6" r="0.6"/><circle cx="397.6" cy="204.7" r="0.6"/><circle cx="402.7" cy="207.3" r="0.6"/><circle cx="407.1" cy="209.2" r="0.6"/><circle cx="390.6" cy="204.0" r="0.6"/><circle cx="393.0" cy="203.9" r="0.6"/><circle cx="402.5" cy="197.8" r="0.6"/><circle cx="396.4" cy="206.5" r="0.6"/><circle cx="400.4" cy="214.0" r="0.6"/><circle cx="402.2" cy="208.1" r="0.6"/><circle cx="407.1" cy="202.0" r="0.6"/><circle cx="400.3" cy="199.9" r="0.6"/><circle cx="402.2" cy="210.9" r="0.6"/><circle cx="405.9" cy="204.6" r="0.6"/><circle cx="397.7" cy="201.3" r="0.6"/><circle cx="395.5" cy="206.4" r="0.6"/><circle cx="393.2" cy="213.7" r="0.6"/><circle cx="394.8" cy="207.6" r="0.6"/><circle cx="396.4" cy="210.0" r="0.6"/><circle cx="403.8" cy="206.0" r="0.6"/><circle cx="403.9" cy="205.3" r="0.6"/><circle cx="404.6" cy="201.4" r="0.6"/><circle cx="397.6" cy="204.3" r="0.6"/><circle cx="399.9" cy="205.8" r="0.6"/><circle cx="398.8" cy="209.1" r="0.6"/><circle cx="401.1" cy="207.3" r="0.6"/><circle cx="401.1" cy="208.7" r="0.6"/><circle cx="402.3" cy="207.7" r="0.6"/><circle cx="403.6" cy="211.1" r="0.6"/><circle cx="403.7" cy="206.4" r="0.6"/><circle cx="399.3" cy="196.4" r="0.6"/><circle cx="401.5" cy="203.6" r="0.6"/><circle cx="393.8" cy="206.3" r="0.6"/><circle cx="405.9" cy="210.2" r="0.6"/><circle cx="404.9" cy="198.0" r="0.6"/><circle cx="397.5" cy="209.1" r="0.6"/><circle cx="401.8" cy="206.4" r="0.6"/><circle cx="402.4" cy="203.8" r="0.6"/><circle cx="401.0" cy="201.7" r="0.6"/><circle cx="400.5" cy="202.8" r="0.6"/><circle cx="401.1" cy="197.6" r="0.6"/><circle cx="395.4" cy="208.4" r="0.6"/><circle cx="401.2" cy="200.1" r="0.6"/><circle cx="399.5" cy="199.8" r="0.6"/><circle cx="407.8" cy="196.2" r="0.6"/><circle cx="407.0" cy="200.4" r="0.6"/><circle cx="402.3" cy="203.9" r="0.6"/><circle cx="399.9" cy="210.7" r="0.6"/><circle cx="403.8" cy="203.6" r="0.6"/><circle cx="406.3" cy="205.8" r="0.6"/><circle cx="399.9" cy="207.2" r="0.6"/><circle cx="401.8" cy="212.0" r="0.6"/><circle cx="397.2" cy="205.9" r="0.6"/><circle cx="398.5" cy="212.9" r="0.6"/><circle cx="407.7" cy="204.4" r="0.6"/><circle cx="403.6" cy="213.0" r="0.6"/><circle cx="399.3" cy="200.4" r="0.6"/><circle cx="405.1" cy="207.9" r="0.6"/><circle cx="400.8" cy="213.5" r="0.6"/><circle cx="400.9" cy="195.6" r="0.6"/><circle cx="402.2" cy="205.0" r="0.6"/><circle cx="408.0" cy="204.8" r="0.6"/><circle cx="400.3" cy="207.9" r="0.6"/><circle cx="401.1" cy="197.7" r="0.6"/><circle cx="401.2" cy="203.6" r="0.6"/><circle cx="396.2" cy="200.6" r="0.6"/><circle cx="397.4" cy="202.2" r="0.6"/><circle cx="398.3" cy="206.0" r="0.6"/><circle cx="404.4" cy="198.0" r="0.6"/><circle cx="394.2" cy="195.9" r="0.6"/><circle cx="405.7" cy="212.4" r="0.6"/><circle cx="394.3" cy="197.0" r="0.6"/><circle cx="401.9" cy="211.4" r="0.6"/><circle cx="404.8" cy="206.2" r="0.6"/><circle cx="403.6" cy="207.0" r="0.6"/><circle cx="400.4" cy="199.4" r="0.6"/><circle cx="398.4" cy="197.2" r="0.6"/><circle cx="401.5" cy="211.5" r="0.6"/><circle cx="396.7" cy="212.1" r="0.6"/><circle cx="409.0" cy="206.9" r="0.6"/><circle cx="396.1" cy="201.2" r="0.6"/><circle cx="399.0" cy="198.6" r="0.6"/><circle cx="396.0" cy="204.5" r="0.6"/><circle cx="400.5" cy="208.9" r="0.6"/><circle cx="405.4" cy="210.0" r="0.6"/><circle cx="404.5" cy="200.2" r="0.6"/><circle cx="404.6" cy="204.3" r="0.6"/><circle cx="401.8" cy="206.5" r="0.6"/><circle cx="397.9" cy="204.6" r="0.6"/><circle cx="398.2" cy="203.4" r="0.6"/><circle cx="402.2" cy="200.1" r="0.6"/><circle cx="403.7" cy="205.9" r="0.6"/><circle cx="404.2" cy="210.1" r="0.6"/><circle cx="405.9" cy="208.5" r="0.6"/><circle cx="403.5" cy="204.3" r="0.6"/><circle cx="402.6" cy="200.4" r="0.6"/><circle cx="400.3" cy="209.7" r="0.6"/><circle cx="400.9" cy="208.0" r="0.6"/><circle cx="397.6" cy="213.3" r="0.6"/><circle cx="398.9" cy="207.9" r="0.6"/><circle cx="401.3" cy="210.6" r="0.6"/><circle cx="399.0" cy="200.1" r="0.6"/><circle cx="393.6" cy="204.4" r="0.6"/><circle cx="396.6" cy="208.8" r="0.6"/><circle cx="396.2" cy="207.6" r="0.6"/><circle cx="405.7" cy="206.8" r="0.6"/><circle cx="402.4" cy="208.2" r="0.6"/><circle cx="402.6" cy="198.5" r="0.6"/><circle cx="399.2" cy="206.8" r="0.6"/><circle cx="397.7" cy="204.3" r="0.6"/><circle cx="398.6" cy="201.8" r="0.6"/><circle cx="403.4" cy="203.1" r="0.6"/><circle cx="396.4" cy="201.9" r="0.6"/><circle cx="402.6" cy="213.6" r="0.6"/><circle cx="401.9" cy="200.7" r="0.6"/><circle cx="395.2" cy="200.0" r="0.6"/><circle cx="406.9" cy="196.2" r="0.6"/><circle cx="399.1" cy="212.1" r="0.6"/><circle cx="402.6" cy="195.8" r="0.6"/><circle cx="400.2" cy="202.7" r="0.6"/><circle cx="400.5" cy="209.7" r="0.6"/><circle cx="398.5" cy="203.9" r="0.6"/><circle cx="405.6" cy="194.8" r="0.6"/><circle cx="399.7" cy="208.2" r="0.6"/><circle cx="395.8" cy="202.4" r="0.6"/><circle cx="396.0" cy="206.8" r="0.6"/><circle cx="398.9" cy="210.0" r="0.6"/><circle cx="404.8" cy="205.4" r="0.6"/><circle cx="399.6" cy="207.0" r="0.6"/><circle cx="400.5" cy="198.7" r="0.6"/><circle cx="405.1" cy="206.4" r="0.6"/><circle cx="403.2" cy="197.7" r="0.6"/><circle cx="402.5" cy="197.3" r="0.6"/><circle cx="401.0" cy="205.1" r="0.6"/><circle cx="401.6" cy="204.1" r="0.6"/><circle cx="402.5" cy="202.7" r="0.6"/><circle cx="401.4" cy="201.6" r="0.6"/><circle cx="401.7" cy="210.9" r="0.6"/><circle cx="399.3" cy="209.3" r="0.6"/><circle cx="397.3" cy="203.7" r="0.6"/><circle cx="400.6" cy="212.4" r="0.6"/><circle cx="398.5" cy="212.4" r="0.6"/><circle cx="395.2" cy="205.1" r="0.6"/><circle cx="404.7" cy="209.0" r="0.6"/><circle cx="396.4" cy="199.0" r="0.6"/><circle cx="403.6" cy="198.2" r="0.6"/><circle cx="402.8" cy="202.4" r="0.6"/><circle cx="407.2" cy="209.6" r="0.6"/><circle cx="395.8" cy="207.7" r="0.6"/><circle cx="401.0" cy="204.9" r="0.6"/><circle cx="405.1" cy="195.5" r="0.6"/><circle cx="402.1" cy="206.0" r="0.6"/><circle cx="396.0" cy="206.0" r="0.6"/><circle cx="394.9" cy="200.5" r="0.6"/><circle cx="404.3" cy="210.4" r="0.6"/><circle cx="403.2" cy="206.6" r="0.6"/><circle cx="392.5" cy="207.4" r="0.6"/><circle cx="399.4" cy="212.1" r="0.6"/><circle cx="404.0" cy="209.7" r="0.6"/><circle cx="396.9" cy="206.2" r="0.6"/><circle cx="396.5" cy="210.8" r="0.6"/><circle cx="396.2" cy="204.6" r="0.6"/><circle cx="397.5" cy="203.1" r="0.6"/><circle cx="402.3" cy="202.1" r="0.6"/><circle cx="401.2" cy="199.8" r="0.6"/><circle cx="405.9" cy="201.4" r="0.6"/><circle cx="391.0" cy="200.7" r="0.6"/><circle cx="400.6" cy="212.0" r="0.6"/><circle cx="399.1" cy="207.7" r="0.6"/><circle cx="398.3" cy="208.8" r="0.6"/><circle cx="396.6" cy="210.4" r="0.6"/><circle cx="388.4" cy="195.9" r="0.6"/><circle cx="407.9" cy="205.7" r="0.6"/><circle cx="405.4" cy="211.3" r="0.6"/><circle cx="399.5" cy="209.0" r="0.6"/><circle cx="402.0" cy="196.0" r="0.6"/><circle cx="403.0" cy="204.1" r="0.6"/><circle cx="406.4" cy="212.2" r="0.6"/><circle cx="398.0" cy="202.2" r="0.6"/><circle cx="401.9" cy="209.0" r="0.6"/><circle cx="399.2" cy="204.9" r="0.6"/><circle cx="403.4" cy="207.5" r="0.6"/><circle cx="405.4" cy="206.3" r="0.6"/><circle cx="396.5" cy="195.8" r="0.6"/><circle cx="403.8" cy="203.2" r="0.6"/><circle cx="399.3" cy="203.9" r="0.6"/><circle cx="394.5" cy="203.7" r="0.6"/><circle cx="390.5" cy="204.0" r="0.6"/><circle cx="402.4" cy="204.0" r="0.6"/><circle cx="401.8" cy="209.4" r="0.6"/><circle cx="397.7" cy="204.3" r="0.6"/><circle cx="400.1" cy="194.3" r="0.6"/><circle cx="401.0" cy="211.0" r="0.6"/><circle cx="398.5" cy="204.0" r="0.6"/><circle cx="395.5" cy="199.8" r="0.6"/><circle cx="393.0" cy="212.5" r="0.6"/><circle cx="396.5" cy="207.8" r="0.6"/><circle cx="401.7" cy="201.6" r="0.6"/><circle cx="400.9" cy="204.8" r="0.6"/><circle cx="398.9" cy="205.8" r="0.6"/><circle cx="400.5" cy="199.6" r="0.6"/><circle cx="395.3" cy="201.0" r="0.6"/><circle cx="401.9" cy="213.1" r="0.6"/><circle cx="406.6" cy="206.6" r="0.6"/><circle cx="404.5" cy="205.7" r="0.6"/><circle cx="405.1" cy="205.7" r="0.6"/><circle cx="402.1" cy="203.6" r="0.6"/><circle cx="396.1" cy="205.7" r="0.6"/><circle cx="398.9" cy="210.9" r="0.6"/><circle cx="407.7" cy="202.9" r="0.6"/><circle cx="390.2" cy="209.7" r="0.6"/><circle cx="402.3" cy="195.6" r="0.6"/><circle cx="399.8" cy="205.0" r="0.6"/><circle cx="392.0" cy="209.9" r="0.6"/><circle cx="402.6" cy="206.5" r="0.6"/><circle cx="396.2" cy="201.6" r="0.6"/><circle cx="398.5" cy="208.2" r="0.6"/><circle cx="397.6" cy="213.9" r="0.6"/><circle cx="407.4" cy="205.6" r="0.6"/><circle cx="398.6" cy="206.0" r="0.6"/><circle cx="393.7" cy="207.0" r="0.6"/><circle cx="390.6" cy="200.3" r="0.6"/><circle cx="406.7" cy="212.0" r="0.6"/><circle cx="398.9" cy="199.9" r="0.6"/><circle cx="404.4" cy="204.6" r="0.6"/><circle cx="401.9" cy="208.7" r="0.6"/><circle cx="396.9" cy="210.1" r="0.6"/><circle cx="394.2" cy="202.2" r="0.6"/><circle cx="398.4" cy="209.6" r="0.6"/><circle cx="403.8" cy="207.0" r="0.6"/><circle cx="403.1" cy="207.7" r="0.6"/><circle cx="399.4" cy="194.3" r="0.6"/><circle cx="400.4" cy="203.9" r="0.6"/><circle cx="400.2" cy="206.5" r="0.6"/><circle cx="399.2" cy="199.6" r="0.6"/><circle cx="393.8" cy="194.9" r="0.6"/><circle cx="405.9" cy="210.0" r="0.6"/><circle cx="395.2" cy="204.1" r="0.6"/><circle cx="403.2" cy="214.2" r="0.6"/><circle cx="398.4" cy="206.4" r="0.6"/><circle cx="404.4" cy="194.8" r="0.6"/><circle cx="397.7" cy="205.2" r="0.6"/><circle cx="404.2" cy="206.0" r="0.6"/><circle cx="397.3" cy="210.5" r="0.6"/><circle cx="402.9" cy="202.0" r="0.6"/><circle cx="398.2" cy="196.9" r="0.6"/><circle cx="400.8" cy="210.1" r="0.6"/><circle cx="404.9" cy="208.1" r="0.6"/><circle cx="403.6" cy="201.5" r="0.6"/><circle cx="399.4" cy="212.2" r="0.6"/><circle cx="402.0" cy="200.4" r="0.6"/><circle cx="403.0" cy="209.7" r="0.6"/><circle cx="403.5" cy="205.5" r="0.6"/><circle cx="398.8" cy="207.6" r="0.6"/><circle cx="407.4" cy="205.4" r="0.6"/><circle cx="398.1" cy="207.3" r="0.6"/><circle cx="395.9" cy="206.9" r="0.6"/><circle cx="399.9" cy="210.7" r="0.6"/><circle cx="401.5" cy="211.1" r="0.6"/><circle cx="409.6" cy="203.1" r="0.6"/><circle cx="397.5" cy="208.0" r="0.6"/><circle cx="400.3" cy="206.0" r="0.6"/><circle cx="398.5" cy="208.5" r="0.6"/><circle cx="399.8" cy="207.1" r="0.6"/><circle cx="405.0" cy="201.4" r="0.6"/><circle cx="398.0" cy="212.0" r="0.6"/><circle cx="398.2" cy="205.9" r="0.6"/><circle cx="402.8" cy="209.2" r="0.6"/><circle cx="400.1" cy="198.8" r="0.6"/><circle cx="404.4" cy="202.3" r="0.6"/><circle cx="403.5" cy="198.8" r="0.6"/><circle cx="398.6" cy="203.9" r="0.6"/><circle cx="396.7" cy="194.4" r="0.6"/><circle cx="404.1" cy="209.3" r="0.6"/><circle cx="401.3" cy="202.7" r="0.6"/><circle cx="401.7" cy="208.7" r="0.6"/><circle cx="396.3" cy="203.6" r="0.6"/><circle cx="398.7" cy="209.3" r="0.6"/><circle cx="401.0" cy="197.6" r="0.6"/><circle cx="396.8" cy="206.3" r="0.6"/><circle cx="398.7" cy="212.4" r="0.6"/><circle cx="400.1" cy="202.6" r="0.6"/><circle cx="395.8" cy="204.1" r="0.6"/><circle cx="404.2" cy="208.6" r="0.6"/><circle cx="399.1" cy="199.2" r="0.6"/><circle cx="400.8" cy="201.5" r="0.6"/><circle cx="398.0" cy="201.7" r="0.6"/><circle cx="400.0" cy="202.3" r="0.6"/><circle cx="394.1" cy="208.6" r="0.6"/><circle cx="399.1" cy="212.0" r="0.6"/><circle cx="403.0" cy="208.4" r="0.6"/><circle cx="401.9" cy="212.3" r="0.6"/><circle cx="398.8" cy="199.5" r="0.6"/><circle cx="399.2" cy="206.4" r="0.6"/><circle cx="399.5" cy="212.3" r="0.6"/><circle cx="403.3" cy="205.5" r="0.6"/><circle cx="399.5" cy="211.4" r="0.6"/><circle cx="397.7" cy="202.9" r="0.6"/><circle cx="403.8" cy="208.2" r="0.6"/><circle cx="408.4" cy="203.1" r="0.6"/><circle cx="393.5" cy="209.4" r="0.6"/><circle cx="405.4" cy="203.7" r="0.6"/><circle cx="397.7" cy="202.5" r="0.6"/><circle cx="395.9" cy="208.5" r="0.6"/><circle cx="403.6" cy="208.2" r="0.6"/><circle cx="395.3" cy="201.1" r="0.6"/><circle cx="394.1" cy="196.4" r="0.6"/><circle cx="394.5" cy="196.5" r="0.6"/><circle cx="400.0" cy="207.5" r="0.6"/><circle cx="403.0" cy="204.7" r="0.6"/><circle cx="397.9" cy="205.2" r="0.6"/><circle cx="402.6" cy="203.1" r="0.6"/><circle cx="400.6" cy="203.3" r="0.6"/><circle cx="398.5" cy="205.4" r="0.6"/><circle cx="396.7" cy="211.3" r="0.6"/><circle cx="394.6" cy="208.1" r="0.6"/><circle cx="395.9" cy="214.0" r="0.6"/><circle cx="403.5" cy="200.1" r="0.6"/><circle cx="398.2" cy="198.8" r="0.6"/><circle cx="400.5" cy="207.3" r="0.6"/><circle cx="409.8" cy="196.4" r="0.6"/><circle cx="405.1" cy="201.3" r="0.6"/><circle cx="402.0" cy="209.9" r="0.6"/><circle cx="402.8" cy="207.2" r="0.6"/><circle cx="399.7" cy="205.0" r="0.6"/><circle cx="401.7" cy="211.7" r="0.6"/><circle cx="394.5" cy="202.7" r="0.6"/><circle cx="395.2" cy="200.0" r="0.6"/><circle cx="397.9" cy="211.5" r="0.6"/><circle cx="409.5" cy="211.9" r="0.6"/><circle cx="395.9" cy="205.8" r="0.6"/><circle cx="396.3" cy="207.9" r="0.6"/><circle cx="405.7" cy="207.9" r="0.6"/><circle cx="403.8" cy="203.9" r="0.6"/><circle cx="391.9" cy="194.5" r="0.6"/><circle cx="400.4" cy="208.3" r="0.6"/><circle cx="405.3" cy="202.6" r="0.6"/><circle cx="400.9" cy="206.4" r="0.6"/><circle cx="404.6" cy="204.2" r="0.6"/><circle cx="396.8" cy="211.5" r="0.6"/><circle cx="402.3" cy="207.0" r="0.6"/><circle cx="395.5" cy="205.4" r="0.6"/><circle cx="392.8" cy="194.3" r="0.6"/><circle cx="399.4" cy="202.6" r="0.6"/><circle cx="403.4" cy="212.9" r="0.6"/><circle cx="398.6" cy="209.5" r="0.6"/><circle cx="395.6" cy="206.1" r="0.6"/><circle cx="399.2" cy="203.9" r="0.6"/><circle cx="401.9" cy="194.2" r="0.6"/><circle cx="400.5" cy="200.4" r="0.6"/><circle cx="401.1" cy="207.2" r="0.6"/><circle cx="398.9" cy="203.0" r="0.6"/><circle cx="396.3" cy="208.5" r="0.6"/><circle cx="398.1" cy="207.7" r="0.6"/><circle cx="395.6" cy="213.2" r="0.6"/><circle cx="397.1" cy="211.9" r="0.6"/><circle cx="399.0" cy="208.2" r="0.6"/><circle cx="400.3" cy="208.9" r="0.6"/><circle cx="401.1" cy="212.1" r="0.6"/><circle cx="403.4" cy="208.6" r="0.6"/><circle cx="406.6" cy="200.5" r="0.6"/><circle cx="405.6" cy="205.0" r="0.6"/><circle cx="395.0" cy="208.2" r="0.6"/><circle cx="398.6" cy="205.4" r="0.6"/><circle cx="400.5" cy="194.2" r="0.6"/><circle cx="402.0" cy="199.2" r="0.6"/><circle cx="406.8" cy="213.9" r="0.6"/><circle cx="399.7" cy="196.1" r="0.6"/><circle cx="401.3" cy="205.9" r="0.6"/><circle cx="403.2" cy="203.1" r="0.6"/><circle cx="395.8" cy="204.6" r="0.6"/><circle cx="397.4" cy="201.6" r="0.6"/><circle cx="399.7" cy="198.0" r="0.6"/><circle cx="398.7" cy="204.4" r="0.6"/><circle cx="398.5" cy="203.8" r="0.6"/><circle cx="405.5" cy="207.0" r="0.6"/><circle cx="395.1" cy="203.0" r="0.6"/><circle cx="403.1" cy="201.1" r="0.6"/><circle cx="400.8" cy="204.8" r="0.6"/><circle cx="402.5" cy="203.8" r="0.6"/><circle cx="399.5" cy="200.2" r="0.6"/><circle cx="401.4" cy="199.7" r="0.6"/><circle cx="407.2" cy="204.3" r="0.6"/><circle cx="400.0" cy="209.5" r="0.6"/><circle cx="400.2" cy="205.5" r="0.6"/><circle cx="399.9" cy="200.9" r="0.6"/><circle cx="396.6" cy="201.4" r="0.6"/><circle cx="404.6" cy="201.1" r="0.6"/><circle cx="398.7" cy="202.6" r="0.6"/><circle cx="397.2" cy="208.4" r="0.6"/><circle cx="400.8" cy="203.3" r="0.6"/><circle cx="401.8" cy="197.7" r="0.6"/><circle cx="403.8" cy="206.0" r="0.6"/><circle cx="404.4" cy="211.2" r="0.6"/><circle cx="394.7" cy="204.0" r="0.6"/><circle cx="398.8" cy="208.7" r="0.6"/><circle cx="404.8" cy="193.9" r="0.6"/><circle cx="400.5" cy="204.3" r="0.6"/><circle cx="404.4" cy="204.4" r="0.6"/></g>
<g fill="#e8141c" fill-opacity="0.7" filter="url(#bl)"><circle cx="397.6" cy="205.3" r="0.6"/><circle cx="398.2" cy="203.2" r="0.6"/><circle cx="400.6" cy="204.3" r="0.6"/><circle cx="401.1" cy="200.6" r="0.6"/><circle cx="405.7" cy="210.5" r="0.6"/><circle cx="402.1" cy="201.4" r="0.6"/><circle cx="395.6" cy="202.9" r="0.6"/><circle cx="400.0" cy="214.0" r="0.6"/><circle cx="403.4" cy="204.1" r="0.6"/><circle cx="403.2" cy="210.4" r="0.6"/><circle cx="400.5" cy="210.4" r="0.6"/><circle cx="401.2" cy="203.7" r="0.6"/><circle cx="397.9" cy="205.6" r="0.6"/><circle cx="402.7" cy="201.1" r="0.6"/><circle cx="396.9" cy="208.0" r="0.6"/><circle cx="394.4" cy="212.5" r="0.6"/><circle cx="399.5" cy="208.6" r="0.6"/><circle cx="404.7" cy="200.8" r="0.6"/><circle cx="398.1" cy="214.0" r="0.6"/><circle cx="399.9" cy="205.5" r="0.6"/><circle cx="401.0" cy="209.8" r="0.6"/><circle cx="403.5" cy="206.4" r="0.6"/><circle cx="399.7" cy="205.9" r="0.6"/><circle cx="401.2" cy="210.7" r="0.6"/><circle cx="400.8" cy="212.5" r="0.6"/><circle cx="398.6" cy="207.9" r="0.6"/><circle cx="404.5" cy="210.6" r="0.6"/><circle cx="401.2" cy="202.8" r="0.6"/><circle cx="398.9" cy="205.4" r="0.6"/><circle cx="401.2" cy="205.1" r="0.6"/><circle cx="397.2" cy="203.4" r="0.6"/><circle cx="401.7" cy="209.0" r="0.6"/><circle cx="397.4" cy="204.7" r="0.6"/><circle cx="396.7" cy="204.0" r="0.6"/><circle cx="408.5" cy="206.2" r="0.6"/><circle cx="399.7" cy="203.9" r="0.6"/><circle cx="397.8" cy="199.3" r="0.6"/><circle cx="400.4" cy="205.0" r="0.6"/><circle cx="403.8" cy="200.1" r="0.6"/><circle cx="401.5" cy="210.8" r="0.6"/><circle cx="396.1" cy="208.4" r="0.6"/><circle cx="396.9" cy="207.9" r="0.6"/><circle cx="403.8" cy="206.0" r="0.6"/><circle cx="401.1" cy="203.5" r="0.6"/><circle cx="401.2" cy="210.1" r="0.6"/><circle cx="400.1" cy="205.5" r="0.6"/><circle cx="401.4" cy="208.9" r="0.6"/><circle cx="396.8" cy="206.2" r="0.6"/><circle cx="399.0" cy="207.8" r="0.6"/><circle cx="402.8" cy="207.1" r="0.6"/><circle cx="403.4" cy="202.5" r="0.6"/><circle cx="399.6" cy="202.5" r="0.6"/><circle cx="400.6" cy="206.3" r="0.6"/><circle cx="400.1" cy="201.7" r="0.6"/><circle cx="400.3" cy="204.4" r="0.6"/><circle cx="401.9" cy="205.0" r="0.6"/><circle cx="403.1" cy="206.8" r="0.6"/><circle cx="396.3" cy="205.4" r="0.6"/><circle cx="397.3" cy="209.5" r="0.6"/><circle cx="403.7" cy="205.9" r="0.6"/><circle cx="401.5" cy="200.8" r="0.6"/><circle cx="395.4" cy="204.0" r="0.6"/><circle cx="399.9" cy="200.6" r="0.6"/><circle cx="400.7" cy="207.1" r="0.6"/><circle cx="402.0" cy="211.6" r="0.6"/><circle cx="402.3" cy="204.7" r="0.6"/><circle cx="400.7" cy="208.2" r="0.6"/><circle cx="398.2" cy="210.8" r="0.6"/><circle cx="402.5" cy="205.2" r="0.6"/><circle cx="402.4" cy="209.4" r="0.6"/><circle cx="404.6" cy="209.5" r="0.6"/><circle cx="401.0" cy="208.5" r="0.6"/><circle cx="398.5" cy="208.6" r="0.6"/><circle cx="397.0" cy="207.5" r="0.6"/><circle cx="401.8" cy="200.4" r="0.6"/><circle cx="404.8" cy="201.9" r="0.6"/><circle cx="402.9" cy="204.1" r="0.6"/><circle cx="401.2" cy="203.7" r="0.6"/><circle cx="406.1" cy="209.7" r="0.6"/><circle cx="404.6" cy="208.8" r="0.6"/><circle cx="402.1" cy="206.6" r="0.6"/><circle cx="400.0" cy="208.2" r="0.6"/><circle cx="400.9" cy="205.5" r="0.6"/><circle cx="397.4" cy="205.0" r="0.6"/><circle cx="401.9" cy="204.4" r="0.6"/><circle cx="401.3" cy="205.6" r="0.6"/><circle cx="398.2" cy="202.8" r="0.6"/><circle cx="398.9" cy="205.0" r="0.6"/><circle cx="400.0" cy="210.1" r="0.6"/><circle cx="398.1" cy="198.7" r="0.6"/><circle cx="402.1" cy="204.4" r="0.6"/><circle cx="403.9" cy="208.2" r="0.6"/><circle cx="402.7" cy="206.5" r="0.6"/><circle cx="402.7" cy="203.9" r="0.6"/><circle cx="399.0" cy="204.4" r="0.6"/><circle cx="404.1" cy="211.7" r="0.6"/><circle cx="399.2" cy="210.3" r="0.6"/><circle cx="400.2" cy="210.0" r="0.6"/><circle cx="399.8" cy="209.5" r="0.6"/><circle cx="400.3" cy="205.1" r="0.6"/><circle cx="400.5" cy="206.7" r="0.6"/><circle cx="399.3" cy="201.2" r="0.6"/><circle cx="404.4" cy="204.7" r="0.6"/><circle cx="396.5" cy="198.0" r="0.6"/><circle cx="394.2" cy="203.9" r="0.6"/><circle cx="403.6" cy="200.3" r="0.6"/><circle cx="399.9" cy="199.5" r="0.6"/><circle cx="403.1" cy="207.4" r="0.6"/><circle cx="401.3" cy="211.0" r="0.6"/><circle cx="404.3" cy="209.8" r="0.6"/><circle cx="399.3" cy="201.4" r="0.6"/><circle cx="398.2" cy="199.8" r="0.6"/><circle cx="404.7" cy="205.5" r="0.6"/><circle cx="400.9" cy="206.8" r="0.6"/><circle cx="405.2" cy="204.1" r="0.6"/><circle cx="403.3" cy="207.2" r="0.6"/><circle cx="400.2" cy="199.2" r="0.6"/><circle cx="402.7" cy="203.5" r="0.6"/><circle cx="399.6" cy="207.0" r="0.6"/><circle cx="400.8" cy="210.2" r="0.6"/><circle cx="399.1" cy="206.7" r="0.6"/><circle cx="401.2" cy="206.2" r="0.6"/><circle cx="402.1" cy="205.2" r="0.6"/><circle cx="403.3" cy="203.6" r="0.6"/><circle cx="397.3" cy="206.0" r="0.6"/><circle cx="403.3" cy="204.3" r="0.6"/><circle cx="399.2" cy="204.9" r="0.6"/><circle cx="401.0" cy="205.5" r="0.6"/><circle cx="401.3" cy="200.0" r="0.6"/><circle cx="404.0" cy="208.2" r="0.6"/><circle cx="398.6" cy="211.1" r="0.6"/><circle cx="401.6" cy="211.5" r="0.6"/><circle cx="397.9" cy="212.1" r="0.6"/><circle cx="400.7" cy="198.7" r="0.6"/><circle cx="402.3" cy="205.1" r="0.6"/><circle cx="398.3" cy="205.4" r="0.6"/><circle cx="396.2" cy="208.3" r="0.6"/><circle cx="400.1" cy="205.2" r="0.6"/><circle cx="403.8" cy="206.3" r="0.6"/><circle cx="399.1" cy="202.7" r="0.6"/><circle cx="400.5" cy="210.0" r="0.6"/><circle cx="399.3" cy="202.4" r="0.6"/><circle cx="402.7" cy="206.4" r="0.6"/><circle cx="400.5" cy="213.7" r="0.6"/><circle cx="397.8" cy="206.9" r="0.6"/><circle cx="396.6" cy="205.1" r="0.6"/><circle cx="401.9" cy="210.2" r="0.6"/><circle cx="397.7" cy="209.2" r="0.6"/><circle cx="402.4" cy="205.7" r="0.6"/><circle cx="406.2" cy="206.2" r="0.6"/><circle cx="398.6" cy="207.7" r="0.6"/><circle cx="396.4" cy="211.8" r="0.6"/><circle cx="402.8" cy="204.7" r="0.6"/><circle cx="402.0" cy="208.1" r="0.6"/><circle cx="405.0" cy="203.9" r="0.6"/><circle cx="397.7" cy="198.8" r="0.6"/><circle cx="399.9" cy="200.5" r="0.6"/><circle cx="400.2" cy="207.6" r="0.6"/><circle cx="399.6" cy="202.7" r="0.6"/><circle cx="403.3" cy="205.4" r="0.6"/><circle cx="401.1" cy="209.6" r="0.6"/><circle cx="397.6" cy="202.8" r="0.6"/><circle cx="406.2" cy="205.6" r="0.6"/><circle cx="398.2" cy="205.2" r="0.6"/><circle cx="399.3" cy="201.7" r="0.6"/><circle cx="399.7" cy="206.1" r="0.6"/><circle cx="400.6" cy="208.1" r="0.6"/><circle cx="396.7" cy="200.8" r="0.6"/><circle cx="402.4" cy="204.5" r="0.6"/><circle cx="403.3" cy="207.2" r="0.6"/><circle cx="397.4" cy="208.1" r="0.6"/><circle cx="398.3" cy="207.1" r="0.6"/><circle cx="403.4" cy="213.8" r="0.6"/><circle cx="400.4" cy="208.7" r="0.6"/><circle cx="401.3" cy="209.0" r="0.6"/><circle cx="394.8" cy="204.7" r="0.6"/><circle cx="401.2" cy="207.8" r="0.6"/><circle cx="398.9" cy="209.1" r="0.6"/><circle cx="403.1" cy="206.4" r="0.6"/><circle cx="400.1" cy="204.9" r="0.6"/><circle cx="400.9" cy="210.4" r="0.6"/><circle cx="404.0" cy="204.5" r="0.6"/><circle cx="398.5" cy="203.3" r="0.6"/><circle cx="402.8" cy="206.9" r="0.6"/><circle cx="401.3" cy="207.9" r="0.6"/><circle cx="401.4" cy="205.7" r="0.6"/><circle cx="398.2" cy="203.9" r="0.6"/><circle cx="400.9" cy="207.6" r="0.6"/><circle cx="399.8" cy="204.7" r="0.6"/><circle cx="403.7" cy="204.5" r="0.6"/><circle cx="401.1" cy="205.0" r="0.6"/><circle cx="398.7" cy="200.7" r="0.6"/><circle cx="399.4" cy="203.2" r="0.6"/><circle cx="402.5" cy="202.0" r="0.6"/><circle cx="399.7" cy="208.5" r="0.6"/><circle cx="400.3" cy="207.9" r="0.6"/><circle cx="402.5" cy="200.2" r="0.6"/><circle cx="399.7" cy="202.7" r="0.6"/><circle cx="403.6" cy="205.7" r="0.6"/><circle cx="401.7" cy="212.2" r="0.6"/><circle cx="399.8" cy="206.4" r="0.6"/><circle cx="401.5" cy="205.2" r="0.6"/><circle cx="403.4" cy="209.1" r="0.6"/><circle cx="402.8" cy="206.3" r="0.6"/><circle cx="399.8" cy="204.9" r="0.6"/><circle cx="399.8" cy="200.3" r="0.6"/><circle cx="401.4" cy="209.0" r="0.6"/><circle cx="400.6" cy="204.4" r="0.6"/><circle cx="400.7" cy="206.9" r="0.6"/><circle cx="401.3" cy="212.6" r="0.6"/><circle cx="398.7" cy="207.4" r="0.6"/><circle cx="402.1" cy="206.4" r="0.6"/><circle cx="400.1" cy="202.5" r="0.6"/><circle cx="399.3" cy="208.7" r="0.6"/><circle cx="403.8" cy="203.8" r="0.6"/><circle cx="401.6" cy="208.0" r="0.6"/><circle cx="402.8" cy="207.0" r="0.6"/><circle cx="401.6" cy="209.3" r="0.6"/><circle cx="398.0" cy="206.3" r="0.6"/><circle cx="396.6" cy="199.1" r="0.6"/><circle cx="398.7" cy="200.7" r="0.6"/><circle cx="401.7" cy="209.7" r="0.6"/><circle cx="399.9" cy="205.6" r="0.6"/><circle cx="400.1" cy="205.2" r="0.6"/><circle cx="400.9" cy="207.4" r="0.6"/><circle cx="399.6" cy="203.3" r="0.6"/><circle cx="399.4" cy="209.0" r="0.6"/><circle cx="399.6" cy="211.3" r="0.6"/><circle cx="400.0" cy="211.0" r="0.6"/><circle cx="397.9" cy="203.7" r="0.6"/><circle cx="401.6" cy="207.9" r="0.6"/><circle cx="400.2" cy="213.3" r="0.6"/><circle cx="400.7" cy="207.1" r="0.6"/><circle cx="399.3" cy="212.0" r="0.6"/><circle cx="402.5" cy="207.6" r="0.6"/><circle cx="396.9" cy="207.4" r="0.6"/><circle cx="399.5" cy="207.5" r="0.6"/><circle cx="402.6" cy="203.5" r="0.6"/><circle cx="401.1" cy="209.2" r="0.6"/><circle cx="400.9" cy="205.0" r="0.6"/><circle cx="398.2" cy="203.8" r="0.6"/><circle cx="397.8" cy="209.6" r="0.6"/><circle cx="400.8" cy="201.8" r="0.6"/><circle cx="400.6" cy="201.6" r="0.6"/><circle cx="393.3" cy="210.4" r="0.6"/><circle cx="403.2" cy="200.9" r="0.6"/><circle cx="399.0" cy="206.8" r="0.6"/><circle cx="399.7" cy="203.1" r="0.6"/><circle cx="399.4" cy="205.3" r="0.6"/><circle cx="399.3" cy="206.8" r="0.6"/><circle cx="400.1" cy="203.4" r="0.6"/><circle cx="400.6" cy="200.3" r="0.6"/><circle cx="403.8" cy="200.0" r="0.6"/><circle cx="400.4" cy="207.3" r="0.6"/><circle cx="401.5" cy="207.0" r="0.6"/><circle cx="403.4" cy="202.2" r="0.6"/><circle cx="400.4" cy="206.6" r="0.6"/><circle cx="399.5" cy="204.0" r="0.6"/><circle cx="403.4" cy="203.6" r="0.6"/><circle cx="399.5" cy="205.1" r="0.6"/><circle cx="400.1" cy="206.7" r="0.6"/><circle cx="400.1" cy="207.4" r="0.6"/><circle cx="400.9" cy="207.8" r="0.6"/><circle cx="403.6" cy="203.1" r="0.6"/><circle cx="404.2" cy="204.5" r="0.6"/><circle cx="402.0" cy="206.7" r="0.6"/><circle cx="399.9" cy="199.2" r="0.6"/><circle cx="404.1" cy="203.4" r="0.6"/><circle cx="398.8" cy="209.8" r="0.6"/><circle cx="400.7" cy="212.7" r="0.6"/><circle cx="404.2" cy="208.6" r="0.6"/><circle cx="401.1" cy="208.7" r="0.6"/><circle cx="397.7" cy="206.7" r="0.6"/><circle cx="400.9" cy="204.4" r="0.6"/><circle cx="401.1" cy="201.0" r="0.6"/><circle cx="402.5" cy="210.6" r="0.6"/><circle cx="397.7" cy="206.6" r="0.6"/><circle cx="403.9" cy="207.5" r="0.6"/><circle cx="398.3" cy="202.6" r="0.6"/><circle cx="402.4" cy="212.5" r="0.6"/><circle cx="398.2" cy="206.2" r="0.6"/><circle cx="398.8" cy="205.1" r="0.6"/><circle cx="401.2" cy="205.9" r="0.6"/><circle cx="399.0" cy="213.4" r="0.6"/><circle cx="400.2" cy="205.4" r="0.6"/><circle cx="403.0" cy="206.1" r="0.6"/><circle cx="400.1" cy="209.4" r="0.6"/><circle cx="398.3" cy="208.7" r="0.6"/><circle cx="402.8" cy="208.4" r="0.6"/><circle cx="400.2" cy="206.0" r="0.6"/><circle cx="396.8" cy="205.6" r="0.6"/><circle cx="401.2" cy="209.1" r="0.6"/><circle cx="400.9" cy="204.7" r="0.6"/><circle cx="398.7" cy="205.9" r="0.6"/><circle cx="400.8" cy="210.3" r="0.6"/><circle cx="400.6" cy="204.3" r="0.6"/><circle cx="400.3" cy="204.4" r="0.6"/><circle cx="400.0" cy="198.4" r="0.6"/></g>
<g fill="#e8141c" fill-opacity="0.4" filter="url(#bl)"><circle cx="420.9" cy="193.9" r="0.6"/><circle cx="427.0" cy="197.8" r="0.6"/><circle cx="426.1" cy="202.1" r="0.6"/><circle cx="422.6" cy="202.0" r="0.6"/><circle cx="426.8" cy="195.6" r="0.6"/><circle cx="430.1" cy="193.1" r="0.6"/><circle cx="422.3" cy="197.3" r="0.6"/><circle cx="426.9" cy="197.4" r="0.6"/><circle cx="425.4" cy="206.9" r="0.6"/><circle cx="429.7" cy="198.5" r="0.6"/><circle cx="422.4" cy="199.2" r="0.6"/><circle cx="422.2" cy="198.8" r="0.6"/><circle cx="426.7" cy="196.7" r="0.6"/><circle cx="426.4" cy="196.9" r="0.6"/><circle cx="424.0" cy="203.4" r="0.6"/><circle cx="427.4" cy="197.0" r="0.6"/><circle cx="423.4" cy="198.7" r="0.6"/><circle cx="427.3" cy="201.0" r="0.6"/><circle cx="430.0" cy="199.7" r="0.6"/><circle cx="422.3" cy="205.1" r="0.6"/><circle cx="429.1" cy="200.9" r="0.6"/><circle cx="429.6" cy="192.9" r="0.6"/><circle cx="424.5" cy="196.3" r="0.6"/><circle cx="429.2" cy="194.0" r="0.6"/><circle cx="424.7" cy="203.3" r="0.6"/><circle cx="427.6" cy="196.7" r="0.6"/><circle cx="431.2" cy="193.5" r="0.6"/><circle cx="427.0" cy="197.3" r="0.6"/><circle cx="427.2" cy="197.1" r="0.6"/><circle cx="423.2" cy="198.8" r="0.6"/><circle cx="421.7" cy="199.9" r="0.6"/><circle cx="424.7" cy="201.2" r="0.6"/><circle cx="424.3" cy="195.7" r="0.6"/><circle cx="426.8" cy="202.3" r="0.6"/><circle cx="427.5" cy="193.1" r="0.6"/><circle cx="423.0" cy="200.3" r="0.6"/><circle cx="423.2" cy="195.8" r="0.6"/><circle cx="430.7" cy="194.8" r="0.6"/><circle cx="422.4" cy="193.8" r="0.6"/><circle cx="430.7" cy="202.2" r="0.6"/><circle cx="421.9" cy="204.8" r="0.6"/><circle cx="427.9" cy="197.4" r="0.6"/><circle cx="428.0" cy="199.3" r="0.6"/><circle cx="422.9" cy="198.0" r="0.6"/><circle cx="424.6" cy="195.5" r="0.6"/><circle cx="428.5" cy="194.4" r="0.6"/><circle cx="428.3" cy="196.4" r="0.6"/><circle cx="425.9" cy="194.2" r="0.6"/><circle cx="425.6" cy="195.3" r="0.6"/><circle cx="420.5" cy="198.0" r="0.6"/><circle cx="425.5" cy="200.9" r="0.6"/><circle cx="426.5" cy="194.5" r="0.6"/><circle cx="422.3" cy="202.5" r="0.6"/><circle cx="430.1" cy="200.7" r="0.6"/><circle cx="426.5" cy="200.1" r="0.6"/><circle cx="423.0" cy="202.1" r="0.6"/><circle cx="429.1" cy="198.9" r="0.6"/><circle cx="424.7" cy="196.7" r="0.6"/><circle cx="424.0" cy="194.8" r="0.6"/><circle cx="419.9" cy="198.5" r="0.6"/><circle cx="424.3" cy="197.3" r="0.6"/><circle cx="430.7" cy="200.1" r="0.6"/><circle cx="423.5" cy="200.0" r="0.6"/><circle cx="421.2" cy="201.7" r="0.6"/><circle cx="426.4" cy="197.3" r="0.6"/><circle cx="427.3" cy="203.1" r="0.6"/><circle cx="424.2" cy="194.6" r="0.6"/><circle cx="431.9" cy="198.1" r="0.6"/><circle cx="430.0" cy="195.7" r="0.6"/><circle cx="426.7" cy="195.8" r="0.6"/><circle cx="427.5" cy="197.1" r="0.6"/><circle cx="423.6" cy="203.4" r="0.6"/><circle cx="424.9" cy="194.8" r="0.6"/><circle cx="422.0" cy="196.0" r="0.6"/><circle cx="424.2" cy="198.1" r="0.6"/><circle cx="424.0" cy="201.1" r="0.6"/><circle cx="421.6" cy="200.2" r="0.6"/><circle cx="427.0" cy="196.5" r="0.6"/><circle cx="426.5" cy="195.4" r="0.6"/><circle cx="424.4" cy="194.5" r="0.6"/><circle cx="427.0" cy="202.8" r="0.6"/><circle cx="423.6" cy="202.2" r="0.6"/><circle cx="422.6" cy="204.0" r="0.6"/><circle cx="423.8" cy="200.7" r="0.6"/><circle cx="427.3" cy="197.9" r="0.6"/><circle cx="428.0" cy="202.6" r="0.6"/><circle cx="425.0" cy="201.2" r="0.6"/><circle cx="423.2" cy="200.0" r="0.6"/><circle cx="424.2" cy="198.3" r="0.6"/><circle cx="427.9" cy="195.5" r="0.6"/><circle cx="434.2" cy="198.5" r="0.6"/><circle cx="426.6" cy="195.4" r="0.6"/><circle cx="425.8" cy="197.1" r="0.6"/><circle cx="426.5" cy="197.7" r="0.6"/><circle cx="424.7" cy="197.8" r="0.6"/><circle cx="427.4" cy="193.7" r="0.6"/><circle cx="427.4" cy="196.9" r="0.6"/><circle cx="424.1" cy="197.5" r="0.6"/><circle cx="428.6" cy="200.0" r="0.6"/><circle cx="428.3" cy="195.6" r="0.6"/><circle cx="424.7" cy="193.9" r="0.6"/><circle cx="423.9" cy="196.6" r="0.6"/><circle cx="424.2" cy="200.5" r="0.6"/><circle cx="426.9" cy="200.7" r="0.6"/><circle cx="426.0" cy="201.8" r="0.6"/><circle cx="425.9" cy="201.4" r="0.6"/><circle cx="427.1" cy="200.6" r="0.6"/><circle cx="425.4" cy="193.7" r="0.6"/><circle cx="421.3" cy="204.9" r="0.6"/><circle cx="426.8" cy="199.6" r="0.6"/><circle cx="425.1" cy="196.4" r="0.6"/><circle cx="434.2" cy="194.1" r="0.6"/><circle cx="425.4" cy="197.8" r="0.6"/><circle cx="422.2" cy="193.5" r="0.6"/><circle cx="423.5" cy="196.8" r="0.6"/><circle cx="424.1" cy="200.8" r="0.6"/><circle cx="422.1" cy="199.4" r="0.6"/><circle cx="430.0" cy="201.1" r="0.6"/><circle cx="428.1" cy="199.7" r="0.6"/><circle cx="423.8" cy="202.5" r="0.6"/><circle cx="424.4" cy="198.4" r="0.6"/><circle cx="422.5" cy="199.1" r="0.6"/><circle cx="424.3" cy="196.2" r="0.6"/><circle cx="428.8" cy="198.8" r="0.6"/><circle cx="421.1" cy="200.4" r="0.6"/><circle cx="428.1" cy="195.1" r="0.6"/><circle cx="424.4" cy="198.2" r="0.6"/><circle cx="424.9" cy="198.4" r="0.6"/><circle cx="427.5" cy="196.3" r="0.6"/><circle cx="431.8" cy="195.5" r="0.6"/><circle cx="424.0" cy="204.9" r="0.6"/><circle cx="432.8" cy="198.1" r="0.6"/><circle cx="425.0" cy="194.2" r="0.6"/><circle cx="429.0" cy="198.6" r="0.6"/><circle cx="423.1" cy="199.4" r="0.6"/><circle cx="429.7" cy="200.4" r="0.6"/><circle cx="432.2" cy="202.1" r="0.6"/><circle cx="426.9" cy="197.9" r="0.6"/><circle cx="427.3" cy="202.3" r="0.6"/><circle cx="428.2" cy="201.7" r="0.6"/><circle cx="426.3" cy="200.7" r="0.6"/><circle cx="429.2" cy="197.4" r="0.6"/><circle cx="421.7" cy="204.0" r="0.6"/><circle cx="427.3" cy="196.5" r="0.6"/><circle cx="426.3" cy="197.1" r="0.6"/></g>
<rect x="282.00" y="26.50" width="82.00" height="76.00" stroke="#333" stroke-width="1.1" fill="none"/>
<text x="279.60" y="102.50" font-size="5" font-weight="normal" text-anchor="middle" fill="#8a8a8a" transform="rotate(-70 279.6 102.5)">10<tspan font-size="3.4" dy="-1.7">0</tspan></text>
<text x="282.50" y="108.30" font-size="4.8" font-weight="normal" text-anchor="middle" fill="#8a8a8a" transform="rotate(-20 282.5 108.3)">10<tspan font-size="3.4" dy="-1.7">0</tspan></text>
<text x="279.60" y="83.50" font-size="5" font-weight="normal" text-anchor="middle" fill="#8a8a8a" transform="rotate(-70 279.6 83.5)">10<tspan font-size="3.4" dy="-1.7">1</tspan></text>
<text x="303.00" y="108.30" font-size="4.8" font-weight="normal" text-anchor="middle" fill="#8a8a8a" transform="rotate(-20 303.0 108.3)">10<tspan font-size="3.4" dy="-1.7">1</tspan></text>
<text x="279.60" y="64.50" font-size="5" font-weight="normal" text-anchor="middle" fill="#8a8a8a" transform="rotate(-70 279.6 64.5)">10<tspan font-size="3.4" dy="-1.7">2</tspan></text>
<text x="323.50" y="108.30" font-size="4.8" font-weight="normal" text-anchor="middle" fill="#8a8a8a" transform="rotate(-20 323.5 108.3)">10<tspan font-size="3.4" dy="-1.7">2</tspan></text>
<text x="279.60" y="45.50" font-size="5" font-weight="normal" text-anchor="middle" fill="#8a8a8a" transform="rotate(-70 279.6 45.5)">10<tspan font-size="3.4" dy="-1.7">3</tspan></text>
<text x="344.00" y="108.30" font-size="4.8" font-weight="normal" text-anchor="middle" fill="#8a8a8a" transform="rotate(-20 344.0 108.3)">10<tspan font-size="3.4" dy="-1.7">3</tspan></text>
<text x="279.60" y="26.50" font-size="5" font-weight="normal" text-anchor="middle" fill="#8a8a8a" transform="rotate(-70 279.6 26.5)">10<tspan font-size="3.4" dy="-1.7">4</tspan></text>
<text x="364.50" y="108.30" font-size="4.8" font-weight="normal" text-anchor="middle" fill="#8a8a8a" transform="rotate(-20 364.5 108.3)">10<tspan font-size="3.4" dy="-1.7">4</tspan></text>
<rect x="384.00" y="26.50" width="82.00" height="76.00" stroke="#333" stroke-width="1.1" fill="none"/>
<text x="381.60" y="102.50" font-size="5" font-weight="normal" text-anchor="middle" fill="#8a8a8a" transform="rotate(-70 381.6 102.5)">10<tspan font-size="3.4" dy="-1.7">0</tspan></text>
<text x="384.50" y="108.30" font-size="4.8" font-weight="normal" text-anchor="middle" fill="#8a8a8a" transform="rotate(-20 384.5 108.3)">10<tspan font-size="3.4" dy="-1.7">0</tspan></text>
<text x="381.60" y="83.50" font-size="5" font-weight="normal" text-anchor="middle" fill="#8a8a8a" transform="rotate(-70 381.6 83.5)">10<tspan font-size="3.4" dy="-1.7">1</tspan></text>
<text x="405.00" y="108.30" font-size="4.8" font-weight="normal" text-anchor="middle" fill="#8a8a8a" transform="rotate(-20 405.0 108.3)">10<tspan font-size="3.4" dy="-1.7">1</tspan></text>
<text x="381.60" y="64.50" font-size="5" font-weight="normal" text-anchor="middle" fill="#8a8a8a" transform="rotate(-70 381.6 64.5)">10<tspan font-size="3.4" dy="-1.7">2</tspan></text>
<text x="425.50" y="108.30" font-size="4.8" font-weight="normal" text-anchor="middle" fill="#8a8a8a" transform="rotate(-20 425.5 108.3)">10<tspan font-size="3.4" dy="-1.7">2</tspan></text>
<text x="381.60" y="45.50" font-size="5" font-weight="normal" text-anchor="middle" fill="#8a8a8a" transform="rotate(-70 381.6 45.5)">10<tspan font-size="3.4" dy="-1.7">3</tspan></text>
<text x="446.00" y="108.30" font-size="4.8" font-weight="normal" text-anchor="middle" fill="#8a8a8a" transform="rotate(-20 446.0 108.3)">10<tspan font-size="3.4" dy="-1.7">3</tspan></text>
<text x="381.60" y="26.50" font-size="5" font-weight="normal" text-anchor="middle" fill="#8a8a8a" transform="rotate(-70 381.6 26.5)">10<tspan font-size="3.4" dy="-1.7">4</tspan></text>
<text x="466.50" y="108.30" font-size="4.8" font-weight="normal" text-anchor="middle" fill="#8a8a8a" transform="rotate(-20 466.5 108.3)">10<tspan font-size="3.4" dy="-1.7">4</tspan></text>
<rect x="282.00" y="138.50" width="82.00" height="75.70" stroke="#333" stroke-width="1.1" fill="none"/>
<text x="279.60" y="214.20" font-size="5" font-weight="normal" text-anchor="middle" fill="#8a8a8a" transform="rotate(-70 279.6 214.2)">10<tspan font-size="3.4" dy="-1.7">0</tspan></text>
<text x="282.50" y="220.00" font-size="4.8" font-weight="normal" text-anchor="middle" fill="#8a8a8a" transform="rotate(-20 282.5 220.0)">10<tspan font-size="3.4" dy="-1.7">0</tspan></text>
<text x="279.60" y="195.27" font-size="5" font-weight="normal" text-anchor="middle" fill="#8a8a8a" transform="rotate(-70 279.6 195.27499999999998)">10<tspan font-size="3.4" dy="-1.7">1</tspan></text>
<text x="303.00" y="220.00" font-size="4.8" font-weight="normal" text-anchor="middle" fill="#8a8a8a" transform="rotate(-20 303.0 220.0)">10<tspan font-size="3.4" dy="-1.7">1</tspan></text>
<text x="279.60" y="176.35" font-size="5" font-weight="normal" text-anchor="middle" fill="#8a8a8a" transform="rotate(-70 279.6 176.35)">10<tspan font-size="3.4" dy="-1.7">2</tspan></text>
<text x="323.50" y="220.00" font-size="4.8" font-weight="normal" text-anchor="middle" fill="#8a8a8a" transform="rotate(-20 323.5 220.0)">10<tspan font-size="3.4" dy="-1.7">2</tspan></text>
<text x="279.60" y="157.43" font-size="5" font-weight="normal" text-anchor="middle" fill="#8a8a8a" transform="rotate(-70 279.6 157.425)">10<tspan font-size="3.4" dy="-1.7">3</tspan></text>
<text x="344.00" y="220.00" font-size="4.8" font-weight="normal" text-anchor="middle" fill="#8a8a8a" transform="rotate(-20 344.0 220.0)">10<tspan font-size="3.4" dy="-1.7">3</tspan></text>
<text x="279.60" y="138.50" font-size="5" font-weight="normal" text-anchor="middle" fill="#8a8a8a" transform="rotate(-70 279.6 138.5)">10<tspan font-size="3.4" dy="-1.7">4</tspan></text>
<text x="364.50" y="220.00" font-size="4.8" font-weight="normal" text-anchor="middle" fill="#8a8a8a" transform="rotate(-20 364.5 220.0)">10<tspan font-size="3.4" dy="-1.7">4</tspan></text>
<rect x="384.50" y="138.50" width="81.50" height="75.90" stroke="#333" stroke-width="1.1" fill="none"/>
<text x="382.10" y="214.40" font-size="5" font-weight="normal" text-anchor="middle" fill="#8a8a8a" transform="rotate(-70 382.1 214.4)">10<tspan font-size="3.4" dy="-1.7">0</tspan></text>
<text x="385.00" y="220.20" font-size="4.8" font-weight="normal" text-anchor="middle" fill="#8a8a8a" transform="rotate(-20 385.0 220.20000000000002)">10<tspan font-size="3.4" dy="-1.7">0</tspan></text>
<text x="382.10" y="195.43" font-size="5" font-weight="normal" text-anchor="middle" fill="#8a8a8a" transform="rotate(-70 382.1 195.425)">10<tspan font-size="3.4" dy="-1.7">1</tspan></text>
<text x="405.38" y="220.20" font-size="4.8" font-weight="normal" text-anchor="middle" fill="#8a8a8a" transform="rotate(-20 405.375 220.20000000000002)">10<tspan font-size="3.4" dy="-1.7">1</tspan></text>
<text x="382.10" y="176.45" font-size="5" font-weight="normal" text-anchor="middle" fill="#8a8a8a" transform="rotate(-70 382.1 176.45)">10<tspan font-size="3.4" dy="-1.7">2</tspan></text>
<text x="425.75" y="220.20" font-size="4.8" font-weight="normal" text-anchor="middle" fill="#8a8a8a" transform="rotate(-20 425.75 220.20000000000002)">10<tspan font-size="3.4" dy="-1.7">2</tspan></text>
<text x="382.10" y="157.47" font-size="5" font-weight="normal" text-anchor="middle" fill="#8a8a8a" transform="rotate(-70 382.1 157.475)">10<tspan font-size="3.4" dy="-1.7">3</tspan></text>
<text x="446.12" y="220.20" font-size="4.8" font-weight="normal" text-anchor="middle" fill="#8a8a8a" transform="rotate(-20 446.125 220.20000000000002)">10<tspan font-size="3.4" dy="-1.7">3</tspan></text>
<text x="382.10" y="138.50" font-size="5" font-weight="normal" text-anchor="middle" fill="#8a8a8a" transform="rotate(-70 382.1 138.5)">10<tspan font-size="3.4" dy="-1.7">4</tspan></text>
<text x="466.50" y="220.20" font-size="4.8" font-weight="normal" text-anchor="middle" fill="#8a8a8a" transform="rotate(-20 466.5 220.20000000000002)">10<tspan font-size="3.4" dy="-1.7">4</tspan></text>
<rect x="282.00" y="53.80" width="24.00" height="23.00" stroke="#2a2a2a" stroke-width="1.1" fill="none"/>
<rect x="316.30" y="77.00" width="24.20" height="25.50" stroke="#2a2a2a" stroke-width="1.1" fill="none"/>
<text x="284.30" y="50.00" font-size="7.6" font-weight="bold" text-anchor="start" fill="#111" stroke="#111" stroke-width="0.3">14.5 ± 0.7</text>
<text x="312.50" y="73.50" font-size="7.6" font-weight="bold" text-anchor="start" fill="#111" stroke="#111" stroke-width="0.3">27.0 ± 2.3</text>
<rect x="384.00" y="53.80" width="25.00" height="22.60" stroke="#2a2a2a" stroke-width="1.1" fill="none"/>
<rect x="419.30" y="77.00" width="24.00" height="25.50" stroke="#2a2a2a" stroke-width="1.1" fill="none"/>
<text x="387.50" y="50.00" font-size="7.6" font-weight="bold" text-anchor="start" fill="#111" stroke="#111" stroke-width="0.3">13.0 ± 0.6</text>
<text x="413.80" y="73.50" font-size="7.6" font-weight="bold" text-anchor="start" fill="#111" stroke="#111" stroke-width="0.3">34.6 ± 1.3</text>
<polygon points="449.00,64.56 449.76,66.11 451.47,66.36 450.24,67.56 450.53,69.26 449.00,68.46 447.47,69.26 447.76,67.56 446.53,66.36 448.24,66.11" fill="#111"/>
<rect x="282.00" y="171.30" width="23.00" height="22.20" stroke="#2a2a2a" stroke-width="1.1" fill="none"/>
<rect x="315.40" y="192.20" width="17.60" height="22.00" stroke="#2a2a2a" stroke-width="1.1" fill="none"/>
<text x="284.50" y="167.00" font-size="7.6" font-weight="bold" text-anchor="start" fill="#111" stroke="#111" stroke-width="0.3">37.9 ± 2.5</text>
<text x="312.30" y="190.30" font-size="7.6" font-weight="bold" text-anchor="start" fill="#111" stroke="#111" stroke-width="0.3">6.1 ± 0.7</text>
<rect x="384.50" y="171.50" width="23.80" height="21.90" stroke="#2a2a2a" stroke-width="1.1" fill="none"/>
<rect x="419.30" y="192.60" width="17.30" height="21.90" stroke="#2a2a2a" stroke-width="1.1" fill="none"/>
<text x="387.50" y="167.00" font-size="7.6" font-weight="bold" text-anchor="start" fill="#111" stroke="#111" stroke-width="0.3">20.2 ± 0.9</text>
<text x="411.30" y="190.80" font-size="7.6" font-weight="bold" text-anchor="start" fill="#111" stroke="#111" stroke-width="0.3">13.8 ± 1.1</text>
<polygon points="424.00,156.17 424.79,157.78 426.57,158.04 425.28,159.29 425.59,161.05 424.00,160.22 422.41,161.05 422.72,159.29 421.43,158.04 423.21,157.78" fill="#111"/>
<polygon points="428.90,156.17 429.69,157.78 431.47,158.04 430.18,159.29 430.49,161.05 428.90,160.22 427.31,161.05 427.62,159.29 426.33,158.04 428.11,157.78" fill="#111"/>
<polygon points="446.60,178.67 447.39,180.28 449.17,180.54 447.88,181.79 448.19,183.55 446.60,182.72 445.01,183.55 445.32,181.79 444.03,180.54 445.81,180.28" fill="#111"/>
<polygon points="451.40,178.67 452.19,180.28 453.97,180.54 452.68,181.79 452.99,183.55 451.40,182.72 449.81,183.55 450.12,181.79 448.83,180.54 450.61,180.28" fill="#111"/>
<line x1="264.80" y1="123.50" x2="264.80" y2="102.00" stroke="#222" stroke-width="1.1"/>
<line x1="264.30" y1="123.50" x2="287.00" y2="123.50" stroke="#222" stroke-width="1.1"/>
<path d="M263.4,102.6 L264.8,100.0 L266.2,102.6Z" fill="#222"/>
<path d="M286.4,122.1 L289.0,123.5 L286.4,124.9Z" fill="#222"/>
<text x="290.80" y="126.40" font-size="8.2" font-weight="bold" text-anchor="start" fill="#111" stroke="#111" stroke-width="0.3">CD4</text>
<text x="267.80" y="91.00" font-size="8.2" font-weight="bold" text-anchor="middle" fill="#111" stroke="#111" stroke-width="0.3" transform="rotate(-90 267.8 91)">CD8</text>
<line x1="264.80" y1="238.30" x2="264.80" y2="216.50" stroke="#222" stroke-width="1.1"/>
<line x1="264.30" y1="238.30" x2="287.00" y2="238.30" stroke="#222" stroke-width="1.1"/>
<path d="M263.4,217.1 L264.8,214.5 L266.2,217.1Z" fill="#222"/>
<path d="M286.4,236.9 L289.0,238.3 L286.4,239.7Z" fill="#222"/>
<text x="290.80" y="241.20" font-size="8.2" font-weight="bold" text-anchor="start" fill="#111" stroke="#111" stroke-width="0.3">Gr1</text>
<text x="267.80" y="203.00" font-size="8.2" font-weight="bold" text-anchor="middle" fill="#111" stroke="#111" stroke-width="0.3" transform="rotate(-90 267.8 203)">CD19</text>
<g transform="translate(4.0 244.6) scale(0.92 1)">
<text x="0.00" y="0.00" font-size="24.6" font-weight="bold" text-anchor="start" fill="#111" stroke="#111" stroke-width="0.3">C</text>
</g>
<rect x="38.70" y="247.50" width="134.30" height="110.50" stroke="#1c1c1c" stroke-width="1.4" fill="none"/>
<line x1="36.20" y1="358.00" x2="38.70" y2="358.00" stroke="#1c1c1c" stroke-width="1.2"/>
<text x="35.50" y="361.00" font-size="8.2" font-weight="bold" text-anchor="end" fill="#111" stroke="#111" stroke-width="0.3">0</text>
<line x1="37.20" y1="339.58" x2="38.70" y2="339.58" stroke="#1c1c1c" stroke-width="1"/>
<line x1="36.20" y1="321.17" x2="38.70" y2="321.17" stroke="#1c1c1c" stroke-width="1.2"/>
<text x="35.50" y="324.17" font-size="8.2" font-weight="bold" text-anchor="end" fill="#111" stroke="#111" stroke-width="0.3">1</text>
<line x1="37.20" y1="302.75" x2="38.70" y2="302.75" stroke="#1c1c1c" stroke-width="1"/>
<line x1="36.20" y1="284.33" x2="38.70" y2="284.33" stroke="#1c1c1c" stroke-width="1.2"/>
<text x="35.50" y="287.33" font-size="8.2" font-weight="bold" text-anchor="end" fill="#111" stroke="#111" stroke-width="0.3">2</text>
<line x1="37.20" y1="265.92" x2="38.70" y2="265.92" stroke="#1c1c1c" stroke-width="1"/>
<line x1="36.20" y1="247.50" x2="38.70" y2="247.50" stroke="#1c1c1c" stroke-width="1.2"/>
<text x="35.50" y="250.50" font-size="8.2" font-weight="bold" text-anchor="end" fill="#111" stroke="#111" stroke-width="0.3">3</text>
<text x="12.40" y="300.20" font-size="10.7" font-weight="bold" text-anchor="middle" fill="#111" stroke="#111" stroke-width="0.3" transform="rotate(-90 12.4 300.2)">Blood T-cell count</text>
<text x="26.60" y="300.40" font-size="10.8" font-weight="bold" text-anchor="middle" fill="#111" stroke="#111" stroke-width="0.3" transform="rotate(-90 26.6 300.4)">(x10<tspan font-size="7.0" dy="-3.8">3</tspan><tspan dy="3.8">/mm</tspan><tspan font-size="7.0" dy="-3.8">3</tspan><tspan dy="3.8">)</tspan></text>
<text x="54.00" y="370.40" font-size="9" font-weight="bold" text-anchor="middle" fill="#111" stroke="#111" stroke-width="0.3">WT</text>
<text x="90.40" y="370.40" font-size="9.3" font-weight="bold" text-anchor="middle" fill="#111" stroke="#111" stroke-width="0.3">+/1013</text>
<text x="122.90" y="370.40" font-size="9" font-weight="bold" text-anchor="middle" fill="#111" stroke="#111" stroke-width="0.3">WT</text>
<text x="155.20" y="370.40" font-size="9.3" font-weight="bold" text-anchor="middle" fill="#111" stroke="#111" stroke-width="0.3">+/1013</text>
<line x1="49.10" y1="374.40" x2="96.60" y2="374.40" stroke="#1c1c1c" stroke-width="1.6"/>
<line x1="118.00" y1="374.40" x2="164.20" y2="374.40" stroke="#1c1c1c" stroke-width="1.6"/>
<text x="73.50" y="387.80" font-size="10.2" font-weight="bold" text-anchor="middle" fill="#111" stroke="#111" stroke-width="0.3">CD4</text>
<text x="142.20" y="387.80" font-size="10.2" font-weight="bold" text-anchor="middle" fill="#111" stroke="#111" stroke-width="0.3">CD8</text>
<rect x="214.30" y="249.80" width="129.20" height="106.20" stroke="#1c1c1c" stroke-width="1.4" fill="none"/>
<line x1="211.80" y1="356.00" x2="214.30" y2="356.00" stroke="#1c1c1c" stroke-width="1.2"/>
<text x="211.10" y="359.00" font-size="8.2" font-weight="bold" text-anchor="end" fill="#111" stroke="#111" stroke-width="0.3">0</text>
<line x1="212.80" y1="347.15" x2="214.30" y2="347.15" stroke="#1c1c1c" stroke-width="1"/>
<line x1="211.80" y1="338.30" x2="214.30" y2="338.30" stroke="#1c1c1c" stroke-width="1.2"/>
<text x="211.10" y="341.30" font-size="8.2" font-weight="bold" text-anchor="end" fill="#111" stroke="#111" stroke-width="0.3">1</text>
<line x1="212.80" y1="329.45" x2="214.30" y2="329.45" stroke="#1c1c1c" stroke-width="1"/>
<line x1="211.80" y1="320.60" x2="214.30" y2="320.60" stroke="#1c1c1c" stroke-width="1.2"/>
<text x="211.10" y="323.60" font-size="8.2" font-weight="bold" text-anchor="end" fill="#111" stroke="#111" stroke-width="0.3">2</text>
<line x1="212.80" y1="311.75" x2="214.30" y2="311.75" stroke="#1c1c1c" stroke-width="1"/>
<line x1="211.80" y1="302.90" x2="214.30" y2="302.90" stroke="#1c1c1c" stroke-width="1.2"/>
<text x="211.10" y="305.90" font-size="8.2" font-weight="bold" text-anchor="end" fill="#111" stroke="#111" stroke-width="0.3">3</text>
<line x1="212.80" y1="294.05" x2="214.30" y2="294.05" stroke="#1c1c1c" stroke-width="1"/>
<line x1="211.80" y1="285.20" x2="214.30" y2="285.20" stroke="#1c1c1c" stroke-width="1.2"/>
<text x="211.10" y="288.20" font-size="8.2" font-weight="bold" text-anchor="end" fill="#111" stroke="#111" stroke-width="0.3">4</text>
<line x1="212.80" y1="276.35" x2="214.30" y2="276.35" stroke="#1c1c1c" stroke-width="1"/>
<line x1="211.80" y1="267.50" x2="214.30" y2="267.50" stroke="#1c1c1c" stroke-width="1.2"/>
<text x="211.10" y="270.50" font-size="8.2" font-weight="bold" text-anchor="end" fill="#111" stroke="#111" stroke-width="0.3">5</text>
<line x1="212.80" y1="258.65" x2="214.30" y2="258.65" stroke="#1c1c1c" stroke-width="1"/>
<line x1="211.80" y1="249.80" x2="214.30" y2="249.80" stroke="#1c1c1c" stroke-width="1.2"/>
<text x="211.10" y="252.80" font-size="8.2" font-weight="bold" text-anchor="end" fill="#111" stroke="#111" stroke-width="0.3">6</text>
<text x="188.30" y="301.70" font-size="10.2" font-weight="bold" text-anchor="middle" fill="#111" stroke="#111" stroke-width="0.3" transform="rotate(-90 188.3 301.7)">Blood B-cell count</text>
<text x="201.20" y="302.40" font-size="10.2" font-weight="bold" text-anchor="middle" fill="#111" stroke="#111" stroke-width="0.3" transform="rotate(-90 201.2 302.4)">(x10<tspan font-size="7.0" dy="-3.8">3</tspan><tspan dy="3.8">/mm</tspan><tspan font-size="7.0" dy="-3.8">3</tspan><tspan dy="3.8">)</tspan></text>
<text x="244.80" y="369.20" font-size="9.6" font-weight="bold" text-anchor="middle" fill="#111" stroke="#111" stroke-width="0.3">WT</text>
<text x="309.30" y="369.20" font-size="10.2" font-weight="bold" text-anchor="middle" fill="#111" stroke="#111" stroke-width="0.3">+/1013</text>
<rect x="387.80" y="250.00" width="128.70" height="107.00" stroke="#1c1c1c" stroke-width="1.4" fill="none"/>
<line x1="385.30" y1="357.00" x2="387.80" y2="357.00" stroke="#1c1c1c" stroke-width="1.2"/>
<text x="384.60" y="360.00" font-size="8.2" font-weight="bold" text-anchor="end" fill="#111" stroke="#111" stroke-width="0.3">0.0</text>
<line x1="386.30" y1="346.30" x2="387.80" y2="346.30" stroke="#1c1c1c" stroke-width="1"/>
<line x1="385.30" y1="335.60" x2="387.80" y2="335.60" stroke="#1c1c1c" stroke-width="1.2"/>
<text x="384.60" y="338.60" font-size="8.2" font-weight="bold" text-anchor="end" fill="#111" stroke="#111" stroke-width="0.3">0.2</text>
<line x1="386.30" y1="324.90" x2="387.80" y2="324.90" stroke="#1c1c1c" stroke-width="1"/>
<line x1="385.30" y1="314.20" x2="387.80" y2="314.20" stroke="#1c1c1c" stroke-width="1.2"/>
<text x="384.60" y="317.20" font-size="8.2" font-weight="bold" text-anchor="end" fill="#111" stroke="#111" stroke-width="0.3">0.4</text>
<line x1="386.30" y1="303.50" x2="387.80" y2="303.50" stroke="#1c1c1c" stroke-width="1"/>
<line x1="385.30" y1="292.80" x2="387.80" y2="292.80" stroke="#1c1c1c" stroke-width="1.2"/>
<text x="384.60" y="295.80" font-size="8.2" font-weight="bold" text-anchor="end" fill="#111" stroke="#111" stroke-width="0.3">0.6</text>
<line x1="386.30" y1="282.10" x2="387.80" y2="282.10" stroke="#1c1c1c" stroke-width="1"/>
<line x1="385.30" y1="271.40" x2="387.80" y2="271.40" stroke="#1c1c1c" stroke-width="1.2"/>
<text x="384.60" y="274.40" font-size="8.2" font-weight="bold" text-anchor="end" fill="#111" stroke="#111" stroke-width="0.3">0.8</text>
<line x1="386.30" y1="260.70" x2="387.80" y2="260.70" stroke="#1c1c1c" stroke-width="1"/>
<line x1="385.30" y1="250.00" x2="387.80" y2="250.00" stroke="#1c1c1c" stroke-width="1.2"/>
<text x="384.60" y="253.00" font-size="8.2" font-weight="bold" text-anchor="end" fill="#111" stroke="#111" stroke-width="0.3">1.0</text>
<text x="355.20" y="302.10" font-size="10.3" font-weight="bold" text-anchor="middle" fill="#111" stroke="#111" stroke-width="0.3" transform="rotate(-90 355.2 302.1)">Blood neutrophil count</text>
<text x="368.60" y="302.20" font-size="10.05" font-weight="bold" text-anchor="middle" fill="#111" stroke="#111" stroke-width="0.3" transform="rotate(-90 368.6 302.2)">(x10<tspan font-size="7.0" dy="-3.8">3</tspan><tspan dy="3.8">/mm</tspan><tspan font-size="7.0" dy="-3.8">3</tspan><tspan dy="3.8">)</tspan></text>
<text x="422.00" y="369.20" font-size="9.6" font-weight="bold" text-anchor="middle" fill="#111" stroke="#111" stroke-width="0.3">WT</text>
<text x="486.00" y="369.20" font-size="10.2" font-weight="bold" text-anchor="middle" fill="#111" stroke="#111" stroke-width="0.3">+/1013</text>
<circle cx="55.60" cy="260.60" r="2.3" fill="#fff" stroke="#111" stroke-width="1.15"/>
<circle cx="55.60" cy="285.50" r="2.3" fill="#fff" stroke="#111" stroke-width="1.15"/>
<circle cx="52.50" cy="301.20" r="2.3" fill="#fff" stroke="#111" stroke-width="1.15"/>
<circle cx="58.70" cy="305.50" r="2.3" fill="#fff" stroke="#111" stroke-width="1.15"/>
<circle cx="52.50" cy="314.00" r="2.3" fill="#fff" stroke="#111" stroke-width="1.15"/>
<circle cx="58.70" cy="312.50" r="2.3" fill="#fff" stroke="#111" stroke-width="1.15"/>
<circle cx="55.60" cy="323.00" r="2.3" fill="#fff" stroke="#111" stroke-width="1.15"/>
<circle cx="55.60" cy="330.50" r="2.3" fill="#fff" stroke="#111" stroke-width="1.15"/>
<circle cx="92.80" cy="330.80" r="2.6" fill="#111"/>
<circle cx="92.80" cy="334.80" r="2.6" fill="#111"/>
<circle cx="85.20" cy="333.70" r="2.6" fill="#111"/>
<circle cx="85.20" cy="337.10" r="2.6" fill="#111"/>
<circle cx="87.30" cy="340.00" r="2.6" fill="#111"/>
<circle cx="90.20" cy="341.70" r="2.6" fill="#111"/>
<circle cx="92.50" cy="344.60" r="2.6" fill="#111"/>
<circle cx="81.50" cy="346.70" r="2.6" fill="#111"/>
<circle cx="85.20" cy="345.80" r="2.6" fill="#111"/>
<circle cx="96.50" cy="348.40" r="2.6" fill="#111"/>
<circle cx="89.00" cy="353.30" r="2.6" fill="#111"/>
<circle cx="88.00" cy="337.50" r="2.6" fill="#111"/>
<circle cx="90.00" cy="345.50" r="2.6" fill="#111"/>
<circle cx="84.00" cy="347.50" r="2.6" fill="#111"/>
<circle cx="94.30" cy="341.00" r="2.6" fill="#111"/>
<polygon points="86.50,320.39 87.35,322.12 89.26,322.39 87.88,323.74 88.20,325.64 86.50,324.74 84.80,325.64 85.12,323.74 83.74,322.39 85.65,322.12" fill="#111"/>
<polygon points="92.60,320.19 93.45,321.92 95.36,322.19 93.98,323.54 94.30,325.44 92.60,324.54 90.90,325.44 91.22,323.54 89.84,322.19 91.75,321.92" fill="#111"/>
<circle cx="122.40" cy="292.50" r="2.3" fill="#fff" stroke="#111" stroke-width="1.15"/>
<circle cx="122.40" cy="302.70" r="2.3" fill="#fff" stroke="#111" stroke-width="1.15"/>
<circle cx="113.20" cy="330.30" r="2.3" fill="#fff" stroke="#111" stroke-width="1.15"/>
<circle cx="119.20" cy="333.60" r="2.3" fill="#fff" stroke="#111" stroke-width="1.15"/>
<circle cx="125.50" cy="334.30" r="2.3" fill="#fff" stroke="#111" stroke-width="1.15"/>
<circle cx="131.90" cy="332.70" r="2.3" fill="#fff" stroke="#111" stroke-width="1.15"/>
<circle cx="125.50" cy="338.40" r="2.3" fill="#fff" stroke="#111" stroke-width="1.15"/>
<circle cx="119.20" cy="344.50" r="2.3" fill="#fff" stroke="#111" stroke-width="1.15"/>
<circle cx="148.60" cy="348.00" r="2.6" fill="#111"/>
<circle cx="156.30" cy="348.30" r="2.6" fill="#111"/>
<circle cx="163.80" cy="347.00" r="2.6" fill="#111"/>
<circle cx="146.80" cy="353.00" r="2.6" fill="#111"/>
<circle cx="153.20" cy="355.10" r="2.6" fill="#111"/>
<circle cx="158.80" cy="355.10" r="2.6" fill="#111"/>
<circle cx="165.90" cy="352.60" r="2.6" fill="#111"/>
<circle cx="155.70" cy="352.30" r="2.6" fill="#111"/>
<circle cx="151.00" cy="352.50" r="2.6" fill="#111"/>
<circle cx="161.00" cy="352.50" r="2.6" fill="#111"/>
<circle cx="149.00" cy="355.50" r="2.6" fill="#111"/>
<circle cx="163.00" cy="355.50" r="2.6" fill="#111"/>
<circle cx="156.00" cy="355.80" r="2.6" fill="#111"/>
<polygon points="153.20,337.19 154.05,338.92 155.96,339.19 154.58,340.54 154.90,342.44 153.20,341.54 151.50,342.44 151.82,340.54 150.44,339.19 152.35,338.92" fill="#111"/>
<polygon points="158.80,337.19 159.65,338.92 161.56,339.19 160.18,340.54 160.50,342.44 158.80,341.54 157.10,342.44 157.42,340.54 156.04,339.19 157.95,338.92" fill="#111"/>
<circle cx="242.30" cy="272.40" r="2.45" fill="#fff" stroke="#111" stroke-width="1.15"/>
<circle cx="250.60" cy="271.60" r="2.45" fill="#fff" stroke="#111" stroke-width="1.15"/>
<circle cx="246.70" cy="312.20" r="2.45" fill="#fff" stroke="#111" stroke-width="1.15"/>
<circle cx="242.30" cy="324.50" r="2.45" fill="#fff" stroke="#111" stroke-width="1.15"/>
<circle cx="246.70" cy="322.50" r="2.45" fill="#fff" stroke="#111" stroke-width="1.15"/>
<circle cx="250.60" cy="331.60" r="2.45" fill="#fff" stroke="#111" stroke-width="1.15"/>
<circle cx="250.60" cy="334.00" r="2.45" fill="#fff" stroke="#111" stroke-width="1.15"/>
<circle cx="242.60" cy="340.40" r="2.45" fill="#fff" stroke="#111" stroke-width="1.15"/>
<circle cx="298.20" cy="350.60" r="2.7" fill="#111"/>
<circle cx="309.60" cy="345.50" r="2.7" fill="#111"/>
<circle cx="312.40" cy="348.00" r="2.7" fill="#111"/>
<circle cx="322.70" cy="350.60" r="2.7" fill="#111"/>
<circle cx="293.50" cy="352.80" r="2.7" fill="#111"/>
<circle cx="297.00" cy="353.00" r="2.7" fill="#111"/>
<circle cx="301.00" cy="353.00" r="2.7" fill="#111"/>
<circle cx="305.00" cy="353.20" r="2.7" fill="#111"/>
<circle cx="309.00" cy="353.50" r="2.7" fill="#111"/>
<circle cx="313.00" cy="353.20" r="2.7" fill="#111"/>
<circle cx="317.00" cy="353.00" r="2.7" fill="#111"/>
<circle cx="321.00" cy="353.00" r="2.7" fill="#111"/>
<circle cx="325.00" cy="352.80" r="2.7" fill="#111"/>
<circle cx="327.50" cy="352.50" r="2.7" fill="#111"/>
<polygon points="306.80,334.09 307.65,335.82 309.56,336.09 308.18,337.44 308.50,339.34 306.80,338.44 305.10,339.34 305.42,337.44 304.04,336.09 305.95,335.82" fill="#111"/>
<polygon points="312.60,334.09 313.45,335.82 315.36,336.09 313.98,337.44 314.30,339.34 312.60,338.44 310.90,339.34 311.22,337.44 309.84,336.09 311.75,335.82" fill="#111"/>
<circle cx="420.50" cy="285.50" r="2.6" fill="#fff" stroke="#111" stroke-width="1.15"/>
<circle cx="420.50" cy="303.20" r="2.6" fill="#fff" stroke="#111" stroke-width="1.15"/>
<circle cx="416.50" cy="313.00" r="2.6" fill="#fff" stroke="#111" stroke-width="1.15"/>
<circle cx="424.50" cy="314.90" r="2.6" fill="#fff" stroke="#111" stroke-width="1.15"/>
<circle cx="408.40" cy="331.70" r="2.6" fill="#fff" stroke="#111" stroke-width="1.15"/>
<circle cx="416.50" cy="333.80" r="2.6" fill="#fff" stroke="#111" stroke-width="1.15"/>
<circle cx="424.50" cy="332.00" r="2.6" fill="#fff" stroke="#111" stroke-width="1.15"/>
<circle cx="432.50" cy="331.60" r="2.6" fill="#fff" stroke="#111" stroke-width="1.15"/>
<circle cx="485.10" cy="319.80" r="2.8" fill="#111"/>
<circle cx="480.00" cy="323.30" r="2.8" fill="#111"/>
<circle cx="490.00" cy="323.30" r="2.8" fill="#111"/>
<circle cx="475.20" cy="329.70" r="2.8" fill="#111"/>
<circle cx="494.60" cy="329.70" r="2.8" fill="#111"/>
<circle cx="484.70" cy="332.80" r="2.8" fill="#111"/>
<circle cx="470.50" cy="341.00" r="2.8" fill="#111"/>
<circle cx="480.00" cy="341.70" r="2.8" fill="#111"/>
<circle cx="475.20" cy="345.00" r="2.8" fill="#111"/>
<circle cx="489.60" cy="343.20" r="2.8" fill="#111"/>
<circle cx="494.60" cy="345.60" r="2.8" fill="#111"/>
<circle cx="499.20" cy="341.70" r="2.8" fill="#111"/>
<circle cx="484.70" cy="353.10" r="2.8" fill="#111"/>
<polygon points="484.20,309.39 485.05,311.12 486.96,311.39 485.58,312.74 485.90,314.64 484.20,313.74 482.50,314.64 482.82,312.74 481.44,311.39 483.35,311.12" fill="#111"/>
<text x="124.10" y="424.70" font-size="24.6" font-weight="bold" text-anchor="start" fill="#111" stroke="#111" stroke-width="0.3">D</text>
<line x1="164.20" y1="451.42" x2="346.00" y2="451.42" stroke="#8c8c8c" stroke-width="1.6"/>
<line x1="162.20" y1="451.42" x2="164.20" y2="451.42" stroke="#1c1c1c" stroke-width="1"/>
<line x1="164.20" y1="444.34" x2="346.00" y2="444.34" stroke="#8c8c8c" stroke-width="1.6"/>
<line x1="162.20" y1="444.34" x2="164.20" y2="444.34" stroke="#1c1c1c" stroke-width="1"/>
<line x1="164.20" y1="439.31" x2="346.00" y2="439.31" stroke="#8c8c8c" stroke-width="1.6"/>
<line x1="162.20" y1="439.31" x2="164.20" y2="439.31" stroke="#1c1c1c" stroke-width="1"/>
<line x1="164.20" y1="435.41" x2="346.00" y2="435.41" stroke="#8c8c8c" stroke-width="1.6"/>
<line x1="162.20" y1="435.41" x2="164.20" y2="435.41" stroke="#1c1c1c" stroke-width="1"/>
<line x1="164.20" y1="432.23" x2="346.00" y2="432.23" stroke="#8c8c8c" stroke-width="1.6"/>
<line x1="162.20" y1="432.23" x2="164.20" y2="432.23" stroke="#1c1c1c" stroke-width="1"/>
<line x1="164.20" y1="429.53" x2="346.00" y2="429.53" stroke="#8c8c8c" stroke-width="1.6"/>
<line x1="162.20" y1="429.53" x2="164.20" y2="429.53" stroke="#1c1c1c" stroke-width="1"/>
<line x1="164.20" y1="427.20" x2="346.00" y2="427.20" stroke="#8c8c8c" stroke-width="1.6"/>
<line x1="162.20" y1="427.20" x2="164.20" y2="427.20" stroke="#1c1c1c" stroke-width="1"/>
<line x1="164.20" y1="425.14" x2="346.00" y2="425.14" stroke="#8c8c8c" stroke-width="1.6"/>
<line x1="162.20" y1="425.14" x2="164.20" y2="425.14" stroke="#1c1c1c" stroke-width="1"/>
<line x1="164.20" y1="463.53" x2="346.00" y2="463.53" stroke="#2a2a2a" stroke-width="1.7"/>
<line x1="164.20" y1="491.66" x2="346.00" y2="491.66" stroke="#8c8c8c" stroke-width="1.6"/>
<line x1="162.20" y1="491.66" x2="164.20" y2="491.66" stroke="#1c1c1c" stroke-width="1"/>
<line x1="164.20" y1="484.57" x2="346.00" y2="484.57" stroke="#8c8c8c" stroke-width="1.6"/>
<line x1="162.20" y1="484.57" x2="164.20" y2="484.57" stroke="#1c1c1c" stroke-width="1"/>
<line x1="164.20" y1="479.54" x2="346.00" y2="479.54" stroke="#8c8c8c" stroke-width="1.6"/>
<line x1="162.20" y1="479.54" x2="164.20" y2="479.54" stroke="#1c1c1c" stroke-width="1"/>
<line x1="164.20" y1="475.64" x2="346.00" y2="475.64" stroke="#8c8c8c" stroke-width="1.6"/>
<line x1="162.20" y1="475.64" x2="164.20" y2="475.64" stroke="#1c1c1c" stroke-width="1"/>
<line x1="164.20" y1="472.46" x2="346.00" y2="472.46" stroke="#8c8c8c" stroke-width="1.6"/>
<line x1="162.20" y1="472.46" x2="164.20" y2="472.46" stroke="#1c1c1c" stroke-width="1"/>
<line x1="164.20" y1="469.77" x2="346.00" y2="469.77" stroke="#8c8c8c" stroke-width="1.6"/>
<line x1="162.20" y1="469.77" x2="164.20" y2="469.77" stroke="#1c1c1c" stroke-width="1"/>
<line x1="164.20" y1="467.43" x2="346.00" y2="467.43" stroke="#8c8c8c" stroke-width="1.6"/>
<line x1="162.20" y1="467.43" x2="164.20" y2="467.43" stroke="#1c1c1c" stroke-width="1"/>
<line x1="164.20" y1="465.37" x2="346.00" y2="465.37" stroke="#8c8c8c" stroke-width="1.6"/>
<line x1="162.20" y1="465.37" x2="164.20" y2="465.37" stroke="#1c1c1c" stroke-width="1"/>
<line x1="164.20" y1="503.77" x2="346.00" y2="503.77" stroke="#2a2a2a" stroke-width="1.7"/>
<line x1="164.20" y1="531.89" x2="346.00" y2="531.89" stroke="#8c8c8c" stroke-width="1.6"/>
<line x1="162.20" y1="531.89" x2="164.20" y2="531.89" stroke="#1c1c1c" stroke-width="1"/>
<line x1="164.20" y1="524.80" x2="346.00" y2="524.80" stroke="#8c8c8c" stroke-width="1.6"/>
<line x1="162.20" y1="524.80" x2="164.20" y2="524.80" stroke="#1c1c1c" stroke-width="1"/>
<line x1="164.20" y1="519.78" x2="346.00" y2="519.78" stroke="#8c8c8c" stroke-width="1.6"/>
<line x1="162.20" y1="519.78" x2="164.20" y2="519.78" stroke="#1c1c1c" stroke-width="1"/>
<line x1="164.20" y1="515.88" x2="346.00" y2="515.88" stroke="#8c8c8c" stroke-width="1.6"/>
<line x1="162.20" y1="515.88" x2="164.20" y2="515.88" stroke="#1c1c1c" stroke-width="1"/>
<line x1="164.20" y1="512.69" x2="346.00" y2="512.69" stroke="#8c8c8c" stroke-width="1.6"/>
<line x1="162.20" y1="512.69" x2="164.20" y2="512.69" stroke="#1c1c1c" stroke-width="1"/>
<line x1="164.20" y1="510.00" x2="346.00" y2="510.00" stroke="#8c8c8c" stroke-width="1.6"/>
<line x1="162.20" y1="510.00" x2="164.20" y2="510.00" stroke="#1c1c1c" stroke-width="1"/>
<line x1="164.20" y1="507.67" x2="346.00" y2="507.67" stroke="#8c8c8c" stroke-width="1.6"/>
<line x1="162.20" y1="507.67" x2="164.20" y2="507.67" stroke="#1c1c1c" stroke-width="1"/>
<line x1="164.20" y1="505.61" x2="346.00" y2="505.61" stroke="#8c8c8c" stroke-width="1.6"/>
<line x1="162.20" y1="505.61" x2="164.20" y2="505.61" stroke="#1c1c1c" stroke-width="1"/>
<line x1="164.20" y1="544.00" x2="346.00" y2="544.00" stroke="#2a2a2a" stroke-width="1.7"/>
<rect x="164.20" y="423.30" width="181.80" height="120.70" stroke="#1c1c1c" stroke-width="1.4" fill="none"/>
<line x1="161.20" y1="544.00" x2="164.20" y2="544.00" stroke="#1c1c1c" stroke-width="1.2"/>
<text x="160.00" y="546.80" font-size="8.4" font-weight="bold" text-anchor="end" fill="#111" stroke="#111" stroke-width="0.3">10<tspan font-size="5.4" dy="-3.4">1</tspan></text>
<line x1="161.20" y1="503.77" x2="164.20" y2="503.77" stroke="#1c1c1c" stroke-width="1.2"/>
<text x="160.00" y="506.57" font-size="8.4" font-weight="bold" text-anchor="end" fill="#111" stroke="#111" stroke-width="0.3">10<tspan font-size="5.4" dy="-3.4">2</tspan></text>
<line x1="161.20" y1="463.53" x2="164.20" y2="463.53" stroke="#1c1c1c" stroke-width="1.2"/>
<text x="160.00" y="466.33" font-size="8.4" font-weight="bold" text-anchor="end" fill="#111" stroke="#111" stroke-width="0.3">10<tspan font-size="5.4" dy="-3.4">3</tspan></text>
<line x1="161.20" y1="423.30" x2="164.20" y2="423.30" stroke="#1c1c1c" stroke-width="1.2"/>
<text x="160.00" y="426.10" font-size="8.4" font-weight="bold" text-anchor="end" fill="#111" stroke="#111" stroke-width="0.3">10<tspan font-size="5.4" dy="-3.4">4</tspan></text>
<text x="138.60" y="482.40" font-size="12.6" font-weight="bold" text-anchor="middle" fill="#111" stroke="#111" stroke-width="0.3" transform="rotate(-90 138.6 482.4)">µg/mL</text>
<text x="195.30" y="558.00" font-size="12.2" font-weight="bold" text-anchor="middle" fill="#111" stroke="#111" stroke-width="0.3">IgM</text>
<text x="257.10" y="558.00" font-size="12.2" font-weight="bold" text-anchor="middle" fill="#111" stroke="#111" stroke-width="0.3">IgG</text>
<text x="315.90" y="558.00" font-size="12.2" font-weight="bold" text-anchor="middle" fill="#111" stroke="#111" stroke-width="0.3">IgA</text>
<circle cx="181.10" cy="458.20" r="2.6" fill="#fff" stroke="#111" stroke-width="1.45"/>
<circle cx="178.60" cy="465.90" r="2.6" fill="#fff" stroke="#111" stroke-width="1.45"/>
<circle cx="173.10" cy="469.60" r="2.6" fill="#fff" stroke="#111" stroke-width="1.45"/>
<circle cx="170.00" cy="473.30" r="2.6" fill="#fff" stroke="#111" stroke-width="1.45"/>
<circle cx="176.80" cy="471.50" r="2.6" fill="#fff" stroke="#111" stroke-width="1.45"/>
<circle cx="181.10" cy="472.70" r="2.6" fill="#fff" stroke="#111" stroke-width="1.45"/>
<circle cx="181.10" cy="475.20" r="2.6" fill="#fff" stroke="#111" stroke-width="1.45"/>
<circle cx="170.60" cy="489.20" r="2.6" fill="#fff" stroke="#111" stroke-width="1.45"/>
<circle cx="178.60" cy="487.50" r="2.6" fill="#fff" stroke="#111" stroke-width="1.45"/>
<circle cx="175.90" cy="493.60" r="2.6" fill="#fff" stroke="#111" stroke-width="1.45"/>
<circle cx="181.70" cy="493.60" r="2.6" fill="#fff" stroke="#111" stroke-width="1.45"/>
<circle cx="197.50" cy="438.40" r="3.4" fill="#111"/>
<circle cx="208.40" cy="445.00" r="3.4" fill="#111"/>
<circle cx="208.40" cy="453.20" r="3.4" fill="#111"/>
<circle cx="197.50" cy="461.20" r="3.4" fill="#111"/>
<circle cx="208.40" cy="461.80" r="3.4" fill="#111"/>
<circle cx="205.30" cy="464.10" r="3.4" fill="#111"/>
<circle cx="197.50" cy="467.30" r="3.4" fill="#111"/>
<circle cx="202.80" cy="473.00" r="3.4" fill="#111"/>
<circle cx="208.40" cy="472.60" r="3.4" fill="#111"/>
<polygon points="206.90,429.89 207.75,431.62 209.66,431.89 208.28,433.24 208.60,435.14 206.90,434.24 205.20,435.14 205.52,433.24 204.14,431.89 206.05,431.62" fill="#3b30d8"/>
<circle cx="242.30" cy="438.20" r="2.6" fill="#fff" stroke="#111" stroke-width="1.45"/>
<circle cx="240.60" cy="440.80" r="2.6" fill="#fff" stroke="#111" stroke-width="1.45"/>
<circle cx="239.40" cy="442.50" r="2.6" fill="#fff" stroke="#111" stroke-width="1.45"/>
<circle cx="236.50" cy="448.30" r="2.6" fill="#fff" stroke="#111" stroke-width="1.45"/>
<circle cx="247.50" cy="448.30" r="2.6" fill="#fff" stroke="#111" stroke-width="1.45"/>
<circle cx="236.50" cy="454.60" r="2.6" fill="#fff" stroke="#111" stroke-width="1.45"/>
<circle cx="244.60" cy="454.60" r="2.6" fill="#fff" stroke="#111" stroke-width="1.45"/>
<circle cx="247.50" cy="451.70" r="2.6" fill="#fff" stroke="#111" stroke-width="1.45"/>
<circle cx="248.10" cy="460.20" r="2.6" fill="#fff" stroke="#111" stroke-width="1.45"/>
<circle cx="242.30" cy="462.10" r="2.6" fill="#fff" stroke="#111" stroke-width="1.45"/>
<circle cx="257.90" cy="429.80" r="3.4" fill="#111"/>
<circle cx="274.60" cy="435.60" r="3.4" fill="#111"/>
<circle cx="263.70" cy="437.30" r="3.4" fill="#111"/>
<circle cx="257.30" cy="442.50" r="3.4" fill="#111"/>
<circle cx="261.90" cy="443.70" r="3.4" fill="#111"/>
<circle cx="267.70" cy="440.80" r="3.4" fill="#111"/>
<circle cx="270.00" cy="444.80" r="3.4" fill="#111"/>
<circle cx="263.10" cy="447.70" r="3.4" fill="#111"/>
<polygon points="267.10,424.59 267.95,426.32 269.86,426.59 268.48,427.94 268.80,429.84 267.10,428.94 265.40,429.84 265.72,427.94 264.34,426.59 266.25,426.32" fill="#3b30d8"/>
<polygon points="273.20,424.59 274.05,426.32 275.96,426.59 274.58,427.94 274.90,429.84 273.20,428.94 271.50,429.84 271.82,427.94 270.44,426.59 272.35,426.32" fill="#3b30d8"/>
<circle cx="302.50" cy="486.70" r="2.6" fill="#fff" stroke="#111" stroke-width="1.45"/>
<circle cx="297.70" cy="492.50" r="2.6" fill="#fff" stroke="#111" stroke-width="1.45"/>
<circle cx="307.50" cy="492.50" r="2.6" fill="#fff" stroke="#111" stroke-width="1.45"/>
<circle cx="296.50" cy="495.40" r="2.6" fill="#fff" stroke="#111" stroke-width="1.45"/>
<circle cx="302.90" cy="498.30" r="2.6" fill="#fff" stroke="#111" stroke-width="1.45"/>
<circle cx="308.70" cy="497.70" r="2.6" fill="#fff" stroke="#111" stroke-width="1.45"/>
<circle cx="329.40" cy="482.70" r="3.4" fill="#111"/>
<circle cx="327.70" cy="491.90" r="3.4" fill="#111"/>
<circle cx="324.80" cy="494.80" r="3.4" fill="#111"/>
<circle cx="333.50" cy="493.70" r="3.4" fill="#111"/>
<circle cx="323.70" cy="498.80" r="3.4" fill="#111"/>
<circle cx="335.20" cy="498.80" r="3.4" fill="#111"/>
<circle cx="335.80" cy="501.20" r="3.4" fill="#111"/>
<circle cx="329.40" cy="508.70" r="3.4" fill="#111"/>
<rect x="349.20" y="421.90" width="44.50" height="28.00" stroke="#555" stroke-width="1.1" fill="none"/>
<circle cx="356.10" cy="429.30" r="2.3" fill="#fff" stroke="#111" stroke-width="1.1"/>
<text x="365.30" y="433.00" font-size="8.2" font-weight="bold" text-anchor="start" fill="#111" stroke="#111" stroke-width="0.3">WT</text>
<circle cx="356.10" cy="442.70" r="2.8" fill="#111"/>
<text x="364.30" y="445.80" font-size="8.1" font-weight="bold" text-anchor="start" fill="#111" stroke="#111" stroke-width="0.3">+/1013</text>
<line x1="104.40" y1="125.40" x2="147.10" y2="125.40" stroke="#e3262b" stroke-width="1.4"/>
<line x1="168.70" y1="162.10" x2="210.80" y2="162.10" stroke="#e3262b" stroke-width="1.5"/>
<line x1="42.90" y1="304.10" x2="68.30" y2="304.10" stroke="#e3262b" stroke-width="1.5"/>
<line x1="76.30" y1="341.70" x2="101.70" y2="341.70" stroke="#e3262b" stroke-width="1.5"/>
<line x1="110.00" y1="326.00" x2="135.50" y2="326.00" stroke="#e3262b" stroke-width="1.5"/>
<line x1="144.00" y1="352.60" x2="168.80" y2="352.60" stroke="#e3262b" stroke-width="1.5"/>
<line x1="225.60" y1="313.60" x2="267.40" y2="313.60" stroke="#e3262b" stroke-width="1.5"/>
<line x1="289.30" y1="351.90" x2="330.80" y2="351.90" stroke="#e3262b" stroke-width="2"/>
<line x1="398.80" y1="318.10" x2="442.00" y2="318.10" stroke="#e3262b" stroke-width="1.5"/>
<line x1="463.40" y1="336.40" x2="506.30" y2="336.40" stroke="#e3262b" stroke-width="1.5"/>
<line x1="171.80" y1="474.60" x2="190.40" y2="474.60" stroke="#e3262b" stroke-width="2.1"/>
<line x1="199.70" y1="454.50" x2="216.80" y2="454.50" stroke="#e3262b" stroke-width="2.1"/>
<line x1="233.10" y1="450.60" x2="251.00" y2="450.60" stroke="#e3262b" stroke-width="2.1"/>
<line x1="255.60" y1="439.00" x2="278.10" y2="439.00" stroke="#e3262b" stroke-width="2.1"/>
<line x1="294.20" y1="492.50" x2="311.80" y2="492.50" stroke="#e3262b" stroke-width="2.1"/>
<line x1="320.80" y1="494.80" x2="338.10" y2="494.80" stroke="#e3262b" stroke-width="2.1"/>
</svg></body></html>
